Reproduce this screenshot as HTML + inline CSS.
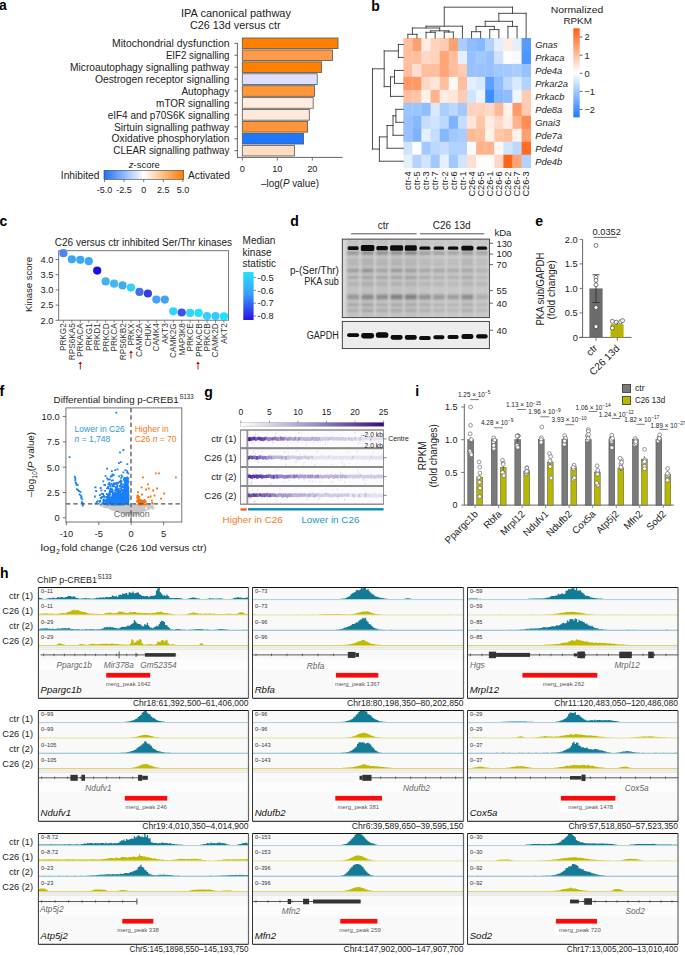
<!DOCTYPE html>
<html><head><meta charset="utf-8"><style>
html,body{margin:0;padding:0;background:#fff;}
svg{display:block;font-family:"Liberation Sans", sans-serif;}
</style></head><body>
<svg width="685" height="955" viewBox="0 0 685 955">
<rect width="685" height="955" fill="#fff"/>
<text x="-0.90" y="9.90" font-size="14" font-weight="bold" fill="#000">a</text>
<text x="236.00" y="16.80" font-size="10.5" text-anchor="middle" textLength="110" lengthAdjust="spacingAndGlyphs" fill="#222">IPA canonical pathway</text>
<text x="235.30" y="29.10" font-size="10.5" text-anchor="middle" textLength="90.6" lengthAdjust="spacingAndGlyphs" fill="#222">C26 13d versus ctr</text>
<rect x="242.30" y="38.00" width="95.70" height="10.60" fill="#ff7f00" stroke="#555" stroke-width="0.8"/>
<line x1="234.40" y1="43.30" x2="237.40" y2="43.30" stroke="#444" stroke-width="0.8"/>
<text x="229.50" y="47.01" font-size="10.3" text-anchor="end" textLength="117.5" lengthAdjust="spacingAndGlyphs" fill="#222">Mitochondrial dysfunction</text>
<rect x="242.30" y="49.93" width="90.10" height="10.60" fill="#ff9a4a" stroke="#555" stroke-width="0.8"/>
<line x1="234.40" y1="55.23" x2="237.40" y2="55.23" stroke="#444" stroke-width="0.8"/>
<text x="229.50" y="58.94" font-size="10.3" text-anchor="end" textLength="63.599999999999994" lengthAdjust="spacingAndGlyphs" fill="#222">EIF2 signalling</text>
<rect x="242.30" y="61.86" width="79.30" height="10.60" fill="#ff7f00" stroke="#555" stroke-width="0.8"/>
<line x1="234.40" y1="67.16" x2="237.40" y2="67.16" stroke="#444" stroke-width="0.8"/>
<text x="229.50" y="70.87" font-size="10.3" text-anchor="end" textLength="159.5" lengthAdjust="spacingAndGlyphs" fill="#222">Microautophagy signalling pathway</text>
<rect x="242.30" y="73.79" width="74.90" height="10.60" fill="#dfe0ff" stroke="#555" stroke-width="0.8"/>
<line x1="234.40" y1="79.09" x2="237.40" y2="79.09" stroke="#444" stroke-width="0.8"/>
<text x="229.50" y="82.80" font-size="10.3" text-anchor="end" textLength="134.6" lengthAdjust="spacingAndGlyphs" fill="#222">Oestrogen receptor signalling</text>
<rect x="242.30" y="85.72" width="72.30" height="10.60" fill="#ff9638" stroke="#555" stroke-width="0.8"/>
<line x1="234.40" y1="91.02" x2="237.40" y2="91.02" stroke="#444" stroke-width="0.8"/>
<text x="229.50" y="94.73" font-size="10.3" text-anchor="end" textLength="48.099999999999994" lengthAdjust="spacingAndGlyphs" fill="#222">Autophagy</text>
<rect x="242.30" y="97.65" width="70.90" height="10.60" fill="#ffede0" stroke="#555" stroke-width="0.8"/>
<line x1="234.40" y1="102.95" x2="237.40" y2="102.95" stroke="#444" stroke-width="0.8"/>
<text x="229.50" y="106.66" font-size="10.3" text-anchor="end" textLength="73.4" lengthAdjust="spacingAndGlyphs" fill="#222">mTOR signalling</text>
<rect x="242.30" y="109.58" width="67.00" height="10.60" fill="#ffe9da" stroke="#555" stroke-width="0.8"/>
<line x1="234.40" y1="114.88" x2="237.40" y2="114.88" stroke="#444" stroke-width="0.8"/>
<text x="229.50" y="118.59" font-size="10.3" text-anchor="end" textLength="121.8" lengthAdjust="spacingAndGlyphs" fill="#222">eIF4 and p70S6K signalling</text>
<rect x="242.30" y="121.51" width="65.30" height="10.60" fill="#ff9538" stroke="#555" stroke-width="0.8"/>
<line x1="234.40" y1="126.81" x2="237.40" y2="126.81" stroke="#444" stroke-width="0.8"/>
<text x="229.50" y="130.52" font-size="10.3" text-anchor="end" textLength="115.5" lengthAdjust="spacingAndGlyphs" fill="#222">Sirtuin signalling pathway</text>
<rect x="242.30" y="133.44" width="61.30" height="10.60" fill="#1e78ff" stroke="#555" stroke-width="0.8"/>
<line x1="234.40" y1="138.74" x2="237.40" y2="138.74" stroke="#444" stroke-width="0.8"/>
<text x="229.50" y="142.45" font-size="10.3" text-anchor="end" textLength="117.9" lengthAdjust="spacingAndGlyphs" fill="#222">Oxidative phosphorylation</text>
<rect x="242.30" y="145.37" width="52.10" height="10.60" fill="#ffdcc2" stroke="#555" stroke-width="0.8"/>
<line x1="234.40" y1="150.67" x2="237.40" y2="150.67" stroke="#444" stroke-width="0.8"/>
<text x="229.50" y="154.38" font-size="10.3" text-anchor="end" textLength="116.2" lengthAdjust="spacingAndGlyphs" fill="#222">CLEAR signalling pathway</text>
<line x1="237.40" y1="43.10" x2="237.40" y2="157.60" stroke="#555" stroke-width="0.9"/>
<line x1="237.00" y1="157.40" x2="342.60" y2="157.40" stroke="#555" stroke-width="0.9"/>
<line x1="242.30" y1="157.40" x2="242.30" y2="160.50" stroke="#555" stroke-width="0.8"/>
<text x="242.30" y="172.31" font-size="9.2" text-anchor="middle" fill="#222">0</text>
<line x1="277.30" y1="157.40" x2="277.30" y2="160.50" stroke="#555" stroke-width="0.8"/>
<text x="277.30" y="172.31" font-size="9.2" text-anchor="middle" fill="#222">10</text>
<line x1="312.30" y1="157.40" x2="312.30" y2="160.50" stroke="#555" stroke-width="0.8"/>
<text x="312.30" y="172.31" font-size="9.2" text-anchor="middle" fill="#222">20</text>
<text x="290" y="187.41" font-size="10.3" text-anchor="middle" textLength="58" lengthAdjust="spacingAndGlyphs" fill="#222">–log(<tspan font-style="italic">P</tspan> value)</text>
<defs><linearGradient id="ga" x1="0" x2="1" y1="0" y2="0"><stop offset="0" stop-color="#1e6fff"/><stop offset="0.5" stop-color="#ffffff"/><stop offset="1" stop-color="#ff7a00"/></linearGradient></defs>
<rect x="104.00" y="170.30" width="79.70" height="9.10" fill="url(#ga)" stroke="#444" stroke-width="0.6"/>
<text x="144.30" y="167.92" font-size="9.5" text-anchor="middle" fill="#222"><tspan font-style="italic">z</tspan>-score</text>
<text x="99.40" y="178.67" font-size="10.2" text-anchor="end" fill="#222">Inhibited</text>
<text x="188.00" y="178.67" font-size="10.2" fill="#222">Activated</text>
<line x1="104.50" y1="179.40" x2="104.50" y2="182.00" stroke="#444" stroke-width="0.7"/>
<text x="104.50" y="192.94" font-size="9" text-anchor="middle" fill="#222">-5.0</text>
<line x1="124.10" y1="179.40" x2="124.10" y2="182.00" stroke="#444" stroke-width="0.7"/>
<text x="124.10" y="192.94" font-size="9" text-anchor="middle" fill="#222">-2.5</text>
<line x1="143.70" y1="179.40" x2="143.70" y2="182.00" stroke="#444" stroke-width="0.7"/>
<text x="143.70" y="192.94" font-size="9" text-anchor="middle" fill="#222">0</text>
<line x1="163.30" y1="179.40" x2="163.30" y2="182.00" stroke="#444" stroke-width="0.7"/>
<text x="163.30" y="192.94" font-size="9" text-anchor="middle" fill="#222">2.5</text>
<line x1="182.90" y1="179.40" x2="182.90" y2="182.00" stroke="#444" stroke-width="0.7"/>
<text x="182.90" y="192.94" font-size="9" text-anchor="middle" fill="#222">5.0</text>
<text x="371.30" y="10.50" font-size="14" font-weight="bold" fill="#000">b</text>
<rect x="403.30" y="38.00" width="9.40" height="13.27" fill="#ffbf9f"/>
<rect x="412.40" y="38.00" width="9.40" height="13.27" fill="#ffa070"/>
<rect x="421.50" y="38.00" width="9.40" height="13.27" fill="#ffece2"/>
<rect x="430.60" y="38.00" width="9.40" height="13.27" fill="#ffd2bc"/>
<rect x="439.70" y="38.00" width="9.40" height="13.27" fill="#ffccb3"/>
<rect x="448.80" y="38.00" width="9.40" height="13.27" fill="#ffa070"/>
<rect x="457.90" y="38.00" width="9.40" height="13.27" fill="#aacdff"/>
<rect x="467.00" y="38.00" width="9.40" height="13.27" fill="#8fbdff"/>
<rect x="476.10" y="38.00" width="9.40" height="13.27" fill="#86b8ff"/>
<rect x="485.20" y="38.00" width="9.40" height="13.27" fill="#b3d2ff"/>
<rect x="494.30" y="38.00" width="9.40" height="13.27" fill="#e5f0ff"/>
<rect x="503.40" y="38.00" width="9.40" height="13.27" fill="#ffece2"/>
<rect x="512.50" y="38.00" width="9.40" height="13.27" fill="#e5f0ff"/>
<rect x="521.60" y="38.00" width="9.40" height="13.27" fill="#559bff"/>
<rect x="403.30" y="50.97" width="9.40" height="13.27" fill="#ffbf9f"/>
<rect x="412.40" y="50.97" width="9.40" height="13.27" fill="#ffbf9f"/>
<rect x="421.50" y="50.97" width="9.40" height="13.27" fill="#ffd9c6"/>
<rect x="430.60" y="50.97" width="9.40" height="13.27" fill="#ffd2bc"/>
<rect x="439.70" y="50.97" width="9.40" height="13.27" fill="#ffa679"/>
<rect x="448.80" y="50.97" width="9.40" height="13.27" fill="#ffbf9f"/>
<rect x="457.90" y="50.97" width="9.40" height="13.27" fill="#e5f0ff"/>
<rect x="467.00" y="50.97" width="9.40" height="13.27" fill="#98c2ff"/>
<rect x="476.10" y="50.97" width="9.40" height="13.27" fill="#a1c8ff"/>
<rect x="485.20" y="50.97" width="9.40" height="13.27" fill="#98c2ff"/>
<rect x="494.30" y="50.97" width="9.40" height="13.27" fill="#d0e3ff"/>
<rect x="503.40" y="50.97" width="9.40" height="13.27" fill="#ffffff"/>
<rect x="512.50" y="50.97" width="9.40" height="13.27" fill="#f7faff"/>
<rect x="521.60" y="50.97" width="9.40" height="13.27" fill="#4d96ff"/>
<rect x="403.30" y="63.94" width="9.40" height="13.27" fill="#ffbf9f"/>
<rect x="412.40" y="63.94" width="9.40" height="13.27" fill="#ffdfcf"/>
<rect x="421.50" y="63.94" width="9.40" height="13.27" fill="#ffbf9f"/>
<rect x="430.60" y="63.94" width="9.40" height="13.27" fill="#ffbf9f"/>
<rect x="439.70" y="63.94" width="9.40" height="13.27" fill="#ffa679"/>
<rect x="448.80" y="63.94" width="9.40" height="13.27" fill="#ffbf9f"/>
<rect x="457.90" y="63.94" width="9.40" height="13.27" fill="#ffccb3"/>
<rect x="467.00" y="63.94" width="9.40" height="13.27" fill="#98c2ff"/>
<rect x="476.10" y="63.94" width="9.40" height="13.27" fill="#98c2ff"/>
<rect x="485.20" y="63.94" width="9.40" height="13.27" fill="#98c2ff"/>
<rect x="494.30" y="63.94" width="9.40" height="13.27" fill="#a1c8ff"/>
<rect x="503.40" y="63.94" width="9.40" height="13.27" fill="#a1c8ff"/>
<rect x="512.50" y="63.94" width="9.40" height="13.27" fill="#aacdff"/>
<rect x="521.60" y="63.94" width="9.40" height="13.27" fill="#98c2ff"/>
<rect x="403.30" y="76.91" width="9.40" height="13.27" fill="#ff9966"/>
<rect x="412.40" y="76.91" width="9.40" height="13.27" fill="#ff9966"/>
<rect x="421.50" y="76.91" width="9.40" height="13.27" fill="#ffd9c6"/>
<rect x="430.60" y="76.91" width="9.40" height="13.27" fill="#ffe6d9"/>
<rect x="439.70" y="76.91" width="9.40" height="13.27" fill="#ffbf9f"/>
<rect x="448.80" y="76.91" width="9.40" height="13.27" fill="#fff9f5"/>
<rect x="457.90" y="76.91" width="9.40" height="13.27" fill="#ffbf9f"/>
<rect x="467.00" y="76.91" width="9.40" height="13.27" fill="#e5f0ff"/>
<rect x="476.10" y="76.91" width="9.40" height="13.27" fill="#dae9ff"/>
<rect x="485.20" y="76.91" width="9.40" height="13.27" fill="#5da0ff"/>
<rect x="494.30" y="76.91" width="9.40" height="13.27" fill="#8fbdff"/>
<rect x="503.40" y="76.91" width="9.40" height="13.27" fill="#bcd8ff"/>
<rect x="512.50" y="76.91" width="9.40" height="13.27" fill="#dae9ff"/>
<rect x="521.60" y="76.91" width="9.40" height="13.27" fill="#b3d2ff"/>
<rect x="403.30" y="89.88" width="9.40" height="13.27" fill="#ffbf9f"/>
<rect x="412.40" y="89.88" width="9.40" height="13.27" fill="#ffc6a9"/>
<rect x="421.50" y="89.88" width="9.40" height="13.27" fill="#fff2ec"/>
<rect x="430.60" y="89.88" width="9.40" height="13.27" fill="#ffb38c"/>
<rect x="439.70" y="89.88" width="9.40" height="13.27" fill="#ffece2"/>
<rect x="448.80" y="89.88" width="9.40" height="13.27" fill="#ffe6d9"/>
<rect x="457.90" y="89.88" width="9.40" height="13.27" fill="#ffccb3"/>
<rect x="467.00" y="89.88" width="9.40" height="13.27" fill="#d0e3ff"/>
<rect x="476.10" y="89.88" width="9.40" height="13.27" fill="#eaf3ff"/>
<rect x="485.20" y="89.88" width="9.40" height="13.27" fill="#3d8dff"/>
<rect x="494.30" y="89.88" width="9.40" height="13.27" fill="#86b8ff"/>
<rect x="503.40" y="89.88" width="9.40" height="13.27" fill="#8fbdff"/>
<rect x="512.50" y="89.88" width="9.40" height="13.27" fill="#f0f6ff"/>
<rect x="521.60" y="89.88" width="9.40" height="13.27" fill="#ffccb3"/>
<rect x="403.30" y="102.85" width="9.40" height="13.27" fill="#9cc5ff"/>
<rect x="412.40" y="102.85" width="9.40" height="13.27" fill="#9cc5ff"/>
<rect x="421.50" y="102.85" width="9.40" height="13.27" fill="#8fbdff"/>
<rect x="430.60" y="102.85" width="9.40" height="13.27" fill="#dae9ff"/>
<rect x="439.70" y="102.85" width="9.40" height="13.27" fill="#aacdff"/>
<rect x="448.80" y="102.85" width="9.40" height="13.27" fill="#bcd8ff"/>
<rect x="457.90" y="102.85" width="9.40" height="13.27" fill="#a1c8ff"/>
<rect x="467.00" y="102.85" width="9.40" height="13.27" fill="#ffd2bc"/>
<rect x="476.10" y="102.85" width="9.40" height="13.27" fill="#ffd2bc"/>
<rect x="485.20" y="102.85" width="9.40" height="13.27" fill="#ffd9c6"/>
<rect x="494.30" y="102.85" width="9.40" height="13.27" fill="#ffb996"/>
<rect x="503.40" y="102.85" width="9.40" height="13.27" fill="#fff2ec"/>
<rect x="512.50" y="102.85" width="9.40" height="13.27" fill="#ff9966"/>
<rect x="521.60" y="102.85" width="9.40" height="13.27" fill="#ffccb3"/>
<rect x="403.30" y="115.82" width="9.40" height="13.27" fill="#98c2ff"/>
<rect x="412.40" y="115.82" width="9.40" height="13.27" fill="#86b8ff"/>
<rect x="421.50" y="115.82" width="9.40" height="13.27" fill="#c6ddff"/>
<rect x="430.60" y="115.82" width="9.40" height="13.27" fill="#d0e3ff"/>
<rect x="439.70" y="115.82" width="9.40" height="13.27" fill="#bcd8ff"/>
<rect x="448.80" y="115.82" width="9.40" height="13.27" fill="#7eb3ff"/>
<rect x="457.90" y="115.82" width="9.40" height="13.27" fill="#c6ddff"/>
<rect x="467.00" y="115.82" width="9.40" height="13.27" fill="#ffe6d9"/>
<rect x="476.10" y="115.82" width="9.40" height="13.27" fill="#ffc6a9"/>
<rect x="485.20" y="115.82" width="9.40" height="13.27" fill="#ffece2"/>
<rect x="494.30" y="115.82" width="9.40" height="13.27" fill="#ffd9c6"/>
<rect x="503.40" y="115.82" width="9.40" height="13.27" fill="#ffece2"/>
<rect x="512.50" y="115.82" width="9.40" height="13.27" fill="#ffb38c"/>
<rect x="521.60" y="115.82" width="9.40" height="13.27" fill="#ff8d53"/>
<rect x="403.30" y="128.79" width="9.40" height="13.27" fill="#98c2ff"/>
<rect x="412.40" y="128.79" width="9.40" height="13.27" fill="#7eb3ff"/>
<rect x="421.50" y="128.79" width="9.40" height="13.27" fill="#e5f0ff"/>
<rect x="430.60" y="128.79" width="9.40" height="13.27" fill="#c6ddff"/>
<rect x="439.70" y="128.79" width="9.40" height="13.27" fill="#86b8ff"/>
<rect x="448.80" y="128.79" width="9.40" height="13.27" fill="#a1c8ff"/>
<rect x="457.90" y="128.79" width="9.40" height="13.27" fill="#aacdff"/>
<rect x="467.00" y="128.79" width="9.40" height="13.27" fill="#ffb996"/>
<rect x="476.10" y="128.79" width="9.40" height="13.27" fill="#ffbf9f"/>
<rect x="485.20" y="128.79" width="9.40" height="13.27" fill="#fff2ec"/>
<rect x="494.30" y="128.79" width="9.40" height="13.27" fill="#ffc6a9"/>
<rect x="503.40" y="128.79" width="9.40" height="13.27" fill="#ffbf9f"/>
<rect x="512.50" y="128.79" width="9.40" height="13.27" fill="#fff2ec"/>
<rect x="521.60" y="128.79" width="9.40" height="13.27" fill="#ffa070"/>
<rect x="403.30" y="141.76" width="9.40" height="13.27" fill="#d0e3ff"/>
<rect x="412.40" y="141.76" width="9.40" height="13.27" fill="#ffffff"/>
<rect x="421.50" y="141.76" width="9.40" height="13.27" fill="#a1c8ff"/>
<rect x="430.60" y="141.76" width="9.40" height="13.27" fill="#bcd8ff"/>
<rect x="439.70" y="141.76" width="9.40" height="13.27" fill="#c6ddff"/>
<rect x="448.80" y="141.76" width="9.40" height="13.27" fill="#b3d2ff"/>
<rect x="457.90" y="141.76" width="9.40" height="13.27" fill="#b3d2ff"/>
<rect x="467.00" y="141.76" width="9.40" height="13.27" fill="#f7faff"/>
<rect x="476.10" y="141.76" width="9.40" height="13.27" fill="#ffb38c"/>
<rect x="485.20" y="141.76" width="9.40" height="13.27" fill="#ffb38c"/>
<rect x="494.30" y="141.76" width="9.40" height="13.27" fill="#fff9f5"/>
<rect x="503.40" y="141.76" width="9.40" height="13.27" fill="#d0e3ff"/>
<rect x="512.50" y="141.76" width="9.40" height="13.27" fill="#bcd8ff"/>
<rect x="521.60" y="141.76" width="9.40" height="13.27" fill="#ff6d23"/>
<rect x="403.30" y="154.73" width="9.40" height="13.27" fill="#e5f0ff"/>
<rect x="412.40" y="154.73" width="9.40" height="13.27" fill="#b3d2ff"/>
<rect x="421.50" y="154.73" width="9.40" height="13.27" fill="#d0e3ff"/>
<rect x="430.60" y="154.73" width="9.40" height="13.27" fill="#a1c8ff"/>
<rect x="439.70" y="154.73" width="9.40" height="13.27" fill="#e5f0ff"/>
<rect x="448.80" y="154.73" width="9.40" height="13.27" fill="#a1c8ff"/>
<rect x="457.90" y="154.73" width="9.40" height="13.27" fill="#d0e3ff"/>
<rect x="467.00" y="154.73" width="9.40" height="13.27" fill="#ffdfcf"/>
<rect x="476.10" y="154.73" width="9.40" height="13.27" fill="#fffcfa"/>
<rect x="485.20" y="154.73" width="9.40" height="13.27" fill="#fffcfa"/>
<rect x="494.30" y="154.73" width="9.40" height="13.27" fill="#ffd9c6"/>
<rect x="503.40" y="154.73" width="9.40" height="13.27" fill="#ff661a"/>
<rect x="512.50" y="154.73" width="9.40" height="13.27" fill="#ffa679"/>
<rect x="521.60" y="154.73" width="9.40" height="13.27" fill="#b3d2ff"/>
<text x="535.20" y="47.87" font-size="9.4" font-style="italic" fill="#222">Gnas</text>
<text x="535.20" y="60.84" font-size="9.4" font-style="italic" fill="#222">Prkaca</text>
<text x="535.20" y="73.81" font-size="9.4" font-style="italic" fill="#222">Pde4a</text>
<text x="535.20" y="86.78" font-size="9.4" font-style="italic" fill="#222">Prkar2a</text>
<text x="535.20" y="99.75" font-size="9.4" font-style="italic" fill="#222">Prkacb</text>
<text x="535.20" y="112.72" font-size="9.4" font-style="italic" fill="#222">Pde8a</text>
<text x="535.20" y="125.69" font-size="9.4" font-style="italic" fill="#222">Gnai3</text>
<text x="535.20" y="138.66" font-size="9.4" font-style="italic" fill="#222">Pde7a</text>
<text x="535.20" y="151.63" font-size="9.4" font-style="italic" fill="#222">Pde4d</text>
<text x="535.20" y="164.60" font-size="9.4" font-style="italic" fill="#222">Pde4b</text>
<text transform="translate(407.85,171.50) rotate(-90)" x="0" y="3.31" font-size="9.2" text-anchor="end" fill="#222">ctr-4</text>
<text transform="translate(416.95,171.50) rotate(-90)" x="0" y="3.31" font-size="9.2" text-anchor="end" fill="#222">ctr-5</text>
<text transform="translate(426.05,171.50) rotate(-90)" x="0" y="3.31" font-size="9.2" text-anchor="end" fill="#222">ctr-3</text>
<text transform="translate(435.15,171.50) rotate(-90)" x="0" y="3.31" font-size="9.2" text-anchor="end" fill="#222">ctr-7</text>
<text transform="translate(444.25,171.50) rotate(-90)" x="0" y="3.31" font-size="9.2" text-anchor="end" fill="#222">ctr-2</text>
<text transform="translate(453.35,171.50) rotate(-90)" x="0" y="3.31" font-size="9.2" text-anchor="end" fill="#222">ctr-6</text>
<text transform="translate(462.45,171.50) rotate(-90)" x="0" y="3.31" font-size="9.2" text-anchor="end" fill="#222">ctr-1</text>
<text transform="translate(471.55,171.50) rotate(-90)" x="0" y="3.31" font-size="9.2" text-anchor="end" fill="#222">C26-4</text>
<text transform="translate(480.65,171.50) rotate(-90)" x="0" y="3.31" font-size="9.2" text-anchor="end" fill="#222">C26-5</text>
<text transform="translate(489.75,171.50) rotate(-90)" x="0" y="3.31" font-size="9.2" text-anchor="end" fill="#222">C26-1</text>
<text transform="translate(498.85,171.50) rotate(-90)" x="0" y="3.31" font-size="9.2" text-anchor="end" fill="#222">C26-6</text>
<text transform="translate(507.95,171.50) rotate(-90)" x="0" y="3.31" font-size="9.2" text-anchor="end" fill="#222">C26-2</text>
<text transform="translate(517.05,171.50) rotate(-90)" x="0" y="3.31" font-size="9.2" text-anchor="end" fill="#222">C26-7</text>
<text transform="translate(526.15,171.50) rotate(-90)" x="0" y="3.31" font-size="9.2" text-anchor="end" fill="#222">C26-3</text>
<path d="M407.85,38.00L407.85,34.30 M407.85,34.30L416.95,34.30 M416.95,34.30L416.95,38.00 M426.05,38.00L426.05,32.30 M426.05,32.30L435.15,32.30 M435.15,32.30L435.15,38.00 M444.25,38.00L444.25,32.00 M444.25,32.00L453.35,32.00 M453.35,32.00L453.35,38.00 M430.60,32.30L430.60,30.80 M430.60,30.80L448.80,30.80 M448.80,30.80L448.80,32.00 M412.40,34.30L412.40,28.00 M412.40,28.00L439.70,28.00 M439.70,28.00L439.70,30.80 M426.05,28.00L426.05,26.20 M426.05,26.20L462.45,26.20 M462.45,26.20L462.45,38.00 M471.55,38.00L471.55,31.70 M471.55,31.70L480.65,31.70 M480.65,31.70L480.65,38.00 M489.75,38.00L489.75,29.60 M489.75,29.60L498.85,29.60 M498.85,29.60L498.85,38.00 M476.10,31.70L476.10,26.40 M476.10,26.40L494.30,26.40 M494.30,26.40L494.30,29.60 M507.95,38.00L507.95,26.40 M507.95,26.40L517.05,26.40 M517.05,26.40L517.05,38.00 M485.20,26.40L485.20,21.30 M485.20,21.30L512.50,21.30 M512.50,21.30L512.50,26.40 M498.85,21.30L498.85,13.30 M498.85,13.30L526.15,13.30 M526.15,13.30L526.15,38.00 M444.25,26.20L444.25,7.20 M444.25,7.20L512.50,7.20 M512.50,7.20L512.50,13.30 M403.30,44.48L398.40,44.48 M398.40,44.48L398.40,57.45 M398.40,57.45L403.30,57.45 M403.30,70.43L394.50,70.43 M394.50,70.43L394.50,83.40 M394.50,83.40L403.30,83.40 M394.50,76.91L390.50,76.91 M390.50,76.91L390.50,96.37 M390.50,96.37L403.30,96.37 M398.40,50.97L384.20,50.97 M384.20,50.97L384.20,86.64 M384.20,86.64L390.50,86.64 M403.30,109.34L395.90,109.34 M395.90,109.34L395.90,122.31 M395.90,122.31L403.30,122.31 M395.90,115.82L393.00,115.82 M393.00,115.82L393.00,135.28 M393.00,135.28L403.30,135.28 M393.00,125.55L387.10,125.55 M387.10,125.55L387.10,148.25 M387.10,148.25L403.30,148.25 M387.10,136.90L379.40,136.90 M379.40,136.90L379.40,161.22 M379.40,161.22L403.30,161.22 M384.20,68.80L372.50,68.80 M372.50,68.80L372.50,149.06 M372.50,149.06L379.40,149.06" stroke="#3a3a3a" stroke-width="0.9" fill="none" stroke-linecap="square"/>
<defs><linearGradient id="gb" x1="0" x2="0" y1="0" y2="1"><stop offset="0" stop-color="#ff5e0e"/><stop offset="0.5" stop-color="#ffffff"/><stop offset="1" stop-color="#1e7bff"/></linearGradient></defs>
<rect x="573.30" y="28.30" width="6.40" height="89.10" fill="url(#gb)"/>
<line x1="579.70" y1="37.10" x2="582.50" y2="37.10" stroke="#444" stroke-width="0.8"/>
<text x="584.50" y="40.41" font-size="9.2" fill="#222">2</text>
<line x1="579.70" y1="55.20" x2="582.50" y2="55.20" stroke="#444" stroke-width="0.8"/>
<text x="584.50" y="58.51" font-size="9.2" fill="#222">1</text>
<line x1="579.70" y1="73.30" x2="582.50" y2="73.30" stroke="#444" stroke-width="0.8"/>
<text x="584.50" y="76.61" font-size="9.2" fill="#222">0</text>
<line x1="579.70" y1="91.40" x2="582.50" y2="91.40" stroke="#444" stroke-width="0.8"/>
<text x="584.50" y="94.71" font-size="9.2" fill="#222">−1</text>
<line x1="579.70" y1="109.50" x2="582.50" y2="109.50" stroke="#444" stroke-width="0.8"/>
<text x="584.50" y="112.81" font-size="9.2" fill="#222">−2</text>
<text x="550.70" y="13.16" font-size="9.9" textLength="52.5" lengthAdjust="spacingAndGlyphs" fill="#222">Normalized</text>
<text x="563.40" y="24.26" font-size="9.9" fill="#222">RPKM</text>
<text x="-0.60" y="225.60" font-size="14" font-weight="bold" fill="#000">c</text>
<text x="54.80" y="246.30" font-size="10.0" fill="#222">C26 versus ctr inhibited Ser/Thr kinases</text>
<rect x="58.70" y="250.70" width="169.90" height="69.50" fill="none" stroke="#666" stroke-width="0.9"/>
<line x1="55.50" y1="320.30" x2="58.70" y2="320.30" stroke="#555" stroke-width="0.8"/>
<text x="53.50" y="323.65" font-size="9.3" text-anchor="end" fill="#222">2.0</text>
<line x1="55.50" y1="305.10" x2="58.70" y2="305.10" stroke="#555" stroke-width="0.8"/>
<text x="53.50" y="308.45" font-size="9.3" text-anchor="end" fill="#222">2.5</text>
<line x1="55.50" y1="289.90" x2="58.70" y2="289.90" stroke="#555" stroke-width="0.8"/>
<text x="53.50" y="293.25" font-size="9.3" text-anchor="end" fill="#222">3.0</text>
<line x1="55.50" y1="274.70" x2="58.70" y2="274.70" stroke="#555" stroke-width="0.8"/>
<text x="53.50" y="278.05" font-size="9.3" text-anchor="end" fill="#222">3.5</text>
<line x1="55.50" y1="259.50" x2="58.70" y2="259.50" stroke="#555" stroke-width="0.8"/>
<text x="53.50" y="262.85" font-size="9.3" text-anchor="end" fill="#222">4.0</text>
<text transform="translate(28.60,284.50) rotate(-90)" x="0" y="3.53" font-size="9.8" text-anchor="middle" textLength="55.2" lengthAdjust="spacingAndGlyphs" fill="#222">Kinase score</text>
<circle cx="63.40" cy="253.20" r="4.10" fill="#4a86f5"/>
<line x1="63.40" y1="320.20" x2="63.40" y2="322.80" stroke="#555" stroke-width="0.7"/>
<text transform="translate(63.40,323.30) rotate(-90)" x="0" y="2.95" font-size="8.2" text-anchor="end" fill="#333">PRKG2</text>
<circle cx="71.85" cy="259.30" r="4.10" fill="#3aa6f6"/>
<line x1="71.85" y1="320.20" x2="71.85" y2="322.80" stroke="#555" stroke-width="0.7"/>
<text transform="translate(71.85,323.30) rotate(-90)" x="0" y="2.95" font-size="8.2" text-anchor="end" fill="#333">RPS6KA5</text>
<circle cx="80.30" cy="259.80" r="4.10" fill="#3aa6f6"/>
<line x1="80.30" y1="320.20" x2="80.30" y2="322.80" stroke="#555" stroke-width="0.7"/>
<text transform="translate(80.30,323.30) rotate(-90)" x="0" y="2.95" font-size="8.2" text-anchor="end" fill="#333">PRKACA</text>
<circle cx="88.75" cy="261.20" r="4.10" fill="#3aa8f6"/>
<line x1="88.75" y1="320.20" x2="88.75" y2="322.80" stroke="#555" stroke-width="0.7"/>
<text transform="translate(88.75,323.30) rotate(-90)" x="0" y="2.95" font-size="8.2" text-anchor="end" fill="#333">PRKG1</text>
<circle cx="97.20" cy="270.60" r="4.10" fill="#1a10e0"/>
<line x1="97.20" y1="320.20" x2="97.20" y2="322.80" stroke="#555" stroke-width="0.7"/>
<text transform="translate(97.20,323.30) rotate(-90)" x="0" y="2.95" font-size="8.2" text-anchor="end" fill="#333">PRKD1</text>
<circle cx="105.65" cy="281.40" r="4.10" fill="#40b2f6"/>
<line x1="105.65" y1="320.20" x2="105.65" y2="322.80" stroke="#555" stroke-width="0.7"/>
<text transform="translate(105.65,323.30) rotate(-90)" x="0" y="2.95" font-size="8.2" text-anchor="end" fill="#333">PRKCD</text>
<circle cx="114.10" cy="283.70" r="4.10" fill="#40b6f6"/>
<line x1="114.10" y1="320.20" x2="114.10" y2="322.80" stroke="#555" stroke-width="0.7"/>
<text transform="translate(114.10,323.30) rotate(-90)" x="0" y="2.95" font-size="8.2" text-anchor="end" fill="#333">PRKCA</text>
<circle cx="122.55" cy="285.40" r="4.10" fill="#40acf6"/>
<line x1="122.55" y1="320.20" x2="122.55" y2="322.80" stroke="#555" stroke-width="0.7"/>
<text transform="translate(122.55,323.30) rotate(-90)" x="0" y="2.95" font-size="8.2" text-anchor="end" fill="#333">RPS6KB2</text>
<circle cx="131.00" cy="287.60" r="4.10" fill="#30d0ff"/>
<line x1="131.00" y1="320.20" x2="131.00" y2="322.80" stroke="#555" stroke-width="0.7"/>
<text transform="translate(131.00,323.30) rotate(-90)" x="0" y="2.95" font-size="8.2" text-anchor="end" fill="#333">PRKX</text>
<circle cx="139.45" cy="291.90" r="4.10" fill="#4070f0"/>
<line x1="139.45" y1="320.20" x2="139.45" y2="322.80" stroke="#555" stroke-width="0.7"/>
<text transform="translate(139.45,323.30) rotate(-90)" x="0" y="2.95" font-size="8.2" text-anchor="end" fill="#333">CAMK2A</text>
<circle cx="147.90" cy="293.50" r="4.10" fill="#3040e0"/>
<line x1="147.90" y1="320.20" x2="147.90" y2="322.80" stroke="#555" stroke-width="0.7"/>
<text transform="translate(147.90,323.30) rotate(-90)" x="0" y="2.95" font-size="8.2" text-anchor="end" fill="#333">CHUK</text>
<circle cx="156.35" cy="299.60" r="4.10" fill="#45a2f6"/>
<line x1="156.35" y1="320.20" x2="156.35" y2="322.80" stroke="#555" stroke-width="0.7"/>
<text transform="translate(156.35,323.30) rotate(-90)" x="0" y="2.95" font-size="8.2" text-anchor="end" fill="#333">CAMK4</text>
<circle cx="164.80" cy="299.60" r="4.10" fill="#45a2f6"/>
<line x1="164.80" y1="320.20" x2="164.80" y2="322.80" stroke="#555" stroke-width="0.7"/>
<text transform="translate(164.80,323.30) rotate(-90)" x="0" y="2.95" font-size="8.2" text-anchor="end" fill="#333">AKT3</text>
<circle cx="173.25" cy="311.30" r="4.10" fill="#30d2ff"/>
<line x1="173.25" y1="320.20" x2="173.25" y2="322.80" stroke="#555" stroke-width="0.7"/>
<text transform="translate(173.25,323.30) rotate(-90)" x="0" y="2.95" font-size="8.2" text-anchor="end" fill="#333">CAMK2G</text>
<circle cx="181.70" cy="312.50" r="4.10" fill="#3a52e8"/>
<line x1="181.70" y1="320.20" x2="181.70" y2="322.80" stroke="#555" stroke-width="0.7"/>
<text transform="translate(181.70,323.30) rotate(-90)" x="0" y="2.95" font-size="8.2" text-anchor="end" fill="#333">MAP3K8</text>
<circle cx="190.15" cy="312.90" r="4.10" fill="#30d6ff"/>
<line x1="190.15" y1="320.20" x2="190.15" y2="322.80" stroke="#555" stroke-width="0.7"/>
<text transform="translate(190.15,323.30) rotate(-90)" x="0" y="2.95" font-size="8.2" text-anchor="end" fill="#333">PRKCE</text>
<circle cx="198.60" cy="312.90" r="4.10" fill="#20e0ff"/>
<line x1="198.60" y1="320.20" x2="198.60" y2="322.80" stroke="#555" stroke-width="0.7"/>
<text transform="translate(198.60,323.30) rotate(-90)" x="0" y="2.95" font-size="8.2" text-anchor="end" fill="#333">PRKACB</text>
<circle cx="207.05" cy="316.00" r="4.10" fill="#35ccff"/>
<line x1="207.05" y1="320.20" x2="207.05" y2="322.80" stroke="#555" stroke-width="0.7"/>
<text transform="translate(207.05,323.30) rotate(-90)" x="0" y="2.95" font-size="8.2" text-anchor="end" fill="#333">PRKCB</text>
<circle cx="215.50" cy="316.00" r="4.10" fill="#35c8ff"/>
<line x1="215.50" y1="320.20" x2="215.50" y2="322.80" stroke="#555" stroke-width="0.7"/>
<text transform="translate(215.50,323.30) rotate(-90)" x="0" y="2.95" font-size="8.2" text-anchor="end" fill="#333">CAMK2D</text>
<circle cx="223.95" cy="316.40" r="4.10" fill="#20e0ff"/>
<line x1="223.95" y1="320.20" x2="223.95" y2="322.80" stroke="#555" stroke-width="0.7"/>
<text transform="translate(223.95,323.30) rotate(-90)" x="0" y="2.95" font-size="8.2" text-anchor="end" fill="#333">AKT2</text>
<line x1="80.30" y1="369.50" x2="80.30" y2="363.50" stroke="#c00000" stroke-width="0.9"/>
<path d="M78.50,364.10L80.30,361.50L82.10,364.10Z" fill="#c00000"/>
<line x1="131.00" y1="358.50" x2="131.00" y2="352.50" stroke="#c00000" stroke-width="0.9"/>
<path d="M129.20,353.10L131.00,350.50L132.80,353.10Z" fill="#c00000"/>
<line x1="198.00" y1="369.50" x2="198.00" y2="363.50" stroke="#c00000" stroke-width="0.9"/>
<path d="M196.20,364.10L198.00,361.50L199.80,364.10Z" fill="#c00000"/>
<defs><linearGradient id="gc" x1="0" x2="0" y1="0" y2="1"><stop offset="0" stop-color="#22e4ff"/><stop offset="0.45" stop-color="#3aa0f8"/><stop offset="1" stop-color="#2a10e8"/></linearGradient></defs>
<rect x="243.30" y="272.00" width="10.30" height="48.00" fill="url(#gc)"/>
<text x="242.60" y="244.10" font-size="10.0" fill="#222">Median</text>
<text x="242.60" y="255.80" font-size="10.0" fill="#222">kinase</text>
<text x="242.60" y="267.00" font-size="10.0" fill="#222">statistic</text>
<line x1="253.60" y1="277.40" x2="255.80" y2="277.40" stroke="#444" stroke-width="0.7"/>
<text x="257.60" y="280.75" font-size="9.3" fill="#222">-0.5</text>
<line x1="253.60" y1="290.27" x2="255.80" y2="290.27" stroke="#444" stroke-width="0.7"/>
<text x="257.60" y="293.62" font-size="9.3" fill="#222">-0.6</text>
<line x1="253.60" y1="303.14" x2="255.80" y2="303.14" stroke="#444" stroke-width="0.7"/>
<text x="257.60" y="306.49" font-size="9.3" fill="#222">-0.7</text>
<line x1="253.60" y1="316.01" x2="255.80" y2="316.01" stroke="#444" stroke-width="0.7"/>
<text x="257.60" y="319.36" font-size="9.3" fill="#222">-0.8</text>
<text x="290.30" y="225.60" font-size="14" font-weight="bold" fill="#000">d</text>
<text x="383.40" y="228.60" font-size="10" text-anchor="middle" fill="#222">ctr</text>
<text x="451.70" y="228.60" font-size="10" text-anchor="middle" fill="#222">C26 13d</text>
<line x1="351.00" y1="233.80" x2="416.60" y2="233.80" stroke="#444" stroke-width="0.9"/>
<line x1="420.00" y1="233.80" x2="484.30" y2="233.80" stroke="#444" stroke-width="0.9"/>
<text x="494.40" y="235.72" font-size="9.5" fill="#222">kDa</text>
<line x1="489.50" y1="243.30" x2="493.00" y2="243.30" stroke="#444" stroke-width="0.8"/>
<text x="496.50" y="246.65" font-size="9.3" fill="#222">130</text>
<line x1="489.50" y1="254.10" x2="493.00" y2="254.10" stroke="#444" stroke-width="0.8"/>
<text x="496.50" y="257.45" font-size="9.3" fill="#222">100</text>
<line x1="489.50" y1="264.60" x2="493.00" y2="264.60" stroke="#444" stroke-width="0.8"/>
<text x="496.50" y="267.95" font-size="9.3" fill="#222">70</text>
<line x1="489.50" y1="290.60" x2="493.00" y2="290.60" stroke="#444" stroke-width="0.8"/>
<text x="496.50" y="293.95" font-size="9.3" fill="#222">55</text>
<line x1="489.50" y1="303.20" x2="493.00" y2="303.20" stroke="#444" stroke-width="0.8"/>
<text x="496.50" y="306.55" font-size="9.3" fill="#222">40</text>
<line x1="489.50" y1="330.20" x2="493.00" y2="330.20" stroke="#444" stroke-width="0.8"/>
<text x="496.50" y="333.55" font-size="9.3" fill="#222">40</text>
<text x="338.90" y="274.20" font-size="10" text-anchor="end" fill="#222">p-(Ser/Thr)</text>
<text x="338.90" y="285.40" font-size="10" text-anchor="end" textLength="34.7" lengthAdjust="spacingAndGlyphs" fill="#222">PKA sub</text>
<text x="338.90" y="339.00" font-size="10" text-anchor="end" textLength="32.2" lengthAdjust="spacingAndGlyphs" fill="#222">GAPDH</text>
<defs><filter id="bl1" x="-20%" y="-20%" width="140%" height="140%"><feGaussianBlur stdDeviation="1.3"/></filter><filter id="bl2" x="-20%" y="-50%" width="140%" height="200%"><feGaussianBlur stdDeviation="0.7"/></filter><clipPath id="cpd1"><rect x="342.3" y="239.1" width="147.1" height="78.5"/></clipPath><clipPath id="cpd2"><rect x="342.3" y="321.4" width="147.1" height="27.2"/></clipPath></defs>
<rect x="342.30" y="239.10" width="147.10" height="78.50" fill="#d7d7d7"/>
<g clip-path="url(#cpd1)">
<g filter="url(#bl1)"><rect x="346.60" y="239" width="13" height="79" fill="rgb(195,195,195)"/><rect x="347.10" y="251.25" width="12" height="3.50" fill="rgb(145,145,145)" opacity="0.9"/><rect x="347.10" y="259.50" width="12" height="2.00" fill="rgb(171,171,171)" opacity="0.9"/><rect x="347.10" y="263.00" width="12" height="2.00" fill="rgb(172,172,172)" opacity="0.9"/><rect x="347.10" y="268.75" width="12" height="3.50" fill="rgb(152,152,152)" opacity="0.9"/><rect x="347.10" y="276.00" width="12" height="3.00" fill="rgb(163,163,163)" opacity="0.9"/><rect x="347.10" y="282.00" width="12" height="4.00" fill="rgb(178,178,178)" opacity="0.9"/><rect x="347.10" y="294.50" width="12" height="5.00" fill="rgb(146,146,146)" opacity="0.9"/><rect x="347.10" y="303.55" width="12" height="2.50" fill="rgb(159,159,159)" opacity="0.9"/><rect x="347.10" y="309.25" width="12" height="2.50" fill="rgb(169,169,169)" opacity="0.9"/><rect x="361.10" y="239" width="13" height="79" fill="rgb(192,192,192)"/><rect x="361.60" y="251.25" width="12" height="3.50" fill="rgb(133,133,133)" opacity="0.9"/><rect x="361.60" y="259.50" width="12" height="2.00" fill="rgb(162,162,162)" opacity="0.9"/><rect x="361.60" y="263.00" width="12" height="2.00" fill="rgb(167,167,167)" opacity="0.9"/><rect x="361.60" y="268.75" width="12" height="3.50" fill="rgb(138,138,138)" opacity="0.9"/><rect x="361.60" y="276.00" width="12" height="3.00" fill="rgb(158,158,158)" opacity="0.9"/><rect x="361.60" y="282.00" width="12" height="4.00" fill="rgb(171,171,171)" opacity="0.9"/><rect x="361.60" y="294.50" width="12" height="5.00" fill="rgb(131,131,131)" opacity="0.9"/><rect x="361.60" y="303.55" width="12" height="2.50" fill="rgb(153,153,153)" opacity="0.9"/><rect x="361.60" y="309.25" width="12" height="2.50" fill="rgb(157,157,157)" opacity="0.9"/><rect x="375.60" y="239" width="13" height="79" fill="rgb(194,194,194)"/><rect x="376.10" y="251.25" width="12" height="3.50" fill="rgb(136,136,136)" opacity="0.9"/><rect x="376.10" y="259.50" width="12" height="2.00" fill="rgb(168,168,168)" opacity="0.9"/><rect x="376.10" y="263.00" width="12" height="2.00" fill="rgb(169,169,169)" opacity="0.9"/><rect x="376.10" y="268.75" width="12" height="3.50" fill="rgb(158,158,158)" opacity="0.9"/><rect x="376.10" y="276.00" width="12" height="3.00" fill="rgb(160,160,160)" opacity="0.9"/><rect x="376.10" y="282.00" width="12" height="4.00" fill="rgb(175,175,175)" opacity="0.9"/><rect x="376.10" y="294.50" width="12" height="5.00" fill="rgb(136,136,136)" opacity="0.9"/><rect x="376.10" y="303.55" width="12" height="2.50" fill="rgb(166,166,166)" opacity="0.9"/><rect x="376.10" y="309.25" width="12" height="2.50" fill="rgb(162,162,162)" opacity="0.9"/><rect x="390.10" y="239" width="13" height="79" fill="rgb(194,194,194)"/><rect x="390.60" y="251.25" width="12" height="3.50" fill="rgb(134,134,134)" opacity="0.9"/><rect x="390.60" y="259.50" width="12" height="2.00" fill="rgb(167,167,167)" opacity="0.9"/><rect x="390.60" y="263.00" width="12" height="2.00" fill="rgb(166,166,166)" opacity="0.9"/><rect x="390.60" y="268.75" width="12" height="3.50" fill="rgb(145,145,145)" opacity="0.9"/><rect x="390.60" y="276.00" width="12" height="3.00" fill="rgb(156,156,156)" opacity="0.9"/><rect x="390.60" y="282.00" width="12" height="4.00" fill="rgb(175,175,175)" opacity="0.9"/><rect x="390.60" y="294.50" width="12" height="5.00" fill="rgb(121,121,121)" opacity="0.9"/><rect x="390.60" y="303.55" width="12" height="2.50" fill="rgb(160,160,160)" opacity="0.9"/><rect x="390.60" y="309.25" width="12" height="2.50" fill="rgb(160,160,160)" opacity="0.9"/><rect x="404.30" y="239" width="13" height="79" fill="rgb(193,193,193)"/><rect x="404.80" y="251.25" width="12" height="3.50" fill="rgb(121,121,121)" opacity="0.9"/><rect x="404.80" y="259.50" width="12" height="2.00" fill="rgb(171,171,171)" opacity="0.9"/><rect x="404.80" y="263.00" width="12" height="2.00" fill="rgb(171,171,171)" opacity="0.9"/><rect x="404.80" y="268.75" width="12" height="3.50" fill="rgb(151,151,151)" opacity="0.9"/><rect x="404.80" y="276.00" width="12" height="3.00" fill="rgb(154,154,154)" opacity="0.9"/><rect x="404.80" y="282.00" width="12" height="4.00" fill="rgb(174,174,174)" opacity="0.9"/><rect x="404.80" y="294.50" width="12" height="5.00" fill="rgb(121,121,121)" opacity="0.9"/><rect x="404.80" y="303.55" width="12" height="2.50" fill="rgb(160,160,160)" opacity="0.9"/><rect x="404.80" y="309.25" width="12" height="2.50" fill="rgb(162,162,162)" opacity="0.9"/><rect x="418.40" y="239" width="13" height="79" fill="rgb(197,197,197)"/><rect x="418.90" y="251.25" width="12" height="3.50" fill="rgb(152,152,152)" opacity="0.9"/><rect x="418.90" y="259.50" width="12" height="2.00" fill="rgb(176,176,176)" opacity="0.9"/><rect x="418.90" y="263.00" width="12" height="2.00" fill="rgb(175,175,175)" opacity="0.9"/><rect x="418.90" y="268.75" width="12" height="3.50" fill="rgb(160,160,160)" opacity="0.9"/><rect x="418.90" y="276.00" width="12" height="3.00" fill="rgb(166,166,166)" opacity="0.9"/><rect x="418.90" y="282.00" width="12" height="4.00" fill="rgb(178,178,178)" opacity="0.9"/><rect x="418.90" y="294.50" width="12" height="5.00" fill="rgb(139,139,139)" opacity="0.9"/><rect x="418.90" y="303.55" width="12" height="2.50" fill="rgb(165,165,165)" opacity="0.9"/><rect x="418.90" y="309.25" width="12" height="2.50" fill="rgb(168,168,168)" opacity="0.9"/><rect x="432.40" y="239" width="13" height="79" fill="rgb(199,199,199)"/><rect x="432.90" y="251.25" width="12" height="3.50" fill="rgb(154,154,154)" opacity="0.9"/><rect x="432.90" y="259.50" width="12" height="2.00" fill="rgb(179,179,179)" opacity="0.9"/><rect x="432.90" y="263.00" width="12" height="2.00" fill="rgb(176,176,176)" opacity="0.9"/><rect x="432.90" y="268.75" width="12" height="3.50" fill="rgb(161,161,161)" opacity="0.9"/><rect x="432.90" y="276.00" width="12" height="3.00" fill="rgb(170,170,170)" opacity="0.9"/><rect x="432.90" y="282.00" width="12" height="4.00" fill="rgb(180,180,180)" opacity="0.9"/><rect x="432.90" y="294.50" width="12" height="5.00" fill="rgb(150,150,150)" opacity="0.9"/><rect x="432.90" y="303.55" width="12" height="2.50" fill="rgb(174,174,174)" opacity="0.9"/><rect x="432.90" y="309.25" width="12" height="2.50" fill="rgb(173,173,173)" opacity="0.9"/><rect x="446.60" y="239" width="13" height="79" fill="rgb(199,199,199)"/><rect x="447.10" y="251.25" width="12" height="3.50" fill="rgb(159,159,159)" opacity="0.9"/><rect x="447.10" y="259.50" width="12" height="2.00" fill="rgb(180,180,180)" opacity="0.9"/><rect x="447.10" y="263.00" width="12" height="2.00" fill="rgb(181,181,181)" opacity="0.9"/><rect x="447.10" y="268.75" width="12" height="3.50" fill="rgb(165,165,165)" opacity="0.9"/><rect x="447.10" y="276.00" width="12" height="3.00" fill="rgb(171,171,171)" opacity="0.9"/><rect x="447.10" y="282.00" width="12" height="4.00" fill="rgb(183,183,183)" opacity="0.9"/><rect x="447.10" y="294.50" width="12" height="5.00" fill="rgb(153,153,153)" opacity="0.9"/><rect x="447.10" y="303.55" width="12" height="2.50" fill="rgb(174,174,174)" opacity="0.9"/><rect x="447.10" y="309.25" width="12" height="2.50" fill="rgb(178,178,178)" opacity="0.9"/><rect x="460.90" y="239" width="13" height="79" fill="rgb(196,196,196)"/><rect x="461.40" y="251.25" width="12" height="3.50" fill="rgb(147,147,147)" opacity="0.9"/><rect x="461.40" y="259.50" width="12" height="2.00" fill="rgb(171,171,171)" opacity="0.9"/><rect x="461.40" y="263.00" width="12" height="2.00" fill="rgb(170,170,170)" opacity="0.9"/><rect x="461.40" y="268.75" width="12" height="3.50" fill="rgb(162,162,162)" opacity="0.9"/><rect x="461.40" y="276.00" width="12" height="3.00" fill="rgb(165,165,165)" opacity="0.9"/><rect x="461.40" y="282.00" width="12" height="4.00" fill="rgb(179,179,179)" opacity="0.9"/><rect x="461.40" y="294.50" width="12" height="5.00" fill="rgb(135,135,135)" opacity="0.9"/><rect x="461.40" y="303.55" width="12" height="2.50" fill="rgb(166,166,166)" opacity="0.9"/><rect x="461.40" y="309.25" width="12" height="2.50" fill="rgb(165,165,165)" opacity="0.9"/><rect x="475.40" y="239" width="13" height="79" fill="rgb(200,200,200)"/><rect x="475.90" y="251.25" width="12" height="3.50" fill="rgb(160,160,160)" opacity="0.9"/><rect x="475.90" y="259.50" width="12" height="2.00" fill="rgb(180,180,180)" opacity="0.9"/><rect x="475.90" y="263.00" width="12" height="2.00" fill="rgb(179,179,179)" opacity="0.9"/><rect x="475.90" y="268.75" width="12" height="3.50" fill="rgb(173,173,173)" opacity="0.9"/><rect x="475.90" y="276.00" width="12" height="3.00" fill="rgb(179,179,179)" opacity="0.9"/><rect x="475.90" y="282.00" width="12" height="4.00" fill="rgb(182,182,182)" opacity="0.9"/><rect x="475.90" y="294.50" width="12" height="5.00" fill="rgb(167,167,167)" opacity="0.9"/><rect x="475.90" y="303.55" width="12" height="2.50" fill="rgb(177,177,177)" opacity="0.9"/><rect x="475.90" y="309.25" width="12" height="2.50" fill="rgb(179,179,179)" opacity="0.9"/></g>
<g filter="url(#bl2)"><rect x="347.60" y="246.30" width="11.00" height="3.60" rx="1.5" fill="#0a0a0a"/><rect x="360.85" y="245.10" width="13.50" height="6.00" rx="1.5" fill="#0a0a0a"/><rect x="376.35" y="245.95" width="11.50" height="4.30" rx="1.5" fill="#0a0a0a"/><rect x="390.10" y="245.35" width="13.00" height="5.50" rx="1.5" fill="#0a0a0a"/><rect x="404.80" y="245.35" width="12.00" height="5.50" rx="1.5" fill="#0a0a0a"/><rect x="419.40" y="246.40" width="11.00" height="3.40" rx="1.5" fill="#0a0a0a"/><rect x="433.65" y="246.40" width="10.50" height="3.40" rx="1.5" fill="#0a0a0a"/><rect x="447.85" y="246.40" width="10.50" height="3.40" rx="1.5" fill="#0a0a0a"/><rect x="461.40" y="245.70" width="12.00" height="4.80" rx="1.5" fill="#0a0a0a"/><rect x="476.65" y="246.40" width="10.50" height="3.40" rx="1.5" fill="#0a0a0a"/></g>
</g>
<rect x="342.30" y="239.10" width="147.10" height="78.50" fill="none" stroke="#333" stroke-width="0.9"/>
<rect x="342.30" y="321.40" width="147.10" height="27.20" fill="#ececec"/>
<g clip-path="url(#cpd2)"><g filter="url(#bl2)"><rect x="347.10" y="333.30" width="12.00" height="3.80" rx="1.73" fill="#080808"/><rect x="361.10" y="333.10" width="13.00" height="5.40" rx="2.45" fill="#080808"/><rect x="375.85" y="332.20" width="12.50" height="5.60" rx="2.55" fill="#080808"/><rect x="390.60" y="335.10" width="12.00" height="4.60" rx="2.09" fill="#080808"/><rect x="404.80" y="335.00" width="12.00" height="4.80" rx="2.18" fill="#080808"/><rect x="419.15" y="335.90" width="11.50" height="4.20" rx="1.91" fill="#080808"/><rect x="433.40" y="335.20" width="11.00" height="4.00" rx="1.82" fill="#080808"/><rect x="447.60" y="335.10" width="11.00" height="3.80" rx="1.73" fill="#080808"/><rect x="461.40" y="333.90" width="12.00" height="5.00" rx="2.27" fill="#080808"/><rect x="476.15" y="334.20" width="11.50" height="4.40" rx="2.00" fill="#080808"/></g></g>
<rect x="342.30" y="321.40" width="147.10" height="27.20" fill="none" stroke="#333" stroke-width="0.9"/>
<text x="535.30" y="225.60" font-size="14" font-weight="bold" fill="#000">e</text>
<line x1="582.60" y1="239.40" x2="582.60" y2="337.40" stroke="#555" stroke-width="0.9"/>
<line x1="579.20" y1="337.40" x2="631.50" y2="337.40" stroke="#555" stroke-width="0.9"/>
<line x1="579.60" y1="337.40" x2="582.60" y2="337.40" stroke="#555" stroke-width="0.8"/>
<text x="577.80" y="340.75" font-size="9.3" text-anchor="end" fill="#222">0</text>
<line x1="579.60" y1="312.90" x2="582.60" y2="312.90" stroke="#555" stroke-width="0.8"/>
<text x="577.80" y="316.25" font-size="9.3" text-anchor="end" fill="#222">0.5</text>
<line x1="579.60" y1="288.40" x2="582.60" y2="288.40" stroke="#555" stroke-width="0.8"/>
<text x="577.80" y="291.75" font-size="9.3" text-anchor="end" fill="#222">1.0</text>
<line x1="579.60" y1="263.90" x2="582.60" y2="263.90" stroke="#555" stroke-width="0.8"/>
<text x="577.80" y="267.25" font-size="9.3" text-anchor="end" fill="#222">1.5</text>
<line x1="579.60" y1="239.40" x2="582.60" y2="239.40" stroke="#555" stroke-width="0.8"/>
<text x="577.80" y="242.75" font-size="9.3" text-anchor="end" fill="#222">2.0</text>
<rect x="589.40" y="288.40" width="13.20" height="49.00" fill="#6b6b6b"/>
<rect x="610.50" y="324.17" width="13.10" height="13.23" fill="#b3b300"/>
<line x1="596.00" y1="274.80" x2="596.00" y2="302.50" stroke="#333" stroke-width="0.9"/>
<line x1="592.50" y1="274.80" x2="599.50" y2="274.80" stroke="#333" stroke-width="0.9"/>
<line x1="592.50" y1="302.50" x2="599.50" y2="302.50" stroke="#333" stroke-width="0.9"/>
<circle cx="596.00" cy="245.40" r="2.00" fill="#fff" stroke="#444" stroke-width="0.7"/>
<circle cx="596.00" cy="277.40" r="2.00" fill="#fff" stroke="#444" stroke-width="0.7"/>
<circle cx="596.00" cy="280.30" r="2.00" fill="#fff" stroke="#444" stroke-width="0.7"/>
<circle cx="596.00" cy="284.80" r="2.00" fill="#fff" stroke="#444" stroke-width="0.7"/>
<circle cx="596.00" cy="307.50" r="2.00" fill="#fff" stroke="#444" stroke-width="0.7"/>
<circle cx="596.00" cy="326.60" r="2.00" fill="#fff" stroke="#444" stroke-width="0.7"/>
<circle cx="612.30" cy="321.30" r="2.00" fill="#fff" stroke="#444" stroke-width="0.7"/>
<circle cx="616.30" cy="322.20" r="2.00" fill="#fff" stroke="#444" stroke-width="0.7"/>
<circle cx="620.60" cy="321.80" r="2.00" fill="#fff" stroke="#444" stroke-width="0.7"/>
<circle cx="622.60" cy="320.60" r="2.00" fill="#fff" stroke="#444" stroke-width="0.7"/>
<circle cx="612.30" cy="328.00" r="2.00" fill="#fff" stroke="#444" stroke-width="0.7"/>
<line x1="617.30" y1="322.50" x2="617.30" y2="324.40" stroke="#333" stroke-width="0.8"/>
<line x1="596.00" y1="337.40" x2="596.00" y2="340.80" stroke="#555" stroke-width="0.8"/>
<line x1="617.30" y1="337.40" x2="617.30" y2="340.80" stroke="#555" stroke-width="0.8"/>
<text x="606.70" y="235.45" font-size="9.3" text-anchor="middle" fill="#222">0.0352</text>
<line x1="593.50" y1="237.40" x2="616.80" y2="237.40" stroke="#444" stroke-width="0.8"/>
<text transform="translate(540.60,289.10) rotate(-90)" x="0" y="3.60" font-size="10" text-anchor="middle" textLength="72.8" lengthAdjust="spacingAndGlyphs" fill="#222">PKA sub/GAPDH</text>
<text transform="translate(551.40,289.90) rotate(-90)" x="0" y="3.60" font-size="10" text-anchor="middle" textLength="59.4" lengthAdjust="spacingAndGlyphs" fill="#222">(fold change)</text>
<text transform="translate(595.60,346.00) rotate(-45)" x="0" y="3.60" font-size="10" text-anchor="end" fill="#222">ctr</text>
<text transform="translate(617.60,346.60) rotate(-45)" x="0" y="3.60" font-size="10" text-anchor="end" fill="#222">C26 13d</text>
<text x="-0.50" y="395.70" font-size="14" font-weight="bold" fill="#000">f</text>
<text x="53.60" y="402.80" font-size="9.6" textLength="125.1" lengthAdjust="spacingAndGlyphs" fill="#222">Differential binding p-CREB1</text>
<text x="179.40" y="398.90" font-size="6.3" textLength="14.2" lengthAdjust="spacingAndGlyphs" fill="#222">S133</text>
<rect x="65.90" y="407.90" width="115.90" height="114.10" fill="none" stroke="#666" stroke-width="0.9"/>
<line x1="62.70" y1="517.80" x2="65.90" y2="517.80" stroke="#555" stroke-width="0.8"/>
<text x="59.70" y="521.15" font-size="9.3" text-anchor="end" fill="#222">0</text>
<line x1="62.70" y1="492.50" x2="65.90" y2="492.50" stroke="#555" stroke-width="0.8"/>
<text x="59.70" y="495.85" font-size="9.3" text-anchor="end" fill="#222">2.5</text>
<line x1="62.70" y1="467.20" x2="65.90" y2="467.20" stroke="#555" stroke-width="0.8"/>
<text x="59.70" y="470.55" font-size="9.3" text-anchor="end" fill="#222">5.0</text>
<line x1="62.70" y1="441.90" x2="65.90" y2="441.90" stroke="#555" stroke-width="0.8"/>
<text x="59.70" y="445.25" font-size="9.3" text-anchor="end" fill="#222">7.5</text>
<line x1="62.70" y1="416.60" x2="65.90" y2="416.60" stroke="#555" stroke-width="0.8"/>
<text x="59.70" y="419.95" font-size="9.3" text-anchor="end" fill="#222">10.0</text>
<line x1="66.40" y1="522.00" x2="66.40" y2="525.20" stroke="#555" stroke-width="0.8"/>
<text x="66.40" y="537.25" font-size="9.3" text-anchor="middle" fill="#222">-10</text>
<line x1="98.80" y1="522.00" x2="98.80" y2="525.20" stroke="#555" stroke-width="0.8"/>
<text x="98.80" y="537.25" font-size="9.3" text-anchor="middle" fill="#222">-5</text>
<line x1="131.20" y1="522.00" x2="131.20" y2="525.20" stroke="#555" stroke-width="0.8"/>
<text x="131.20" y="537.25" font-size="9.3" text-anchor="middle" fill="#222">0</text>
<line x1="163.60" y1="522.00" x2="163.60" y2="525.20" stroke="#555" stroke-width="0.8"/>
<text x="163.60" y="537.25" font-size="9.3" text-anchor="middle" fill="#222">5</text>
<text x="40.50" y="551.40" font-size="9.8" textLength="15.0" lengthAdjust="spacingAndGlyphs" fill="#222">log</text>
<text x="56.20" y="553.60" font-size="6.6" fill="#222">2</text>
<text x="61.20" y="551.40" font-size="9.8" textLength="145.4" lengthAdjust="spacingAndGlyphs" fill="#222">fold change (C26 10d versus ctr)</text>
<text transform="translate(30.9,464.6) rotate(-90)" x="0" y="3.5" font-size="9.8" text-anchor="middle" fill="#222">–log<tspan font-size="6.8" dy="2.5">10</tspan><tspan dy="-2.5">(</tspan><tspan font-style="italic">P</tspan> value)</text>
<path d="M113.8,505.1h0M131.5,510.8h0M112.7,508.9h0M126.6,509.6h0M113.9,509.8h0M113.1,508.4h0M144.2,506.8h0M138.1,513.5h0M124.1,507.8h0M122.5,513.2h0M123.0,508.8h0M134.0,512.7h0M129.9,515.5h0M115.7,505.6h0M130.0,510.0h0M119.1,507.2h0M117.3,508.4h0M120.6,504.7h0M136.6,511.3h0M112.7,508.7h0M126.3,507.0h0M131.4,511.6h0M133.5,505.1h0M118.4,505.7h0M134.9,505.6h0M127.3,510.1h0M138.3,513.2h0M125.9,508.3h0M128.9,514.5h0M118.7,509.5h0M145.4,510.6h0M123.2,511.3h0M130.4,507.0h0M129.6,513.8h0M116.1,509.9h0M122.9,507.0h0M138.1,512.8h0M138.9,509.8h0M129.3,505.0h0M135.8,506.6h0M119.7,510.7h0M148.9,508.0h0M136.9,513.3h0M114.8,504.7h0M129.3,507.1h0M135.6,511.4h0M126.1,513.6h0M131.4,509.5h0M128.0,511.3h0M142.2,508.9h0M139.6,508.4h0M124.1,505.9h0M129.9,505.7h0M133.1,506.6h0M127.3,507.3h0M134.5,505.3h0M136.2,505.8h0M152.8,506.3h0M122.8,513.0h0M129.8,505.1h0M128.6,512.6h0M144.5,505.9h0M119.8,511.0h0M122.1,507.0h0M134.5,509.3h0M130.6,506.3h0M120.6,505.3h0M121.4,511.2h0M136.0,510.2h0M128.2,514.6h0M132.0,509.5h0M136.8,513.1h0M112.3,504.7h0M145.0,507.0h0M122.0,511.9h0M113.7,510.1h0M151.3,506.1h0M130.0,505.1h0M142.8,508.6h0M129.4,507.6h0M109.6,508.5h0M110.1,505.1h0M122.2,506.9h0M121.7,505.4h0M108.6,507.1h0M117.9,505.6h0M105.6,506.3h0M132.9,509.4h0M106.0,505.8h0M116.6,507.2h0M137.1,513.5h0M105.0,505.0h0M100.5,504.9h0M113.6,507.0h0M138.9,509.7h0M129.7,507.4h0M123.4,513.3h0M117.2,509.9h0M119.8,507.0h0M112.1,505.0h0M127.6,512.4h0M136.6,507.8h0M128.0,513.0h0M138.9,507.7h0M148.3,507.9h0M134.9,508.1h0M121.1,511.2h0M109.2,505.0h0M135.7,505.9h0M116.4,509.1h0M137.0,513.0h0M106.3,505.1h0M127.8,507.7h0M135.7,513.0h0M124.6,509.8h0M126.1,510.4h0M134.9,508.5h0M117.7,505.8h0M127.7,504.8h0M123.2,513.2h0M128.6,506.0h0M144.0,507.7h0M131.8,512.5h0M127.9,513.7h0M125.2,509.9h0M147.8,509.2h0M130.5,514.4h0M142.2,509.0h0M131.8,508.9h0M116.1,504.9h0M110.8,506.1h0M131.2,514.2h0M139.2,513.4h0M110.1,508.3h0M130.3,512.9h0M117.7,508.0h0M141.4,507.8h0M127.7,506.8h0M116.3,505.3h0M149.2,506.2h0M140.6,511.9h0M112.5,505.1h0M131.8,511.8h0M106.7,505.3h0M117.8,505.0h0M111.7,508.6h0M130.9,507.9h0M133.9,507.7h0M113.0,508.9h0M152.3,504.7h0M109.1,506.5h0M129.8,505.6h0M117.9,505.7h0M124.7,509.9h0M131.0,509.9h0M128.8,515.1h0M114.7,505.8h0M145.5,510.2h0M135.1,511.5h0M128.7,513.8h0M121.4,508.6h0M123.8,507.5h0M106.5,504.8h0M100.5,505.6h0M128.6,513.0h0M118.3,506.6h0M125.8,508.2h0M106.3,506.0h0M124.3,511.0h0M111.7,505.1h0M141.8,511.0h0M144.4,508.0h0M104.0,505.6h0M131.5,510.4h0M140.3,508.0h0M132.4,510.1h0M111.3,506.7h0M138.9,509.2h0M125.8,509.2h0M123.5,509.9h0M151.4,508.1h0M120.6,508.9h0M135.5,506.5h0M135.7,505.6h0M117.8,510.3h0M128.7,508.8h0M132.5,507.1h0M124.7,513.8h0M130.0,508.2h0M134.7,511.7h0M117.9,511.0h0M139.4,507.0h0M136.8,511.9h0M136.5,512.5h0M115.7,508.6h0M125.1,510.2h0M120.9,511.1h0M126.1,508.3h0M118.6,505.7h0M117.0,507.3h0M132.3,507.6h0M121.0,506.2h0M135.2,511.7h0M121.8,505.3h0M135.2,505.8h0M132.7,507.7h0M133.4,512.7h0M144.4,508.8h0M139.2,506.5h0M135.2,507.9h0M135.3,514.7h0M132.4,505.6h0M143.2,504.9h0M137.1,507.0h0M136.0,509.6h0M124.5,513.3h0M120.8,511.8h0M140.9,508.7h0M130.6,509.6h0M131.6,513.8h0M132.9,506.4h0M152.5,508.6h0M125.8,513.8h0M139.0,506.8h0M123.6,510.7h0M114.3,508.0h0M130.0,509.1h0M144.4,505.8h0M128.7,513.5h0M110.0,507.2h0M132.5,513.7h0M134.0,515.1h0M138.7,505.6h0M132.8,506.2h0M111.0,506.4h0M115.0,507.7h0M135.7,504.8h0M130.2,505.6h0M119.3,506.6h0M130.9,511.5h0M107.4,505.0h0M139.7,506.7h0M115.7,506.1h0M112.7,509.5h0M137.2,511.0h0M125.7,510.9h0M127.6,508.4h0M121.6,505.1h0M121.7,507.4h0M118.8,507.8h0M141.1,508.5h0M116.6,506.2h0M114.0,504.8h0M142.4,506.7h0M129.5,512.9h0M124.4,512.1h0M129.4,511.5h0M134.1,505.6h0M132.2,509.7h0M125.9,508.9h0M143.0,506.1h0M126.8,514.0h0M112.1,509.5h0M116.6,505.1h0M134.0,513.5h0M137.8,509.4h0M124.4,505.2h0M124.9,510.1h0M112.7,508.0h0M124.8,511.4h0M119.4,510.1h0M115.6,506.4h0M126.8,512.3h0M129.1,515.1h0M137.5,510.4h0M142.7,505.4h0M127.3,504.8h0M123.8,505.1h0M148.7,507.8h0M138.0,509.5h0M135.4,509.5h0M125.9,505.3h0M125.2,504.8h0M115.1,505.8h0M123.0,508.0h0M124.0,509.6h0M128.3,509.7h0M130.8,514.7h0M112.0,507.4h0M133.1,512.8h0M117.3,506.2h0M121.6,508.6h0M126.9,507.3h0M127.7,505.8h0M132.7,507.0h0M120.0,510.3h0M120.0,507.1h0M113.8,506.7h0M121.5,506.7h0M130.4,504.9h0M135.1,505.5h0M129.6,515.1h0M125.2,511.6h0M113.6,509.7h0M134.3,509.5h0M131.5,508.4h0M129.4,509.6h0M120.1,508.7h0M119.5,510.7h0M117.2,505.7h0M142.5,511.8h0M141.9,507.6h0M141.0,506.6h0M130.0,513.0h0M138.6,506.4h0M116.4,504.7h0M139.1,510.7h0M109.9,505.0h0M121.8,509.5h0M123.9,505.8h0M131.0,515.3h0M139.6,509.1h0M134.4,508.0h0M121.6,512.3h0M145.5,509.9h0M124.9,511.2h0M123.4,507.1h0M124.2,512.6h0M118.9,509.4h0M125.7,513.3h0M116.9,506.6h0M104.9,504.8h0M116.9,505.2h0M108.9,507.4h0M134.9,511.7h0M106.5,505.0h0M142.5,510.5h0M120.5,509.7h0M135.3,510.8h0M121.8,508.3h0M132.0,506.9h0M107.0,506.1h0M122.0,511.6h0M128.6,512.4h0M104.6,507.1h0M113.6,507.1h0M126.0,505.0h0M115.7,510.6h0M111.1,506.8h0M128.4,514.4h0M122.8,506.9h0M131.0,508.9h0M124.6,512.7h0M126.9,512.3h0M111.4,508.4h0M128.6,507.2h0M114.0,508.1h0M112.1,506.3h0M152.0,506.9h0M110.2,505.9h0M123.2,505.4h0M109.9,506.1h0M138.3,506.0h0M134.5,505.8h0M107.7,504.8h0M118.8,506.8h0M117.0,506.0h0M117.2,510.5h0M132.8,507.5h0M138.0,512.4h0M126.7,512.7h0M119.2,504.9h0M131.5,515.5h0M125.4,508.0h0M132.4,507.2h0M129.0,510.5h0M130.9,509.4h0M129.8,514.6h0M125.7,512.6h0M129.0,507.7h0M135.2,508.8h0M128.5,512.3h0M134.3,513.4h0M127.8,509.4h0M117.8,505.9h0M118.8,505.5h0M128.4,505.6h0M119.7,505.0h0M138.9,509.3h0M127.9,505.2h0M130.8,506.9h0M117.2,507.9h0M136.2,511.8h0M143.4,510.3h0M126.3,514.5h0M116.9,506.0h0M129.1,507.8h0M122.2,511.9h0M123.3,510.7h0M126.0,509.4h0M149.5,506.6h0M136.0,509.3h0M126.9,513.3h0M127.4,506.5h0M126.7,506.2h0M129.3,512.7h0M123.2,507.2h0M137.6,509.7h0M134.5,505.1h0M108.7,507.4h0M116.1,506.0h0M106.0,507.4h0M139.6,506.2h0M130.9,510.1h0M140.6,511.7h0M132.0,512.5h0M119.0,511.5h0M123.1,507.2h0M138.9,510.4h0M125.3,510.5h0M122.5,509.3h0M147.6,506.7h0M123.0,513.4h0M114.9,509.2h0M139.4,508.5h0M125.8,504.7h0M127.7,506.7h0M131.4,512.9h0M142.0,509.6h0M118.3,509.4h0M125.0,510.4h0M123.1,511.7h0M120.0,506.7h0M114.6,507.2h0M150.6,506.0h0M117.2,510.8h0M145.3,510.5h0M141.1,507.1h0M136.6,512.7h0M110.2,506.4h0M139.4,512.7h0M128.3,514.0h0M133.7,511.0h0M149.6,507.7h0M138.2,509.1h0M116.0,505.8h0M112.3,507.8h0M121.8,512.9h0M137.2,510.4h0M117.6,506.1h0M119.2,512.0h0M114.6,508.6h0M118.6,511.2h0M140.7,509.9h0M107.9,505.3h0M126.2,508.5h0M137.5,505.6h0M143.1,508.1h0M119.5,511.2h0M137.7,507.3h0M140.5,507.0h0M126.2,506.3h0M136.0,508.4h0M152.4,508.1h0M134.5,509.1h0M131.4,508.1h0M115.2,508.6h0M149.6,507.5h0M148.4,509.6h0M148.2,505.2h0M113.7,507.1h0M123.5,511.3h0M108.8,505.4h0M122.8,506.2h0M124.0,511.2h0M133.8,509.2h0M122.4,506.1h0M132.8,514.9h0M140.1,513.0h0M141.1,505.1h0M122.2,507.5h0M119.4,506.6h0M116.5,505.9h0M137.3,514.0h0M131.2,514.6h0M139.1,510.1h0M121.1,508.6h0M124.4,511.5h0M118.3,507.2h0M123.2,513.2h0M124.4,505.0h0M121.9,508.0h0M116.2,507.1h0M129.4,508.1h0M128.2,510.1h0M108.9,504.7h0M138.7,510.0h0M108.9,506.9h0M105.4,506.0h0M117.7,508.0h0M105.6,506.6h0M137.2,513.7h0M123.7,507.1h0M103.9,505.6h0M127.4,508.8h0M117.9,511.2h0M135.8,509.6h0M135.8,510.7h0M143.4,508.2h0M132.8,513.1h0M123.5,511.5h0M137.7,513.4h0M151.7,506.2h0M112.1,505.3h0M109.8,508.0h0M136.8,507.1h0M105.6,507.2h0M117.6,506.1h0M137.1,505.1h0M136.9,514.3h0M127.7,511.7h0M136.6,513.8h0M143.3,509.1h0M114.9,508.5h0M124.4,513.7h0M125.6,505.6h0M122.7,505.2h0M139.4,504.8h0M119.9,510.1h0M128.6,505.5h0M133.1,506.4h0M122.9,510.3h0M120.6,505.6h0M128.5,504.7h0M131.9,513.8h0M142.2,505.6h0M132.3,507.7h0M128.9,512.1h0M145.3,506.6h0M114.3,509.7h0M118.7,508.7h0M102.8,506.4h0M128.9,507.8h0M136.6,512.5h0M130.7,508.5h0M134.6,506.8h0M116.0,505.4h0M139.0,508.3h0M128.5,505.4h0M136.6,507.9h0M124.7,513.2h0M142.8,504.8h0M114.7,507.5h0M132.3,515.4h0M120.0,510.5h0M122.0,506.3h0M135.0,507.2h0M132.0,513.2h0M124.8,512.3h0M141.0,505.5h0M130.2,510.7h0M127.1,507.2h0M108.3,506.5h0M144.1,510.5h0M112.4,508.0h0M121.8,507.5h0M130.0,510.2h0M114.3,505.5h0M122.0,505.1h0M115.1,509.7h0M128.5,508.8h0M120.8,510.8h0M109.7,505.5h0M134.2,506.9h0M128.4,513.0h0M140.0,508.3h0M124.4,508.4h0M127.3,507.6h0M107.2,507.4h0M117.5,510.5h0M140.1,509.5h0M128.8,510.7h0M125.7,513.7h0M147.0,505.2h0M114.8,505.9h0M121.5,511.0h0M133.1,515.2h0M134.9,511.8h0M117.6,509.8h0M118.0,507.6h0M144.7,510.5h0M138.1,511.6h0M136.4,506.3h0M141.5,506.4h0M137.8,510.6h0M131.6,513.7h0M130.5,510.5h0M126.7,507.1h0M133.4,510.6h0M126.8,507.2h0M135.2,505.8h0M129.3,514.1h0M120.1,509.1h0M133.1,514.8h0M135.2,507.1h0M126.5,512.1h0M119.4,508.0h0M128.0,505.4h0M139.6,510.2h0M111.2,506.5h0M153.8,508.3h0M114.2,510.1h0M136.4,511.1h0M119.8,507.8h0M106.6,505.0h0M116.6,505.7h0M129.9,511.6h0M128.8,511.7h0M119.8,510.9h0M121.0,511.1h0M125.3,512.2h0M118.0,508.6h0M129.2,504.7h0M117.9,510.3h0M107.5,506.8h0M142.5,509.6h0M134.8,512.2h0M134.2,512.5h0M128.1,511.1h0M142.8,510.2h0M119.2,509.5h0M142.1,509.7h0M148.6,506.0h0M123.3,513.4h0M103.6,506.1h0M123.9,505.7h0M130.4,512.3h0M129.0,514.9h0M114.1,508.1h0M127.5,513.5h0M130.5,509.3h0M136.7,510.3h0M129.2,509.6h0M138.6,511.4h0M140.3,507.0h0M124.2,512.0h0M121.9,510.7h0M124.7,510.4h0M116.4,505.5h0M128.7,511.7h0M136.4,512.4h0M129.7,508.8h0M127.9,509.2h0M138.1,511.1h0M115.5,509.5h0M105.6,505.5h0M113.6,505.4h0M103.5,506.3h0M124.1,509.9h0M123.8,510.2h0M137.4,511.0h0M131.3,510.5h0M126.1,510.6h0M133.7,510.3h0M135.5,512.4h0M141.4,512.0h0M121.0,511.6h0M137.0,508.7h0M123.1,507.3h0M114.0,510.2h0M119.2,511.7h0M133.9,511.0h0M139.4,508.3h0M131.6,510.7h0M123.5,513.4h0M134.8,511.4h0M138.4,511.4h0M118.4,507.0h0M132.2,509.0h0M138.7,505.1h0M117.9,505.1h0M138.3,506.7h0M116.6,508.5h0M116.3,508.5h0M123.9,505.7h0M147.8,508.3h0" stroke="#c8c8c8" stroke-width="1.8" stroke-linecap="square" fill="none"/>
<path d="M126.0,499.4h0M127.0,498.9h0M122.4,503.0h0M127.7,497.2h0M128.6,495.5h0M128.1,498.6h0M120.5,497.2h0M117.4,498.4h0M114.5,501.6h0M103.3,501.4h0M121.4,495.1h0M122.4,495.6h0M117.6,491.4h0M102.4,503.3h0M119.4,498.3h0M119.8,501.1h0M124.5,498.8h0M110.8,502.6h0M128.6,499.0h0M118.8,503.6h0M124.8,498.1h0M127.0,500.1h0M126.9,496.3h0M116.1,489.2h0M120.6,499.3h0M125.8,489.4h0M126.8,492.5h0M120.4,501.6h0M127.4,486.7h0M107.5,500.5h0M124.5,491.1h0M113.8,492.4h0M121.0,496.2h0M121.0,502.6h0M127.9,490.3h0M115.0,500.8h0M121.0,484.1h0M125.1,494.2h0M128.4,502.0h0M124.5,503.7h0M127.4,494.8h0M126.4,498.6h0M122.0,502.1h0M108.6,500.9h0M116.0,495.7h0M109.7,503.4h0M123.0,503.2h0M108.5,502.4h0M112.6,499.6h0M121.5,504.5h0M121.9,498.3h0M119.0,502.2h0M116.5,502.7h0M118.2,502.4h0M127.4,503.7h0M121.2,504.0h0M122.7,503.1h0M124.7,502.9h0M120.1,500.6h0M119.2,492.2h0M125.6,493.3h0M126.3,495.0h0M120.4,491.0h0M127.5,503.1h0M121.8,503.7h0M119.3,494.0h0M123.9,501.8h0M127.0,495.1h0M128.5,500.3h0M121.4,494.6h0M110.5,500.8h0M121.8,493.6h0M118.0,495.4h0M125.2,495.1h0M114.3,502.7h0M126.5,497.9h0M117.5,501.2h0M111.8,496.9h0M123.2,486.8h0M121.5,501.7h0M120.4,494.4h0M123.1,502.8h0M128.0,494.6h0M114.8,503.8h0M122.2,500.4h0M120.6,504.6h0M117.4,501.7h0M128.4,491.1h0M122.2,501.7h0M106.8,494.0h0M103.3,500.4h0M108.1,479.7h0M126.5,493.9h0M117.5,502.2h0M116.8,501.7h0M104.6,503.1h0M107.9,503.4h0M102.6,497.0h0M117.2,502.8h0M117.6,497.4h0M112.1,497.1h0M114.5,499.3h0M123.7,490.9h0M126.4,492.1h0M122.8,501.0h0M118.7,502.7h0M117.0,499.1h0M120.1,504.4h0M120.3,497.8h0M120.0,497.8h0M122.9,499.8h0M125.8,493.7h0M95.5,503.6h0M115.8,502.6h0M127.8,485.5h0M109.5,492.5h0M120.7,499.2h0M124.6,489.2h0M128.4,493.2h0M124.3,498.8h0M117.3,489.4h0M125.6,496.2h0M120.2,498.5h0M125.6,496.1h0M116.2,490.0h0M126.8,480.3h0M114.8,503.4h0M125.2,501.6h0M124.8,482.7h0M123.4,500.9h0M123.9,490.3h0M111.0,504.1h0M113.1,494.8h0M112.3,503.0h0M122.9,504.5h0M118.4,501.5h0M122.4,502.2h0M114.4,497.6h0M126.2,498.0h0M122.1,499.9h0M124.8,478.2h0M124.6,501.3h0M116.7,495.7h0M127.7,498.5h0M118.2,503.4h0M120.7,491.6h0M120.1,500.7h0M116.0,483.1h0M125.1,495.7h0M127.2,495.0h0M114.2,502.1h0M118.5,500.0h0M115.5,484.0h0M114.8,497.7h0M116.8,500.1h0M118.0,502.1h0M124.1,500.2h0M119.8,495.6h0M126.0,494.2h0M123.6,487.5h0M125.5,499.0h0M117.5,490.2h0M111.5,497.9h0M123.8,487.4h0M127.2,501.0h0M116.2,496.2h0M116.1,501.4h0M107.0,504.5h0M112.5,497.0h0M118.4,499.9h0M126.6,496.3h0M105.6,476.2h0M110.6,500.8h0M121.0,495.5h0M117.8,496.5h0M126.0,494.8h0M125.9,500.3h0M118.4,494.4h0M122.8,496.7h0M125.3,491.2h0M128.2,488.4h0M108.5,503.7h0M126.7,482.1h0M128.2,487.3h0M120.5,498.9h0M117.6,503.7h0M126.3,498.3h0M119.6,498.3h0M125.4,496.8h0M125.2,491.2h0M125.5,499.1h0M126.7,494.7h0M125.5,489.0h0M124.4,477.9h0M117.5,497.5h0M126.9,481.7h0M127.2,496.8h0M127.8,488.8h0M121.1,504.4h0M117.3,503.8h0M119.6,496.8h0M101.4,490.4h0M117.7,504.0h0M125.3,501.4h0M120.0,499.5h0M123.8,496.6h0M108.4,498.3h0M111.2,499.4h0M119.5,501.9h0M122.3,494.4h0M128.1,496.5h0M118.1,501.3h0M117.7,504.3h0M123.5,490.9h0M116.1,498.6h0M123.5,500.8h0M127.7,498.6h0M123.6,499.6h0M126.3,499.5h0M110.4,500.7h0M127.3,490.0h0M128.3,496.3h0M122.3,497.5h0M121.8,497.9h0M123.5,499.1h0M116.7,494.0h0M124.0,502.4h0M127.0,495.8h0M109.1,500.7h0M118.8,502.1h0M124.4,501.7h0M120.4,496.8h0M111.0,504.2h0M128.3,492.7h0M125.2,479.6h0M103.2,494.0h0M125.0,498.0h0M127.7,488.0h0M117.2,485.8h0M111.5,500.2h0M119.9,494.1h0M120.0,500.3h0M120.3,503.7h0M121.0,504.1h0M112.4,503.7h0M120.4,498.6h0M114.5,503.7h0M121.6,481.3h0M122.2,498.4h0M121.9,500.6h0M125.0,492.0h0M112.6,499.8h0M112.9,504.4h0M118.8,496.1h0M124.2,484.7h0M111.8,500.9h0M127.9,492.3h0M128.3,496.3h0M122.0,501.4h0M123.3,497.9h0M119.8,499.1h0M117.6,490.6h0M119.3,501.3h0M122.3,495.6h0M127.7,490.0h0M120.1,502.4h0M109.7,501.0h0M120.5,495.1h0M114.7,498.4h0M122.3,476.4h0M116.4,502.6h0M125.1,493.2h0M121.2,504.4h0M108.6,495.5h0M115.9,501.6h0M122.8,503.4h0M110.8,492.2h0M122.9,503.9h0M127.0,498.6h0M121.0,497.5h0M115.0,498.0h0M115.7,487.2h0M113.7,501.2h0M120.9,481.7h0M126.8,484.0h0M119.7,502.3h0M128.6,496.7h0M126.4,500.0h0M120.0,502.2h0M119.3,502.1h0M126.3,487.6h0M115.7,489.7h0M119.4,498.7h0M116.7,494.6h0M112.8,485.5h0M125.1,491.2h0M104.2,501.2h0M119.9,492.9h0M127.4,495.2h0M116.6,482.8h0M114.4,501.4h0M128.1,494.9h0M108.5,496.5h0M111.9,504.1h0M124.4,498.3h0M125.6,495.7h0M120.5,504.2h0M107.8,496.3h0M126.1,490.3h0M127.5,488.9h0M125.7,499.8h0M115.6,503.1h0M118.5,499.4h0M126.9,497.3h0M117.6,504.0h0M122.3,499.6h0M101.0,498.4h0M118.2,503.5h0M125.5,487.9h0M119.1,476.3h0M109.2,483.9h0M118.8,504.5h0M113.9,495.9h0M127.7,492.5h0M124.3,499.1h0M126.7,480.1h0M111.6,480.7h0M114.3,504.5h0M108.3,495.8h0M124.5,499.1h0M112.4,492.1h0M119.7,504.6h0M110.8,476.5h0M120.5,500.7h0M123.4,504.5h0M119.9,493.5h0M127.5,496.3h0M114.0,496.1h0M120.9,488.4h0M126.4,502.0h0M128.3,490.3h0M116.0,502.6h0M123.8,499.0h0M121.6,502.4h0M123.6,502.6h0M123.7,501.9h0M120.1,496.1h0M113.0,492.8h0M124.3,493.7h0M127.5,500.8h0M100.0,501.1h0M111.5,501.3h0M100.1,500.9h0M110.8,503.5h0M123.9,501.5h0M110.0,492.8h0M122.0,497.8h0M122.4,494.4h0M108.5,504.5h0M125.5,496.3h0M106.2,503.5h0M118.9,502.9h0M108.4,484.3h0M109.2,501.5h0M123.1,495.1h0M126.0,481.0h0M117.7,488.4h0M116.1,494.8h0M117.1,501.1h0M124.8,501.5h0M124.7,503.1h0M127.0,501.0h0M126.2,499.4h0M122.1,498.7h0M111.6,499.0h0M120.9,482.3h0M121.8,504.0h0M124.8,495.7h0M117.0,503.3h0M122.6,501.6h0M120.2,492.7h0M121.6,503.0h0M118.5,482.8h0M126.2,490.5h0M128.3,502.9h0M120.2,502.8h0M112.7,504.5h0M124.9,494.1h0M109.2,499.9h0M127.8,501.6h0M126.9,497.3h0M120.1,497.2h0M119.5,501.7h0M114.4,498.0h0M110.7,500.5h0M116.8,501.6h0M125.6,484.2h0M108.8,488.4h0M120.1,503.3h0M96.8,502.1h0M126.8,497.4h0M127.2,495.7h0M114.1,502.1h0M114.8,501.4h0M119.0,498.4h0M103.7,499.2h0M128.2,501.0h0M119.9,498.2h0M128.4,493.3h0M117.7,499.7h0M121.7,496.9h0M119.8,500.2h0M126.9,497.5h0M126.6,490.4h0M108.0,486.9h0M117.0,498.5h0M128.3,478.5h0M119.5,490.7h0M127.6,496.6h0M126.1,484.5h0M121.4,475.4h0M120.8,495.2h0M110.5,492.1h0M126.4,489.4h0M122.1,502.5h0M126.5,496.4h0M127.5,487.8h0M106.9,496.8h0M115.0,504.1h0M124.0,503.1h0M111.2,503.6h0M128.0,483.1h0M124.8,485.9h0M104.7,496.9h0M117.5,499.5h0M120.9,504.5h0M121.8,503.3h0M126.4,490.3h0M121.0,495.6h0M119.1,502.2h0M127.7,497.8h0M118.4,501.6h0M104.4,484.8h0M120.9,481.6h0M123.8,497.3h0M110.1,501.6h0M124.2,502.2h0M116.0,504.4h0M126.8,485.2h0M110.7,502.5h0M125.5,498.3h0M128.1,503.7h0M118.8,501.3h0M102.1,496.9h0M124.1,500.6h0M121.9,499.8h0M124.1,480.4h0M120.2,495.9h0M120.5,493.7h0M113.8,483.5h0M123.3,487.0h0M114.9,493.6h0M122.7,498.6h0M126.4,496.4h0M127.2,488.3h0M119.0,495.4h0M117.3,503.8h0M125.5,492.0h0M125.7,501.9h0M126.2,492.1h0M120.6,498.2h0M120.3,494.3h0M115.5,496.0h0M119.5,497.4h0M112.0,503.6h0M123.6,504.2h0M126.6,500.9h0M128.3,499.0h0M108.0,499.6h0M122.4,497.9h0M115.9,503.7h0M99.7,501.9h0M124.6,499.2h0M106.9,500.6h0M110.1,502.4h0M114.9,492.8h0M125.5,497.7h0M117.0,500.1h0M122.4,500.6h0M114.5,501.9h0M126.9,492.7h0M116.6,500.0h0M111.9,476.2h0M112.1,500.7h0M120.0,502.0h0M112.7,494.9h0M113.3,496.3h0M123.6,500.3h0M124.1,493.5h0M122.1,498.8h0M118.6,495.2h0M127.3,501.1h0M127.7,495.6h0M120.1,500.8h0M121.3,486.1h0M128.3,499.5h0M119.5,500.9h0M109.7,497.9h0M124.2,494.2h0M110.5,498.1h0M128.4,494.0h0M126.7,487.1h0M119.0,502.2h0M116.3,499.5h0M123.1,503.3h0M112.2,496.4h0M112.1,502.1h0M124.6,503.5h0M117.8,497.6h0M125.3,478.5h0M128.4,496.3h0M124.3,495.7h0M123.5,502.2h0M119.1,501.3h0M126.2,495.8h0M128.0,500.9h0M110.7,502.5h0M110.2,503.2h0M125.2,486.7h0M125.5,498.4h0M127.7,484.7h0M126.1,497.1h0M125.5,486.9h0M119.1,499.8h0M124.0,491.9h0M117.7,498.2h0M103.5,502.7h0M108.0,502.7h0M124.0,479.4h0M124.3,501.5h0M117.7,491.3h0M124.3,485.9h0M125.6,495.6h0M122.6,502.8h0M112.1,502.7h0M113.6,501.2h0M126.3,498.6h0M111.2,504.2h0M121.1,498.0h0M117.0,503.9h0M125.8,489.1h0M126.8,494.2h0M127.3,496.8h0M125.3,497.5h0M119.5,498.4h0M122.2,502.5h0M120.4,502.0h0M128.5,497.0h0M126.6,501.4h0M121.6,499.2h0M118.4,501.8h0M114.6,497.2h0M116.6,496.5h0M124.0,500.6h0M116.5,500.9h0M116.2,498.9h0M128.3,492.5h0M122.5,504.5h0M123.7,501.9h0M109.3,497.3h0M124.7,502.1h0M120.6,490.9h0M107.9,495.9h0M122.1,500.0h0M111.6,500.8h0M107.1,468.6h0M121.2,490.9h0M121.2,477.8h0M124.9,494.5h0M120.6,499.1h0M126.8,500.3h0M128.5,496.0h0M104.5,500.3h0M118.6,493.7h0M116.4,503.2h0M120.7,499.9h0M115.2,502.8h0M118.9,500.1h0M119.0,498.1h0M125.9,496.9h0M125.6,502.2h0M112.8,493.8h0M114.7,498.4h0M104.7,503.8h0M123.0,491.9h0M122.1,494.9h0M128.4,497.9h0M124.8,501.9h0M122.1,499.8h0M127.4,478.0h0M127.4,498.0h0M108.0,497.4h0M125.6,495.3h0M127.3,489.4h0M127.1,491.6h0M121.7,502.6h0M124.2,496.1h0M104.4,504.1h0M125.5,495.2h0M121.1,495.5h0M112.3,497.1h0M126.5,495.2h0M124.8,496.4h0M128.5,498.5h0M97.7,501.1h0M123.1,501.6h0M119.8,486.0h0M116.8,503.1h0M115.6,493.6h0M128.6,496.4h0M122.1,504.0h0M112.2,489.5h0M121.6,499.9h0M127.1,485.5h0M128.1,494.5h0M110.0,491.4h0M124.7,504.4h0M123.4,504.4h0M120.9,504.0h0M121.1,504.3h0M120.1,485.8h0M116.3,504.4h0M121.7,503.0h0M122.7,503.7h0M123.8,503.2h0M113.6,503.2h0M118.2,503.4h0M126.2,494.2h0M119.1,504.3h0M120.5,497.4h0M125.1,497.4h0M119.3,497.9h0M117.9,483.3h0M120.0,503.6h0M115.8,501.1h0M117.0,495.3h0M125.9,499.7h0M126.9,487.8h0M120.8,503.1h0M104.8,500.9h0M117.3,503.7h0M113.6,475.0h0M121.7,497.6h0M120.8,480.4h0M117.0,487.9h0M120.0,452.3h0M113.0,503.5h0M105.4,500.7h0M123.2,493.1h0M126.3,499.1h0M126.8,496.0h0M119.0,500.1h0M108.4,502.3h0M103.3,501.2h0M126.1,488.7h0M121.9,498.5h0M128.3,504.6h0M128.2,499.4h0M112.9,504.1h0M127.8,493.2h0M111.1,489.9h0M126.6,480.5h0M124.0,501.8h0M118.5,494.4h0M112.3,503.4h0M124.7,485.2h0M124.2,503.3h0M114.0,504.4h0M122.6,494.7h0M125.0,492.7h0M124.9,503.6h0M127.8,493.3h0M123.0,489.9h0M115.9,501.1h0M116.6,504.4h0M118.3,502.7h0M122.2,504.1h0M127.4,497.9h0M112.3,501.4h0M116.2,503.7h0M120.2,488.3h0M113.0,498.5h0M109.5,496.1h0M126.2,499.8h0M113.2,499.7h0M127.4,495.1h0M113.7,504.2h0M118.4,495.9h0M117.5,469.3h0M125.6,492.8h0M116.8,500.8h0M117.5,500.8h0M122.5,499.7h0M101.3,504.3h0M125.0,494.8h0M126.0,500.0h0M113.6,500.2h0M117.4,502.0h0M113.0,502.8h0M111.6,504.6h0M119.1,503.6h0M120.3,503.5h0M114.5,504.1h0M117.0,496.1h0M125.9,497.2h0M116.9,483.8h0M125.5,492.3h0M123.3,504.4h0M121.4,487.1h0M118.5,492.8h0M127.7,493.8h0M125.4,494.5h0M124.5,504.1h0M113.3,485.1h0M114.1,501.7h0M123.8,494.9h0M112.5,504.3h0M117.4,499.3h0M119.8,481.9h0M117.9,489.4h0M128.5,500.4h0M114.6,494.3h0M128.0,494.9h0M118.6,494.8h0M123.2,503.9h0M127.4,496.5h0M112.8,501.2h0M128.2,499.7h0M113.8,503.6h0M126.2,490.6h0M114.3,497.5h0M116.3,488.8h0M117.6,496.7h0M126.5,497.8h0M118.0,501.3h0M116.8,501.4h0M117.3,496.1h0M112.4,490.6h0M116.7,502.4h0M118.2,501.8h0M112.7,485.4h0M117.0,501.9h0M124.6,503.5h0M124.8,489.7h0M121.3,493.8h0M124.4,502.7h0M121.2,499.8h0M121.5,502.9h0M125.7,496.3h0M117.4,504.4h0M115.8,501.6h0M113.4,503.0h0M125.4,487.8h0M125.6,500.9h0M120.7,504.4h0M123.0,500.5h0M110.7,501.3h0M105.1,485.2h0M118.9,503.6h0M118.0,492.1h0M116.7,503.9h0M121.1,503.9h0M125.2,479.6h0M127.8,493.5h0M112.8,496.2h0M121.2,500.6h0M117.3,499.1h0M124.7,491.9h0M112.2,491.4h0M123.5,504.3h0M125.2,495.6h0M124.3,499.9h0M117.6,498.3h0M125.1,494.7h0M109.8,492.3h0M114.7,503.9h0M128.5,487.7h0M126.6,492.5h0M109.9,500.6h0M121.2,499.9h0M127.7,496.9h0M123.9,503.0h0M124.9,494.2h0M96.1,491.0h0M128.0,499.7h0M114.7,503.2h0M101.7,493.9h0M117.9,502.9h0M105.0,503.7h0M124.5,487.2h0M121.7,486.4h0M122.9,501.3h0M127.7,497.3h0M125.0,496.6h0M109.9,499.9h0M120.3,495.9h0M119.8,495.2h0M122.0,503.5h0M116.0,504.3h0M120.7,504.4h0M121.8,504.0h0M105.1,490.9h0M116.8,504.4h0M124.3,501.8h0M119.0,503.5h0M110.9,501.0h0M117.3,503.2h0M127.1,491.8h0M127.4,488.5h0M122.4,501.8h0M125.0,487.6h0M124.7,501.3h0M117.2,499.8h0M126.3,484.6h0M120.3,497.7h0M103.5,503.2h0M126.7,498.3h0M123.3,490.8h0M125.5,480.3h0M121.9,499.2h0M120.0,502.0h0M125.8,492.9h0M111.8,504.1h0M117.1,502.5h0M127.4,502.2h0M118.6,504.2h0M116.8,500.8h0M121.4,498.3h0M128.1,493.4h0M126.6,496.5h0M128.2,499.6h0M125.0,503.5h0M126.4,485.7h0M128.3,495.9h0M123.6,493.0h0M127.8,494.5h0M118.4,499.3h0M113.3,492.7h0M116.6,494.8h0M108.6,496.1h0M115.4,498.1h0M125.4,492.4h0M126.3,489.1h0M125.8,490.4h0M116.7,501.1h0M124.8,480.8h0M122.9,494.0h0M126.2,493.6h0M120.6,504.6h0M107.2,502.7h0M126.3,491.0h0M106.1,504.0h0M124.1,504.2h0M111.3,483.9h0M125.8,496.9h0M128.1,496.6h0M123.4,500.2h0M126.3,496.8h0M121.0,500.6h0M122.3,499.8h0M115.0,483.3h0M122.7,484.3h0M111.3,502.7h0M117.2,502.5h0M113.3,497.6h0M124.7,501.4h0M119.1,504.5h0M128.1,502.2h0M126.1,502.4h0M107.6,502.5h0M123.3,502.3h0M105.7,503.8h0M99.9,495.1h0M122.5,499.8h0M128.2,497.0h0M109.8,499.0h0M123.5,496.9h0M120.3,503.4h0M121.1,502.7h0M127.2,472.5h0M117.0,491.6h0M110.6,498.3h0M112.6,490.9h0M120.6,490.8h0M124.8,490.7h0M127.6,479.6h0M113.0,496.3h0M123.2,495.7h0M118.0,504.1h0M117.0,487.2h0M125.3,498.3h0M109.0,500.1h0M122.7,503.8h0M116.0,504.6h0M122.0,502.7h0M123.7,502.7h0M114.0,486.1h0M120.0,496.1h0M106.6,497.5h0M125.7,489.7h0M122.5,504.1h0M120.7,496.4h0M112.9,486.3h0M123.1,496.3h0M112.9,480.3h0M116.2,491.9h0M116.4,504.5h0M127.8,492.2h0M118.7,501.2h0M117.1,504.6h0M115.1,490.1h0M123.9,499.9h0M95.2,487.4h0M127.3,498.8h0M126.8,498.7h0M124.0,503.6h0M119.2,492.3h0M121.9,501.5h0M121.4,498.9h0M127.6,502.6h0M121.1,502.0h0M106.4,499.6h0M120.0,498.8h0M127.3,501.3h0M124.2,493.5h0M108.8,495.5h0M110.3,494.4h0M116.2,504.2h0M116.1,490.7h0M115.2,470.2h0M120.8,497.2h0M116.7,497.6h0M109.4,499.2h0M107.0,502.3h0M117.8,504.1h0M127.3,494.1h0M126.7,495.0h0M119.4,496.4h0M100.7,488.0h0M109.7,485.3h0M128.2,499.2h0M108.1,504.0h0M106.8,503.6h0M112.9,495.1h0M128.1,492.2h0M128.5,481.5h0M116.6,504.4h0M128.3,495.2h0M103.8,496.0h0M124.5,503.7h0M125.5,495.4h0M111.8,498.1h0M117.1,502.2h0M121.7,502.1h0M120.8,493.4h0M122.0,501.2h0M128.4,473.4h0M128.1,497.4h0M126.8,492.4h0M125.6,478.6h0M127.8,503.2h0M120.9,499.5h0M119.4,481.7h0M123.5,501.8h0M122.3,503.8h0M116.6,504.4h0M111.3,504.3h0M114.4,495.5h0M126.8,485.2h0M111.9,502.5h0M112.6,485.9h0M104.7,485.1h0M125.2,493.8h0M127.7,501.7h0M106.7,501.3h0M122.6,504.0h0M124.0,500.3h0M122.8,497.4h0M125.9,498.4h0M124.5,500.2h0M125.5,489.5h0M120.6,500.9h0M128.4,494.2h0M127.7,487.4h0M125.9,499.1h0M121.2,502.1h0M124.1,495.7h0M127.0,500.1h0M109.9,490.3h0M110.9,488.5h0M104.2,503.2h0M108.3,494.8h0M121.6,504.6h0M125.9,502.9h0M123.6,499.7h0M114.4,503.7h0M124.9,498.7h0M123.9,496.8h0M122.1,503.5h0M109.0,501.9h0M120.7,504.4h0M118.5,489.3h0M120.3,499.6h0M110.4,486.2h0M118.1,492.2h0M110.8,502.8h0M126.5,489.8h0M109.2,493.9h0M107.0,488.4h0M120.8,497.4h0M124.6,504.1h0M116.5,499.3h0M104.3,503.4h0M124.9,499.3h0M126.9,493.9h0M127.2,496.4h0M107.1,504.2h0M125.1,499.5h0M114.7,500.0h0M123.5,504.0h0M126.5,499.3h0M121.5,489.3h0M115.2,498.5h0M123.8,490.8h0M121.1,498.0h0M119.2,504.3h0M116.2,503.0h0M109.3,482.8h0M119.7,497.9h0M128.4,495.1h0M125.2,482.7h0M128.1,497.9h0M126.7,487.8h0M114.2,502.5h0M127.2,490.0h0M128.4,495.2h0M119.7,493.8h0M127.5,488.8h0M106.4,501.4h0M114.7,502.4h0M124.5,496.7h0M126.6,499.4h0M123.6,502.5h0M113.2,503.5h0M117.4,494.0h0M127.1,477.5h0M118.2,491.0h0M113.7,483.9h0M126.8,492.5h0M123.8,498.2h0M119.0,502.5h0M114.8,495.0h0M111.5,502.7h0M118.2,500.3h0M126.8,486.0h0M113.7,498.5h0M126.9,491.5h0M121.0,503.6h0M126.0,493.1h0M119.9,498.2h0M125.6,495.4h0M120.1,504.0h0M111.1,502.7h0M74.8,476.6h0M75.3,478.2h0M75.3,480.0h0M75.6,482.3h0M76.0,483.3h0M76.5,484.4h0M76.5,484.8h0M77.8,484.8h0M76.8,489.1h0M77.9,489.9h0M78.9,491.2h0M78.9,490.9h0M79.6,494.5h0M80.5,491.9h0M81.0,495.7h0M81.6,496.9h0M81.1,497.9h0M82.3,499.3h0M81.9,502.1h0M82.6,503.1h0M82.8,504.7h0M82.8,505.6h0M69.6,457.1h0M116.3,412.6h0M123.4,450.0h0M120.8,462.1h0M118.9,463.2h0M127.3,464.2h0M127.3,471.2h0M107.2,478.3h0M103.3,481.4h0M112.4,484.4h0M123.4,472.3h0M111.8,471.2h0M112.4,474.3h0M95.6,487.4h0M94.9,496.5h0M100.7,497.6h0M109.8,479.3h0M125.4,470.2h0" stroke="#1a80f5" stroke-width="1.8" stroke-linecap="square" fill="none"/>
<path d="M139.9,499.6h0M142.8,501.0h0M138.4,500.0h0M142.1,503.7h0M139.8,499.9h0M138.7,502.5h0M139.2,502.8h0M137.7,501.9h0M152.3,503.0h0M144.6,499.9h0M149.5,504.2h0M141.2,501.9h0M140.3,500.8h0M139.2,501.0h0M145.6,501.3h0M141.3,500.9h0M142.7,503.6h0M138.6,498.7h0M142.1,494.5h0M140.0,502.5h0M145.7,502.0h0M143.3,502.8h0M140.8,504.4h0M138.8,501.9h0M141.4,502.8h0M139.9,502.5h0M140.8,501.1h0M139.3,496.8h0M138.0,492.2h0M141.0,503.5h0M137.2,497.5h0M143.4,502.0h0M137.4,495.6h0M137.9,495.5h0M141.3,502.9h0M141.9,502.0h0M142.6,502.9h0M144.1,502.3h0M148.3,497.2h0M138.5,504.5h0M138.6,501.3h0M139.8,504.1h0M145.8,504.4h0M139.7,504.3h0M138.5,504.5h0M139.1,499.8h0M143.5,503.4h0M140.7,499.8h0M142.8,501.0h0M137.3,500.3h0M139.2,504.4h0M141.7,502.2h0M138.7,499.6h0M138.3,501.2h0M138.7,503.6h0M137.2,501.7h0M143.9,504.4h0M138.0,497.8h0M143.5,500.7h0M141.1,504.5h0M142.9,477.3h0M155.8,473.3h0M159.1,473.3h0M175.9,477.3h0M153.2,490.5h0M164.2,493.5h0M157.1,488.5h0M148.0,484.4h0M146.1,489.5h0M150.6,496.5h0M141.6,487.4h0M161.0,498.6h0M151.9,500.6h0M148.7,488.5h0M154.5,495.5h0" stroke="#f5700f" stroke-width="1.8" stroke-linecap="square" fill="none"/>
<line x1="66.00" y1="503.90" x2="181.80" y2="503.90" stroke="#555" stroke-width="1.3" stroke-dasharray="4.4,2.9"/>
<line x1="131.00" y1="408.00" x2="131.00" y2="522.00" stroke="#555" stroke-width="1.3" stroke-dasharray="4.4,2.9"/>
<text x="131.70" y="516.97" font-size="8.8" text-anchor="middle" fill="#666">Common</text>
<text x="74.60" y="431.56" font-size="8.5" fill="#2b9ad0">Lower in C26</text>
<text x="74.6" y="441.50" font-size="8.5" fill="#2b9ad0"><tspan font-style="italic">n</tspan> = 1,748</text>
<text x="134.70" y="431.56" font-size="8.5" fill="#f07a20">Higher in</text>
<text x="134.7" y="441.50" font-size="8.5" fill="#f07a20">C26 <tspan font-style="italic">n</tspan> = 70</text>
<text x="204.30" y="396.50" font-size="14" font-weight="bold" fill="#000">g</text>
<defs><linearGradient id="gg" x1="0" x2="1" y1="0" y2="0"><stop offset="0" stop-color="#ffffff"/><stop offset="0.5" stop-color="#9a94c8"/><stop offset="1" stop-color="#3a0a80"/></linearGradient></defs>
<rect x="240.50" y="422.30" width="143.50" height="4.20" fill="url(#gg)" stroke="#aaa" stroke-width="0.4"/>
<line x1="240.90" y1="420.60" x2="240.90" y2="422.60" stroke="#555" stroke-width="0.6"/>
<text x="240.90" y="414.70" font-size="8.6" text-anchor="middle" fill="#222">0</text>
<line x1="269.42" y1="420.60" x2="269.42" y2="422.60" stroke="#555" stroke-width="0.6"/>
<text x="269.42" y="414.70" font-size="8.6" text-anchor="middle" fill="#222">5</text>
<line x1="297.94" y1="420.60" x2="297.94" y2="422.60" stroke="#555" stroke-width="0.6"/>
<text x="297.94" y="414.70" font-size="8.6" text-anchor="middle" fill="#222">10</text>
<line x1="326.46" y1="420.60" x2="326.46" y2="422.60" stroke="#555" stroke-width="0.6"/>
<text x="326.46" y="414.70" font-size="8.6" text-anchor="middle" fill="#222">15</text>
<line x1="354.98" y1="420.60" x2="354.98" y2="422.60" stroke="#555" stroke-width="0.6"/>
<text x="354.98" y="414.70" font-size="8.6" text-anchor="middle" fill="#222">20</text>
<line x1="383.50" y1="420.60" x2="383.50" y2="422.60" stroke="#555" stroke-width="0.6"/>
<text x="383.50" y="414.70" font-size="8.6" text-anchor="middle" fill="#222">25</text>
<rect x="240.50" y="430.00" width="143.10" height="17.80" fill="#fbfbfd"/>
<rect x="240.50" y="430.00" width="6.50" height="17.80" fill="none" stroke="#777" stroke-width="0.8"/>
<path d="M248.5,437.2v3.8" stroke="#3a1290" stroke-width="1.7" opacity="0.9"/>
<path d="M249.7,437.2v3.9" stroke="#3a1290" stroke-width="1.7" opacity="1.0"/>
<path d="M250.9,437.0v4.0M255.7,437.3v3.8M256.9,437.2v3.3M258.1,436.7v3.2M261.7,437.0v3.7M264.1,437.3v3.4" stroke="#3a1290" stroke-width="1.7" opacity="0.7"/>
<path d="M252.1,437.3v3.3M253.3,436.8v3.6M254.5,436.6v3.4M259.3,436.8v3.4M260.5,437.3v3.4" stroke="#3a1290" stroke-width="1.7" opacity="0.8"/>
<path d="M262.9,437.4v3.8M265.3,436.7v3.3M272.5,437.3v3.2" stroke="#3a1290" stroke-width="1.7" opacity="0.6"/>
<path d="M266.5,436.8v3.7M267.7,437.1v3.5M268.9,437.3v3.6M270.1,437.0v3.8M271.3,437.4v3.2M273.7,436.9v3.7M276.1,436.8v3.8M277.3,437.4v3.5M280.9,436.6v4.0M283.3,436.9v3.9" stroke="#3a1290" stroke-width="1.7" opacity="0.5"/>
<path d="M274.9,436.6v3.3M278.5,437.0v3.8M279.7,437.2v3.8M282.1,436.9v3.7M284.5,436.8v3.5M285.7,436.7v3.3M286.9,437.4v3.3M289.3,436.8v3.7M290.5,437.0v3.5M294.1,437.4v3.7M295.3,436.7v3.5M298.9,437.0v3.6" stroke="#3a1290" stroke-width="1.7" opacity="0.4"/>
<path d="M288.1,437.4v3.6M291.7,437.3v3.2M292.9,437.3v3.3M296.5,437.3v3.4M297.7,437.4v3.9M300.1,437.0v3.4M301.3,436.7v3.5M302.5,437.4v3.7M303.7,436.9v3.3M304.9,437.2v3.9M306.1,437.2v3.8M307.3,437.1v3.8M308.5,437.2v3.4M309.7,437.2v3.8M312.1,436.6v3.6M314.5,437.1v3.8M316.9,436.9v3.9M318.1,437.2v4.0M319.3,437.0v3.6" stroke="#3a1290" stroke-width="1.7" opacity="0.3"/>
<path d="M310.9,437.4v3.7M313.3,437.1v3.6M315.7,437.1v3.8M320.5,437.3v3.9M321.7,437.2v3.8M322.9,436.7v3.8M324.1,437.1v3.5M325.3,437.2v3.7M326.5,436.6v3.3M327.7,437.1v3.4M328.9,437.1v3.2M330.1,436.8v3.2M331.3,436.9v3.3M332.5,436.6v3.6M333.7,437.1v3.7M334.9,437.3v3.2M336.1,436.8v3.5M337.3,437.3v3.5M338.5,437.1v3.3M339.7,436.9v3.7M340.9,437.3v3.5M342.1,437.1v3.5M343.3,437.1v3.7M344.5,437.4v3.7M345.7,437.3v3.2M349.3,436.9v3.4M351.7,437.3v3.7M355.3,436.8v3.6M360.1,437.2v3.4M370.9,437.0v3.2" stroke="#3a1290" stroke-width="1.7" opacity="0.2"/>
<path d="M346.9,437.1v3.7M348.1,437.1v3.9M350.5,437.4v3.5M352.9,437.4v3.6M354.1,436.9v4.0M356.5,437.1v3.6M357.7,437.2v3.9M358.9,437.0v3.4M361.3,436.7v4.0M362.5,437.1v3.6M363.7,437.1v3.8M364.9,437.2v3.4M366.1,436.9v3.4M367.3,437.0v3.5M368.5,437.1v3.2M369.7,437.0v3.9M372.1,436.9v3.7M373.3,437.1v3.6M374.5,436.9v3.5M375.7,436.8v3.4M376.9,436.7v3.9M378.1,436.9v3.4M379.3,437.3v3.3M380.5,437.0v3.6M381.7,436.7v3.7M382.9,436.7v3.4" stroke="#3a1290" stroke-width="1.7" opacity="0.1"/>
<path d="M358.3,442.7v2.1M251.9,441.7v2.8M382.3,441.4v0.9M361.3,434.2v2.1M376.1,441.5v1.1M287.7,444.6v1.1M330.3,437.1v1.1M331.9,431.6v1.0M299.3,432.1v0.9M325.6,442.0v2.6M266.5,437.4v1.4M328.9,438.2v2.7M298.6,431.8v2.2M268.7,440.3v1.8M370.5,439.2v2.0M283.8,439.2v1.3M349.1,438.7v1.1M279.9,436.5v2.3M272.5,441.6v2.1M259.9,440.9v1.0M265.2,439.8v1.3M366.0,438.1v1.4M355.2,431.4v2.3M255.7,433.2v2.7M339.8,434.3v1.0M378.8,440.8v2.4M267.2,440.2v1.5M280.0,435.9v2.0M295.2,436.7v1.1M359.9,440.6v2.4M306.6,443.6v1.8M327.9,439.5v2.3M301.5,432.4v0.9M275.6,431.6v2.6M313.0,442.3v0.8" stroke="#6a5aa8" stroke-width="0.8" opacity="0.25"/>
<rect x="247.80" y="430.00" width="135.80" height="17.80" fill="none" stroke="#777" stroke-width="0.8"/>
<line x1="383.60" y1="438.90" x2="386.60" y2="438.90" stroke="#555" stroke-width="0.7"/>
<text x="236.50" y="442.39" font-size="9.7" text-anchor="end" fill="#222">ctr (1)</text>
<rect x="240.50" y="448.80" width="143.10" height="17.80" fill="#fbfbfd"/>
<rect x="240.50" y="448.80" width="6.50" height="17.80" fill="none" stroke="#777" stroke-width="0.8"/>
<path d="M248.5,456.1v3.7" stroke="#3a1290" stroke-width="1.7" opacity="0.8"/>
<path d="M249.7,455.8v3.3M250.9,455.5v3.5M252.1,456.1v3.3M256.9,456.0v3.7" stroke="#3a1290" stroke-width="1.7" opacity="0.7"/>
<path d="M253.3,455.6v3.3M254.5,455.6v3.6M258.1,456.2v3.3M259.3,455.6v3.7" stroke="#3a1290" stroke-width="1.7" opacity="0.6"/>
<path d="M255.7,456.1v3.5M260.5,455.5v3.4M262.9,456.2v3.5M265.3,456.0v3.3" stroke="#3a1290" stroke-width="1.7" opacity="0.5"/>
<path d="M261.7,455.6v3.3M264.1,455.8v3.4M266.5,455.9v4.0M267.7,455.7v4.0M270.1,455.4v3.6M271.3,455.8v3.5" stroke="#3a1290" stroke-width="1.7" opacity="0.4"/>
<path d="M268.9,455.4v3.8M272.5,455.5v3.9M273.7,456.1v3.2M274.9,455.4v3.5M276.1,455.6v3.5M277.3,455.4v3.2M278.5,455.5v3.6M279.7,455.8v3.3M280.9,455.5v3.6M282.1,455.9v3.9M285.7,456.0v3.9" stroke="#3a1290" stroke-width="1.7" opacity="0.3"/>
<path d="M283.3,455.4v3.6M284.5,455.9v3.5M286.9,455.8v3.9M288.1,455.5v3.4M289.3,456.0v3.9M290.5,455.5v3.3M291.7,455.5v3.5M292.9,455.6v3.2M294.1,455.4v3.4M295.3,455.7v3.3M296.5,455.7v3.8M297.7,456.1v3.7M298.9,455.9v3.6M300.1,455.9v4.0M301.3,456.0v3.4M302.5,455.7v3.3M304.9,455.6v3.3M306.1,455.8v3.2M308.5,456.2v3.7M312.1,456.0v3.3" stroke="#3a1290" stroke-width="1.7" opacity="0.2"/>
<path d="M303.7,455.5v3.4M307.3,455.5v3.5M309.7,455.7v3.5M310.9,455.4v3.7M313.3,455.5v3.8M314.5,456.2v3.8M315.7,455.7v3.9M316.9,455.7v3.6M318.1,456.1v3.6M319.3,455.9v3.3M320.5,455.7v3.2M321.7,455.4v3.7M322.9,456.1v3.5M324.1,455.6v3.4M325.3,455.7v3.8M326.5,455.7v3.4M327.7,456.1v3.9M328.9,455.7v3.3M330.1,455.8v3.2M331.3,455.5v3.8M332.5,455.6v3.8M333.7,455.9v3.9M334.9,456.0v3.5M336.1,455.8v3.7M337.3,455.7v3.5M338.5,455.6v3.5M339.7,456.0v3.5M340.9,456.1v3.9M342.1,455.9v3.6M343.3,455.7v3.7M344.5,455.8v3.4M345.7,455.5v3.5M346.9,456.0v3.8M348.1,456.1v3.4M349.3,455.5v3.8M350.5,456.2v3.9M351.7,456.1v3.8M352.9,455.6v3.6M354.1,455.6v4.0M355.3,455.7v3.2M356.5,455.5v3.7M357.7,456.1v3.7M358.9,455.5v3.8M360.1,456.0v3.5M361.3,455.6v3.4M362.5,455.9v3.9M363.7,455.9v3.8M364.9,455.5v3.7M366.1,456.1v3.8M367.3,455.7v3.6M368.5,455.6v3.4M369.7,456.2v3.3M370.9,455.5v3.7M372.1,455.5v3.4M373.3,455.9v3.8M374.5,455.4v3.6M375.7,456.2v3.5M376.9,455.9v3.9M378.1,456.0v3.9M379.3,455.5v3.4M380.5,455.5v3.3M381.7,455.5v3.8M382.9,456.1v3.8" stroke="#3a1290" stroke-width="1.7" opacity="0.1"/>
<path d="M344.1,463.5v2.7M332.3,464.1v1.0M262.3,450.8v1.2M298.7,456.6v2.2M348.1,451.0v1.6M321.3,455.4v1.0M328.5,455.3v2.2M314.9,464.0v2.7M258.2,461.0v2.2M288.2,451.5v1.8M296.0,460.7v2.6M299.7,454.1v1.8M341.9,461.5v2.0M288.2,454.8v2.5M318.1,450.5v1.6M280.4,459.7v0.9M284.8,451.2v1.8M380.4,457.8v1.6M373.6,451.2v1.5M357.1,449.9v2.3M296.9,450.0v1.3M309.9,455.5v1.8M255.6,453.0v2.7M307.8,456.8v1.0M285.9,463.9v2.2M316.5,450.6v1.6M352.8,456.2v2.0M369.4,459.3v2.1M253.3,450.2v2.3M303.9,462.7v2.5M371.2,455.4v2.8M349.8,463.0v1.1M353.1,456.0v2.7M381.7,453.0v1.6M284.8,456.8v1.4" stroke="#6a5aa8" stroke-width="0.8" opacity="0.25"/>
<rect x="247.80" y="448.80" width="135.80" height="17.80" fill="none" stroke="#777" stroke-width="0.8"/>
<line x1="383.60" y1="457.70" x2="386.60" y2="457.70" stroke="#555" stroke-width="0.7"/>
<text x="236.50" y="461.19" font-size="9.7" text-anchor="end" fill="#222">C26 (1)</text>
<rect x="240.50" y="467.60" width="143.10" height="18.00" fill="#fbfbfd"/>
<rect x="240.50" y="467.60" width="6.50" height="18.00" fill="none" stroke="#777" stroke-width="0.8"/>
<path d="M248.5,474.4v3.3M250.9,475.0v3.4M254.5,475.1v3.2" stroke="#3a1290" stroke-width="1.7" opacity="0.9"/>
<path d="M249.7,474.4v3.5M253.3,474.4v3.4M256.9,474.6v3.8M259.3,474.4v3.3M260.5,474.6v3.5" stroke="#3a1290" stroke-width="1.7" opacity="0.8"/>
<path d="M252.1,475.0v4.0M255.7,474.6v3.4M258.1,474.7v4.0M261.7,474.8v4.0M264.1,474.9v3.3M265.3,474.9v3.2M266.5,474.6v3.6M267.7,474.9v3.2M273.7,475.1v4.0" stroke="#3a1290" stroke-width="1.7" opacity="0.7"/>
<path d="M262.9,474.8v3.4M268.9,474.3v3.5M270.1,474.3v3.4M271.3,474.8v3.9M272.5,474.7v3.8M277.3,474.6v3.9" stroke="#3a1290" stroke-width="1.7" opacity="0.6"/>
<path d="M274.9,474.4v3.9M276.1,474.7v3.8M278.5,474.7v3.9M279.7,474.6v3.6M280.9,474.5v3.6M282.1,474.4v3.5M283.3,475.1v3.4M284.5,474.9v3.8M285.7,475.0v3.7M286.9,474.8v3.4M289.3,474.4v3.3M294.1,474.4v3.8M296.5,474.4v3.3" stroke="#3a1290" stroke-width="1.7" opacity="0.5"/>
<path d="M288.1,475.0v3.6M290.5,474.9v3.6M291.7,474.3v3.9M292.9,475.0v3.2M295.3,474.8v3.4M297.7,474.4v3.3M298.9,474.8v3.9M300.1,474.4v3.7M301.3,474.4v3.8M302.5,474.5v3.2M303.7,474.7v3.9M304.9,474.4v3.4M308.5,474.8v3.7M310.9,474.7v3.7M312.1,474.4v3.4M315.7,475.0v3.4M318.1,474.5v3.7" stroke="#3a1290" stroke-width="1.7" opacity="0.4"/>
<path d="M306.1,475.1v3.4M307.3,474.6v3.3M309.7,474.4v3.6M313.3,474.7v3.9M314.5,474.8v3.5M316.9,474.5v3.5M319.3,475.1v3.3M320.5,474.6v3.3M321.7,475.0v3.7M322.9,475.1v3.5M324.1,474.9v3.4M325.3,474.6v3.3M326.5,474.9v3.5M327.7,474.4v3.4M328.9,475.1v3.8M330.1,474.7v3.3M331.3,474.5v3.2M332.5,474.5v3.3M333.7,475.0v4.0M334.9,474.4v3.8M337.3,474.7v3.5M340.9,474.6v3.7M342.1,474.6v3.8M344.5,474.7v3.6M345.7,474.8v3.6" stroke="#3a1290" stroke-width="1.7" opacity="0.3"/>
<path d="M336.1,474.7v3.3M338.5,474.7v4.0M339.7,474.5v3.6M343.3,474.4v3.2M346.9,474.9v3.4M348.1,474.9v3.7M349.3,474.5v3.8M350.5,474.4v4.0M351.7,474.4v3.3M352.9,474.8v3.9M354.1,474.9v3.3M355.3,474.5v3.5M356.5,474.9v3.3M357.7,474.6v3.7M358.9,474.7v3.9M360.1,474.5v3.5M361.3,474.4v3.5M362.5,475.1v3.3M363.7,474.9v3.8M364.9,475.1v3.4M366.1,474.8v3.5M367.3,474.8v3.5M368.5,474.7v3.8M369.7,474.9v3.3M370.9,474.3v3.8M372.1,475.0v3.2M373.3,474.7v3.3M374.5,475.1v3.9M375.7,475.0v3.7M376.9,474.8v3.4M378.1,474.3v3.7M379.3,474.9v3.6M380.5,474.5v3.8M381.7,474.8v3.8M382.9,474.8v3.2" stroke="#3a1290" stroke-width="1.7" opacity="0.2"/>
<path d="M283.4,481.2v1.1M256.1,468.8v2.3M262.7,475.5v1.7M356.1,475.7v1.8M251.8,480.5v2.3M332.0,481.1v2.0M344.4,481.4v2.0M251.2,481.9v2.8M275.5,469.6v1.5M261.9,474.1v1.0M278.0,468.6v1.7M288.7,479.5v1.6M270.7,482.9v2.6M340.9,471.9v1.6M308.9,474.7v0.9M309.6,480.1v2.2M363.8,478.8v2.3M365.2,482.4v2.4M304.3,478.5v2.1M366.8,479.3v1.7M274.1,473.5v1.3M339.9,480.1v1.2M320.0,481.2v1.5M261.2,477.7v1.5M267.8,472.9v0.8M268.5,475.0v1.0M249.3,476.8v2.7M360.3,473.5v2.6M259.2,470.9v0.8M256.3,477.6v2.3M312.5,480.6v1.7M371.6,477.7v1.9M271.4,475.0v1.7M358.8,472.0v1.4M357.9,469.7v1.9" stroke="#6a5aa8" stroke-width="0.8" opacity="0.25"/>
<rect x="247.80" y="467.60" width="135.80" height="18.00" fill="none" stroke="#777" stroke-width="0.8"/>
<line x1="383.60" y1="476.60" x2="386.60" y2="476.60" stroke="#555" stroke-width="0.7"/>
<text x="236.50" y="480.09" font-size="9.7" text-anchor="end" fill="#222">ctr (2)</text>
<rect x="240.50" y="486.60" width="143.10" height="17.60" fill="#fbfbfd"/>
<rect x="240.50" y="486.60" width="6.50" height="17.60" fill="none" stroke="#777" stroke-width="0.8"/>
<path d="M248.5,493.6v3.7M254.5,493.6v3.2" stroke="#3a1290" stroke-width="1.7" opacity="0.8"/>
<path d="M249.7,493.7v3.5M250.9,493.8v3.8M252.1,493.6v3.3M253.3,493.2v3.7M255.7,493.5v3.6M260.5,493.3v3.3" stroke="#3a1290" stroke-width="1.7" opacity="0.7"/>
<path d="M256.9,493.3v3.6M258.1,493.6v3.4M259.3,493.2v3.4M261.7,493.9v3.3M262.9,493.3v3.7M264.1,493.2v3.9M266.5,493.1v3.4M270.1,493.6v3.6" stroke="#3a1290" stroke-width="1.7" opacity="0.6"/>
<path d="M265.3,493.6v3.6M267.7,493.3v3.9M268.9,493.4v3.6M271.3,493.6v3.5M272.5,493.2v3.6M273.7,493.3v3.5M274.9,493.6v3.3" stroke="#3a1290" stroke-width="1.7" opacity="0.5"/>
<path d="M276.1,493.7v3.2M277.3,493.7v3.9M278.5,493.2v3.7M279.7,493.6v3.2M280.9,493.2v3.5M282.1,493.5v3.9M283.3,493.6v3.9M285.7,493.2v3.9M286.9,493.7v4.0M288.1,493.4v3.9M289.3,493.2v3.8M290.5,493.5v3.4" stroke="#3a1290" stroke-width="1.7" opacity="0.4"/>
<path d="M284.5,493.5v3.5M291.7,493.4v3.9M292.9,493.3v3.7M294.1,493.6v3.6M295.3,493.1v3.9M296.5,493.3v3.6M297.7,493.5v3.9M298.9,493.3v3.5M300.1,493.2v3.9M302.5,493.1v3.4M303.7,493.7v3.4M304.9,493.1v3.3M308.5,493.7v3.9M309.7,493.7v3.4M314.5,493.7v3.8M315.7,493.5v3.5" stroke="#3a1290" stroke-width="1.7" opacity="0.3"/>
<path d="M301.3,493.5v3.4M306.1,493.9v3.4M307.3,493.2v3.3M310.9,493.3v3.3M312.1,493.7v3.6M313.3,493.3v3.9M316.9,493.3v3.2M318.1,493.5v3.3M319.3,493.3v3.5M320.5,493.5v3.9M321.7,493.6v3.5M322.9,493.4v3.7M324.1,493.7v3.4M325.3,493.1v3.7M326.5,493.1v3.4M327.7,493.3v3.7M328.9,493.3v3.8M330.1,493.8v3.3M331.3,493.7v3.8M332.5,493.8v3.7M333.7,493.2v3.3M334.9,493.5v3.3M336.1,493.4v3.6M337.3,493.8v3.4M338.5,493.6v3.7M339.7,493.3v3.6M340.9,493.6v3.3M342.1,493.5v3.4M344.5,493.3v3.2M346.9,493.2v3.5M348.1,493.6v3.2M352.9,493.5v3.6M354.1,493.9v3.7M358.9,493.7v3.8M364.9,493.5v3.7M366.1,493.4v3.8" stroke="#3a1290" stroke-width="1.7" opacity="0.2"/>
<path d="M343.3,493.8v3.2M345.7,493.2v3.5M349.3,493.3v3.9M350.5,493.3v3.6M351.7,493.2v3.7M355.3,493.5v3.7M356.5,493.6v3.5M357.7,493.6v3.7M360.1,493.3v3.7M361.3,493.1v3.8M362.5,493.5v3.6M363.7,493.7v3.6M367.3,493.2v3.8M368.5,493.5v3.8M369.7,493.2v3.6M370.9,493.7v4.0M372.1,493.8v3.3M373.3,493.8v4.0M374.5,493.4v3.8M375.7,493.6v3.7M376.9,493.7v4.0M378.1,493.5v3.7M379.3,493.1v4.0M380.5,493.5v3.2M381.7,493.8v3.4M382.9,493.7v3.4" stroke="#3a1290" stroke-width="1.7" opacity="0.1"/>
<path d="M337.9,495.9v2.6M312.4,492.4v1.3M297.3,487.6v1.0M268.4,492.2v2.3M374.7,492.8v1.3M287.8,496.8v1.8M264.2,495.2v1.3M267.8,499.1v1.0M307.4,498.8v1.9M365.6,492.2v2.7M254.3,500.7v1.6M248.9,491.4v2.8M344.5,498.4v2.4M249.4,492.1v1.7M370.3,500.9v1.1M380.8,495.7v1.4M259.6,493.8v1.8M309.3,492.1v2.7M312.2,492.1v2.4M281.2,493.8v1.0M280.4,502.2v2.0M318.7,497.4v2.1M318.4,493.0v1.1M252.4,489.4v1.6M249.9,497.4v1.5M279.8,492.2v1.8M276.6,500.0v1.8M257.7,488.8v2.6M326.0,491.9v2.2M254.7,500.6v2.7M337.5,488.3v1.7M360.6,496.3v1.2M279.9,488.5v1.8M272.8,494.1v2.6M369.2,494.8v2.4" stroke="#6a5aa8" stroke-width="0.8" opacity="0.25"/>
<rect x="247.80" y="486.60" width="135.80" height="17.60" fill="none" stroke="#777" stroke-width="0.8"/>
<line x1="383.60" y1="495.40" x2="386.60" y2="495.40" stroke="#555" stroke-width="0.7"/>
<text x="236.50" y="498.89" font-size="9.7" text-anchor="end" fill="#222">C26 (2)</text>
<line x1="240.50" y1="448.30" x2="383.60" y2="448.30" stroke="#888" stroke-width="1.4"/>
<line x1="240.50" y1="467.10" x2="383.60" y2="467.10" stroke="#888" stroke-width="1.4"/>
<line x1="240.50" y1="486.10" x2="383.60" y2="486.10" stroke="#888" stroke-width="1.4"/>
<line x1="240.50" y1="430.00" x2="383.60" y2="430.00" stroke="#888" stroke-width="1.0"/>
<line x1="240.50" y1="504.20" x2="383.60" y2="504.20" stroke="#888" stroke-width="1.0"/>
<text x="383.00" y="436.55" font-size="6.8" text-anchor="end" fill="#222">-2.0 kb</text>
<text x="383.00" y="447.55" font-size="6.8" text-anchor="end" fill="#222">2.0 kb</text>
<text x="388.30" y="441.05" font-size="6.8" fill="#222">Centre</text>
<rect x="240.50" y="508.30" width="6.20" height="2.30" fill="#e8601c"/>
<rect x="248.00" y="508.10" width="135.60" height="2.40" fill="#0e8db3"/>
<text x="222.60" y="522.75" font-size="9.85" fill="#f07a20">Higher in C26</text>
<text x="301.40" y="522.75" font-size="9.85" fill="#2596be">Lower in C26</text>
<text x="415.20" y="396.00" font-size="14" font-weight="bold" fill="#000">i</text>
<line x1="464.30" y1="404.00" x2="464.30" y2="505.10" stroke="#555" stroke-width="0.9"/>
<line x1="464.30" y1="505.10" x2="673.80" y2="505.10" stroke="#555" stroke-width="0.9"/>
<line x1="461.20" y1="505.10" x2="464.30" y2="505.10" stroke="#555" stroke-width="0.8"/>
<text x="457.40" y="508.34" font-size="9.0" text-anchor="end" fill="#222">0</text>
<line x1="461.20" y1="472.40" x2="464.30" y2="472.40" stroke="#555" stroke-width="0.8"/>
<text x="457.40" y="475.64" font-size="9.0" text-anchor="end" fill="#222">0.5</text>
<line x1="461.20" y1="439.70" x2="464.30" y2="439.70" stroke="#555" stroke-width="0.8"/>
<text x="457.40" y="442.94" font-size="9.0" text-anchor="end" fill="#222">1.0</text>
<line x1="461.20" y1="407.00" x2="464.30" y2="407.00" stroke="#555" stroke-width="0.8"/>
<text x="457.40" y="410.24" font-size="9.0" text-anchor="end" fill="#222">1.5</text>
<text transform="translate(421.90,455.80) rotate(-90)" x="0" y="3.60" font-size="10" text-anchor="middle" fill="#222">RPKM</text>
<text transform="translate(433.70,455.80) rotate(-90)" x="0" y="3.60" font-size="10" text-anchor="middle" fill="#222">(fold changes)</text>
<rect x="467.80" y="439.70" width="5.80" height="65.40" fill="#7a7a7a" stroke="#444" stroke-width="0.5"/>
<rect x="476.80" y="476.98" width="5.80" height="28.12" fill="#b8b800" stroke="#555" stroke-width="0.5"/>
<line x1="470.70" y1="437.20" x2="470.70" y2="442.20" stroke="#333" stroke-width="0.7"/>
<line x1="479.70" y1="473.98" x2="479.70" y2="479.98" stroke="#333" stroke-width="0.7"/>
<circle cx="470.64" cy="407.00" r="1.90" fill="#fff" stroke="#555" stroke-width="0.6"/>
<circle cx="470.50" cy="425.31" r="1.90" fill="#fff" stroke="#555" stroke-width="0.6"/>
<circle cx="470.12" cy="433.81" r="1.90" fill="#fff" stroke="#555" stroke-width="0.6"/>
<circle cx="471.29" cy="439.70" r="1.90" fill="#fff" stroke="#555" stroke-width="0.6"/>
<circle cx="469.91" cy="450.82" r="1.90" fill="#fff" stroke="#555" stroke-width="0.6"/>
<circle cx="470.70" cy="452.78" r="1.90" fill="#fff" stroke="#555" stroke-width="0.6"/>
<circle cx="471.34" cy="454.74" r="1.90" fill="#fff" stroke="#555" stroke-width="0.6"/>
<circle cx="479.03" cy="461.94" r="1.90" fill="#fff" stroke="#555" stroke-width="0.6"/>
<circle cx="479.79" cy="467.17" r="1.90" fill="#fff" stroke="#555" stroke-width="0.6"/>
<circle cx="479.89" cy="473.05" r="1.90" fill="#fff" stroke="#555" stroke-width="0.6"/>
<circle cx="478.97" cy="477.63" r="1.90" fill="#fff" stroke="#555" stroke-width="0.6"/>
<circle cx="479.51" cy="482.21" r="1.90" fill="#fff" stroke="#555" stroke-width="0.6"/>
<circle cx="480.03" cy="488.10" r="1.90" fill="#fff" stroke="#555" stroke-width="0.6"/>
<circle cx="479.62" cy="496.60" r="1.90" fill="#fff" stroke="#555" stroke-width="0.6"/>
<line x1="475.10" y1="505.10" x2="475.10" y2="508.00" stroke="#555" stroke-width="0.7"/>
<text transform="translate(476.00,512.20) rotate(-45)" x="0" y="3.53" font-size="9.8" text-anchor="end" fill="#222">Ppargc1b</text>
<rect x="491.32" y="439.70" width="5.80" height="65.40" fill="#7a7a7a" stroke="#444" stroke-width="0.5"/>
<rect x="500.32" y="467.50" width="5.80" height="37.61" fill="#b8b800" stroke="#555" stroke-width="0.5"/>
<line x1="494.22" y1="437.20" x2="494.22" y2="442.20" stroke="#333" stroke-width="0.7"/>
<line x1="503.22" y1="464.50" x2="503.22" y2="470.50" stroke="#333" stroke-width="0.7"/>
<circle cx="494.09" cy="440.06" r="1.90" fill="#fff" stroke="#555" stroke-width="0.6"/>
<circle cx="493.56" cy="441.97" r="1.90" fill="#fff" stroke="#555" stroke-width="0.6"/>
<circle cx="493.85" cy="439.56" r="1.90" fill="#fff" stroke="#555" stroke-width="0.6"/>
<circle cx="493.76" cy="437.80" r="1.90" fill="#fff" stroke="#555" stroke-width="0.6"/>
<circle cx="493.87" cy="448.60" r="1.90" fill="#fff" stroke="#555" stroke-width="0.6"/>
<circle cx="494.72" cy="440.05" r="1.90" fill="#fff" stroke="#555" stroke-width="0.6"/>
<circle cx="493.74" cy="445.41" r="1.90" fill="#fff" stroke="#555" stroke-width="0.6"/>
<circle cx="503.84" cy="473.57" r="1.90" fill="#fff" stroke="#555" stroke-width="0.6"/>
<circle cx="503.83" cy="475.56" r="1.90" fill="#fff" stroke="#555" stroke-width="0.6"/>
<circle cx="502.51" cy="460.27" r="1.90" fill="#fff" stroke="#555" stroke-width="0.6"/>
<circle cx="503.03" cy="463.14" r="1.90" fill="#fff" stroke="#555" stroke-width="0.6"/>
<circle cx="503.21" cy="464.26" r="1.90" fill="#fff" stroke="#555" stroke-width="0.6"/>
<circle cx="502.46" cy="472.32" r="1.90" fill="#fff" stroke="#555" stroke-width="0.6"/>
<line x1="498.62" y1="505.10" x2="498.62" y2="508.00" stroke="#555" stroke-width="0.7"/>
<text transform="translate(499.52,512.20) rotate(-45)" x="0" y="3.53" font-size="9.8" text-anchor="end" fill="#222">Rbfa</text>
<rect x="514.84" y="439.70" width="5.80" height="65.40" fill="#7a7a7a" stroke="#444" stroke-width="0.5"/>
<rect x="523.84" y="471.09" width="5.80" height="34.01" fill="#b8b800" stroke="#555" stroke-width="0.5"/>
<line x1="517.74" y1="437.20" x2="517.74" y2="442.20" stroke="#333" stroke-width="0.7"/>
<line x1="526.74" y1="468.09" x2="526.74" y2="474.09" stroke="#333" stroke-width="0.7"/>
<circle cx="517.08" cy="445.31" r="1.90" fill="#fff" stroke="#555" stroke-width="0.6"/>
<circle cx="517.73" cy="447.30" r="1.90" fill="#fff" stroke="#555" stroke-width="0.6"/>
<circle cx="518.41" cy="435.81" r="1.90" fill="#fff" stroke="#555" stroke-width="0.6"/>
<circle cx="517.61" cy="435.67" r="1.90" fill="#fff" stroke="#555" stroke-width="0.6"/>
<circle cx="517.58" cy="436.28" r="1.90" fill="#fff" stroke="#555" stroke-width="0.6"/>
<circle cx="517.96" cy="435.97" r="1.90" fill="#fff" stroke="#555" stroke-width="0.6"/>
<circle cx="517.09" cy="436.14" r="1.90" fill="#fff" stroke="#555" stroke-width="0.6"/>
<circle cx="526.87" cy="467.61" r="1.90" fill="#fff" stroke="#555" stroke-width="0.6"/>
<circle cx="526.22" cy="473.79" r="1.90" fill="#fff" stroke="#555" stroke-width="0.6"/>
<circle cx="526.91" cy="468.36" r="1.90" fill="#fff" stroke="#555" stroke-width="0.6"/>
<circle cx="527.47" cy="470.95" r="1.90" fill="#fff" stroke="#555" stroke-width="0.6"/>
<circle cx="526.03" cy="472.28" r="1.90" fill="#fff" stroke="#555" stroke-width="0.6"/>
<circle cx="526.83" cy="471.40" r="1.90" fill="#fff" stroke="#555" stroke-width="0.6"/>
<line x1="522.14" y1="505.10" x2="522.14" y2="508.00" stroke="#555" stroke-width="0.7"/>
<text transform="translate(523.04,512.20) rotate(-45)" x="0" y="3.53" font-size="9.8" text-anchor="end" fill="#222">Mrpl12</text>
<rect x="538.36" y="439.70" width="5.80" height="65.40" fill="#7a7a7a" stroke="#444" stroke-width="0.5"/>
<rect x="547.36" y="462.59" width="5.80" height="42.51" fill="#b8b800" stroke="#555" stroke-width="0.5"/>
<line x1="541.26" y1="437.20" x2="541.26" y2="442.20" stroke="#333" stroke-width="0.7"/>
<line x1="550.26" y1="459.59" x2="550.26" y2="465.59" stroke="#333" stroke-width="0.7"/>
<circle cx="541.70" cy="441.45" r="1.90" fill="#fff" stroke="#555" stroke-width="0.6"/>
<circle cx="540.60" cy="441.08" r="1.90" fill="#fff" stroke="#555" stroke-width="0.6"/>
<circle cx="541.02" cy="441.16" r="1.90" fill="#fff" stroke="#555" stroke-width="0.6"/>
<circle cx="541.84" cy="427.04" r="1.90" fill="#fff" stroke="#555" stroke-width="0.6"/>
<circle cx="541.39" cy="437.70" r="1.90" fill="#fff" stroke="#555" stroke-width="0.6"/>
<circle cx="541.18" cy="439.73" r="1.90" fill="#fff" stroke="#555" stroke-width="0.6"/>
<circle cx="541.10" cy="442.36" r="1.90" fill="#fff" stroke="#555" stroke-width="0.6"/>
<circle cx="551.04" cy="478.02" r="1.90" fill="#fff" stroke="#555" stroke-width="0.6"/>
<circle cx="550.38" cy="461.84" r="1.90" fill="#fff" stroke="#555" stroke-width="0.6"/>
<circle cx="549.49" cy="453.63" r="1.90" fill="#fff" stroke="#555" stroke-width="0.6"/>
<circle cx="550.74" cy="456.57" r="1.90" fill="#fff" stroke="#555" stroke-width="0.6"/>
<circle cx="549.99" cy="460.92" r="1.90" fill="#fff" stroke="#555" stroke-width="0.6"/>
<circle cx="550.15" cy="466.60" r="1.90" fill="#fff" stroke="#555" stroke-width="0.6"/>
<line x1="545.66" y1="505.10" x2="545.66" y2="508.00" stroke="#555" stroke-width="0.7"/>
<text transform="translate(546.56,512.20) rotate(-45)" x="0" y="3.53" font-size="9.8" text-anchor="end" fill="#222">Ndufv1</text>
<rect x="561.88" y="439.70" width="5.80" height="65.40" fill="#7a7a7a" stroke="#444" stroke-width="0.5"/>
<rect x="570.88" y="467.50" width="5.80" height="37.61" fill="#b8b800" stroke="#555" stroke-width="0.5"/>
<line x1="564.78" y1="437.20" x2="564.78" y2="442.20" stroke="#333" stroke-width="0.7"/>
<line x1="573.78" y1="464.50" x2="573.78" y2="470.50" stroke="#333" stroke-width="0.7"/>
<circle cx="564.38" cy="444.36" r="1.90" fill="#fff" stroke="#555" stroke-width="0.6"/>
<circle cx="565.16" cy="438.73" r="1.90" fill="#fff" stroke="#555" stroke-width="0.6"/>
<circle cx="564.66" cy="435.56" r="1.90" fill="#fff" stroke="#555" stroke-width="0.6"/>
<circle cx="564.35" cy="440.47" r="1.90" fill="#fff" stroke="#555" stroke-width="0.6"/>
<circle cx="565.52" cy="438.19" r="1.90" fill="#fff" stroke="#555" stroke-width="0.6"/>
<circle cx="564.62" cy="440.96" r="1.90" fill="#fff" stroke="#555" stroke-width="0.6"/>
<circle cx="564.58" cy="441.03" r="1.90" fill="#fff" stroke="#555" stroke-width="0.6"/>
<circle cx="574.36" cy="467.18" r="1.90" fill="#fff" stroke="#555" stroke-width="0.6"/>
<circle cx="573.57" cy="468.94" r="1.90" fill="#fff" stroke="#555" stroke-width="0.6"/>
<circle cx="574.05" cy="465.22" r="1.90" fill="#fff" stroke="#555" stroke-width="0.6"/>
<circle cx="573.25" cy="479.15" r="1.90" fill="#fff" stroke="#555" stroke-width="0.6"/>
<circle cx="574.33" cy="477.78" r="1.90" fill="#fff" stroke="#555" stroke-width="0.6"/>
<circle cx="573.39" cy="467.32" r="1.90" fill="#fff" stroke="#555" stroke-width="0.6"/>
<line x1="569.18" y1="505.10" x2="569.18" y2="508.00" stroke="#555" stroke-width="0.7"/>
<text transform="translate(570.08,512.20) rotate(-45)" x="0" y="3.53" font-size="9.8" text-anchor="end" fill="#222">Ndufb2</text>
<rect x="585.40" y="439.70" width="5.80" height="65.40" fill="#7a7a7a" stroke="#444" stroke-width="0.5"/>
<rect x="594.40" y="472.01" width="5.80" height="33.09" fill="#b8b800" stroke="#555" stroke-width="0.5"/>
<line x1="588.30" y1="437.20" x2="588.30" y2="442.20" stroke="#333" stroke-width="0.7"/>
<line x1="597.30" y1="469.01" x2="597.30" y2="475.01" stroke="#333" stroke-width="0.7"/>
<circle cx="588.40" cy="429.56" r="1.90" fill="#fff" stroke="#555" stroke-width="0.6"/>
<circle cx="587.72" cy="436.37" r="1.90" fill="#fff" stroke="#555" stroke-width="0.6"/>
<circle cx="587.64" cy="435.27" r="1.90" fill="#fff" stroke="#555" stroke-width="0.6"/>
<circle cx="588.39" cy="431.30" r="1.90" fill="#fff" stroke="#555" stroke-width="0.6"/>
<circle cx="588.61" cy="434.36" r="1.90" fill="#fff" stroke="#555" stroke-width="0.6"/>
<circle cx="587.60" cy="440.17" r="1.90" fill="#fff" stroke="#555" stroke-width="0.6"/>
<circle cx="588.22" cy="438.31" r="1.90" fill="#fff" stroke="#555" stroke-width="0.6"/>
<circle cx="597.63" cy="471.83" r="1.90" fill="#fff" stroke="#555" stroke-width="0.6"/>
<circle cx="597.72" cy="470.34" r="1.90" fill="#fff" stroke="#555" stroke-width="0.6"/>
<circle cx="597.11" cy="465.74" r="1.90" fill="#fff" stroke="#555" stroke-width="0.6"/>
<circle cx="597.92" cy="485.03" r="1.90" fill="#fff" stroke="#555" stroke-width="0.6"/>
<circle cx="596.77" cy="483.00" r="1.90" fill="#fff" stroke="#555" stroke-width="0.6"/>
<circle cx="597.64" cy="474.21" r="1.90" fill="#fff" stroke="#555" stroke-width="0.6"/>
<line x1="592.70" y1="505.10" x2="592.70" y2="508.00" stroke="#555" stroke-width="0.7"/>
<text transform="translate(593.60,512.20) rotate(-45)" x="0" y="3.53" font-size="9.8" text-anchor="end" fill="#222">Cox5a</text>
<rect x="608.92" y="439.70" width="5.80" height="65.40" fill="#7a7a7a" stroke="#444" stroke-width="0.5"/>
<rect x="617.92" y="468.08" width="5.80" height="37.02" fill="#b8b800" stroke="#555" stroke-width="0.5"/>
<line x1="611.82" y1="437.20" x2="611.82" y2="442.20" stroke="#333" stroke-width="0.7"/>
<line x1="620.82" y1="465.08" x2="620.82" y2="471.08" stroke="#333" stroke-width="0.7"/>
<circle cx="611.30" cy="437.99" r="1.90" fill="#fff" stroke="#555" stroke-width="0.6"/>
<circle cx="611.75" cy="438.60" r="1.90" fill="#fff" stroke="#555" stroke-width="0.6"/>
<circle cx="611.91" cy="447.71" r="1.90" fill="#fff" stroke="#555" stroke-width="0.6"/>
<circle cx="611.64" cy="441.49" r="1.90" fill="#fff" stroke="#555" stroke-width="0.6"/>
<circle cx="611.30" cy="439.64" r="1.90" fill="#fff" stroke="#555" stroke-width="0.6"/>
<circle cx="611.79" cy="435.11" r="1.90" fill="#fff" stroke="#555" stroke-width="0.6"/>
<circle cx="612.53" cy="438.26" r="1.90" fill="#fff" stroke="#555" stroke-width="0.6"/>
<circle cx="620.88" cy="463.81" r="1.90" fill="#fff" stroke="#555" stroke-width="0.6"/>
<circle cx="621.53" cy="459.91" r="1.90" fill="#fff" stroke="#555" stroke-width="0.6"/>
<circle cx="620.07" cy="458.26" r="1.90" fill="#fff" stroke="#555" stroke-width="0.6"/>
<circle cx="621.61" cy="462.33" r="1.90" fill="#fff" stroke="#555" stroke-width="0.6"/>
<circle cx="621.44" cy="467.90" r="1.90" fill="#fff" stroke="#555" stroke-width="0.6"/>
<circle cx="620.89" cy="467.04" r="1.90" fill="#fff" stroke="#555" stroke-width="0.6"/>
<line x1="616.22" y1="505.10" x2="616.22" y2="508.00" stroke="#555" stroke-width="0.7"/>
<text transform="translate(617.12,512.20) rotate(-45)" x="0" y="3.53" font-size="9.8" text-anchor="end" fill="#222">Atp5j2</text>
<rect x="632.44" y="439.70" width="5.80" height="65.40" fill="#7a7a7a" stroke="#444" stroke-width="0.5"/>
<rect x="641.44" y="459.32" width="5.80" height="45.78" fill="#b8b800" stroke="#555" stroke-width="0.5"/>
<line x1="635.34" y1="437.20" x2="635.34" y2="442.20" stroke="#333" stroke-width="0.7"/>
<line x1="644.34" y1="456.32" x2="644.34" y2="462.32" stroke="#333" stroke-width="0.7"/>
<circle cx="634.62" cy="444.52" r="1.90" fill="#fff" stroke="#555" stroke-width="0.6"/>
<circle cx="635.50" cy="440.42" r="1.90" fill="#fff" stroke="#555" stroke-width="0.6"/>
<circle cx="635.14" cy="438.48" r="1.90" fill="#fff" stroke="#555" stroke-width="0.6"/>
<circle cx="635.95" cy="440.48" r="1.90" fill="#fff" stroke="#555" stroke-width="0.6"/>
<circle cx="634.91" cy="442.76" r="1.90" fill="#fff" stroke="#555" stroke-width="0.6"/>
<circle cx="635.86" cy="443.53" r="1.90" fill="#fff" stroke="#555" stroke-width="0.6"/>
<circle cx="635.71" cy="441.66" r="1.90" fill="#fff" stroke="#555" stroke-width="0.6"/>
<circle cx="644.54" cy="449.33" r="1.90" fill="#fff" stroke="#555" stroke-width="0.6"/>
<circle cx="644.94" cy="459.88" r="1.90" fill="#fff" stroke="#555" stroke-width="0.6"/>
<circle cx="643.60" cy="462.32" r="1.90" fill="#fff" stroke="#555" stroke-width="0.6"/>
<circle cx="644.50" cy="461.56" r="1.90" fill="#fff" stroke="#555" stroke-width="0.6"/>
<circle cx="644.52" cy="466.15" r="1.90" fill="#fff" stroke="#555" stroke-width="0.6"/>
<circle cx="644.62" cy="468.61" r="1.90" fill="#fff" stroke="#555" stroke-width="0.6"/>
<line x1="639.74" y1="505.10" x2="639.74" y2="508.00" stroke="#555" stroke-width="0.7"/>
<text transform="translate(640.64,512.20) rotate(-45)" x="0" y="3.53" font-size="9.8" text-anchor="end" fill="#222">Mfn2</text>
<rect x="655.96" y="439.70" width="5.80" height="65.40" fill="#7a7a7a" stroke="#444" stroke-width="0.5"/>
<rect x="664.96" y="474.36" width="5.80" height="30.74" fill="#b8b800" stroke="#555" stroke-width="0.5"/>
<line x1="658.86" y1="437.20" x2="658.86" y2="442.20" stroke="#333" stroke-width="0.7"/>
<line x1="667.86" y1="471.36" x2="667.86" y2="477.36" stroke="#333" stroke-width="0.7"/>
<circle cx="659.31" cy="439.36" r="1.90" fill="#fff" stroke="#555" stroke-width="0.6"/>
<circle cx="658.07" cy="440.94" r="1.90" fill="#fff" stroke="#555" stroke-width="0.6"/>
<circle cx="659.59" cy="438.88" r="1.90" fill="#fff" stroke="#555" stroke-width="0.6"/>
<circle cx="659.00" cy="437.69" r="1.90" fill="#fff" stroke="#555" stroke-width="0.6"/>
<circle cx="659.62" cy="434.72" r="1.90" fill="#fff" stroke="#555" stroke-width="0.6"/>
<circle cx="659.64" cy="439.10" r="1.90" fill="#fff" stroke="#555" stroke-width="0.6"/>
<circle cx="659.39" cy="438.39" r="1.90" fill="#fff" stroke="#555" stroke-width="0.6"/>
<circle cx="667.23" cy="478.87" r="1.90" fill="#fff" stroke="#555" stroke-width="0.6"/>
<circle cx="667.62" cy="468.53" r="1.90" fill="#fff" stroke="#555" stroke-width="0.6"/>
<circle cx="667.43" cy="475.83" r="1.90" fill="#fff" stroke="#555" stroke-width="0.6"/>
<circle cx="668.31" cy="474.69" r="1.90" fill="#fff" stroke="#555" stroke-width="0.6"/>
<circle cx="667.37" cy="473.42" r="1.90" fill="#fff" stroke="#555" stroke-width="0.6"/>
<circle cx="667.41" cy="480.18" r="1.90" fill="#fff" stroke="#555" stroke-width="0.6"/>
<line x1="663.26" y1="505.10" x2="663.26" y2="508.00" stroke="#555" stroke-width="0.7"/>
<text transform="translate(664.16,512.20) rotate(-45)" x="0" y="3.53" font-size="9.8" text-anchor="end" fill="#222">Sod2</text>
<text x="458.00" y="397.00" font-size="6.4" fill="#222">1.25 × 10<tspan font-size="4.8" dy="-2.8">−5</tspan></text>
<line x1="470.20" y1="399.60" x2="479.00" y2="399.60" stroke="#444" stroke-width="0.7"/>
<text x="481.00" y="425.20" font-size="6.4" fill="#222">4.28 × 10<tspan font-size="4.8" dy="-2.8">−9</tspan></text>
<line x1="493.80" y1="427.80" x2="502.90" y2="427.80" stroke="#444" stroke-width="0.7"/>
<text x="506.00" y="407.30" font-size="6.4" fill="#222">1.13 × 10<tspan font-size="4.8" dy="-2.8">−15</tspan></text>
<line x1="517.00" y1="409.50" x2="526.00" y2="409.50" stroke="#444" stroke-width="0.7"/>
<text x="528.30" y="414.30" font-size="6.4" fill="#222">1.96 × 10<tspan font-size="4.8" dy="-2.8">−9</tspan></text>
<line x1="540.30" y1="416.80" x2="549.30" y2="416.80" stroke="#444" stroke-width="0.7"/>
<text x="551.60" y="422.30" font-size="6.4" fill="#222">3.93 × 10<tspan font-size="4.8" dy="-2.8">−10</tspan></text>
<line x1="565.40" y1="424.70" x2="573.90" y2="424.70" stroke="#444" stroke-width="0.7"/>
<text x="575.60" y="409.50" font-size="6.4" fill="#222">1.06 × 10<tspan font-size="4.8" dy="-2.8">−14</tspan></text>
<line x1="588.70" y1="411.40" x2="597.20" y2="411.40" stroke="#444" stroke-width="0.7"/>
<text x="598.80" y="416.90" font-size="6.4" fill="#222">1.24 × 10<tspan font-size="4.8" dy="-2.8">−12</tspan></text>
<line x1="612.00" y1="418.40" x2="620.40" y2="418.40" stroke="#444" stroke-width="0.7"/>
<text x="624.30" y="421.80" font-size="6.4" fill="#222">1.82 × 10<tspan font-size="4.8" dy="-2.8">−17</tspan></text>
<line x1="636.30" y1="424.30" x2="644.80" y2="424.30" stroke="#444" stroke-width="0.7"/>
<text x="650.50" y="427.70" font-size="6.4" fill="#222">1.89 × 10<tspan font-size="4.8" dy="-2.8">−27</tspan></text>
<line x1="659.60" y1="429.40" x2="668.10" y2="429.40" stroke="#444" stroke-width="0.7"/>
<rect x="622.40" y="384.40" width="8.20" height="8.00" fill="#7a7a7a" stroke="#333" stroke-width="0.8"/>
<rect x="622.40" y="396.50" width="8.20" height="8.00" fill="#b8b800" stroke="#333" stroke-width="0.8"/>
<text x="634.90" y="391.37" font-size="8.8" textLength="9.7" lengthAdjust="spacingAndGlyphs" fill="#222">ctr</text>
<text x="634.90" y="403.17" font-size="8.8" textLength="30.2" lengthAdjust="spacingAndGlyphs" fill="#222">C26 13d</text>
<text x="0.00" y="577.70" font-size="14" font-weight="bold" fill="#000">h</text>
<text x="37.00" y="582.50" font-size="9.6" textLength="60.0" lengthAdjust="spacingAndGlyphs" fill="#222">ChIP p-CREB1</text>
<text x="97.80" y="578.60" font-size="6.3" textLength="13.8" lengthAdjust="spacingAndGlyphs" fill="#222">S133</text>
<text x="33.00" y="599.21" font-size="9.2" text-anchor="end" fill="#222">ctr (1)</text>
<text x="33.00" y="614.06" font-size="9.2" text-anchor="end" fill="#222">C26 (1)</text>
<text x="33.00" y="628.91" font-size="9.2" text-anchor="end" fill="#222">ctr (2)</text>
<text x="33.00" y="643.76" font-size="9.2" text-anchor="end" fill="#222">C26 (2)</text>
<rect x="38.40" y="587.50" width="210.10" height="110.80" fill="#f9f9f9"/>
<line x1="38.40" y1="599.60" x2="248.50" y2="599.60" stroke="#a8d0da" stroke-width="1.0"/>
<path d="M38.9,599.1V597.7H40.2V597.9H41.5V598.6H42.8V599.0H44.1V599.0H45.4V598.7H46.7V598.6H48.0V598.3H49.3V598.0H50.6V598.3H51.9V597.7H53.2V597.8H54.5V598.3H55.8V597.9H57.1V597.1H58.4V597.4H59.7V597.3H61.0V597.1H62.3V597.3H63.6V597.7H64.9V597.0H66.2V596.9H67.5V596.1H68.8V596.1H70.1V596.1H71.4V596.9H72.7V596.3H74.0V596.5H75.3V597.7H76.6V598.1H77.9V598.3H79.2V598.8H80.5V598.4H81.8V598.6H83.1V598.3H84.4V598.3H85.7V598.1H87.0V598.4H88.3V598.2H89.6V598.5H90.9V598.7H92.2V598.6H93.5V598.5H94.8V598.2H96.1V597.8H97.4V597.9H98.7V597.5H100.0V597.4H101.3V597.7H102.6V597.3H103.9V597.7H105.2V597.1H106.5V597.0H107.8V597.3H109.1V596.9H110.4V597.1H111.7V595.6H113.0V595.9H114.3V596.5H115.6V596.1H116.9V596.9H118.2V595.2H119.5V594.6H120.8V594.9H122.1V593.5H123.4V593.9H124.7V593.2H126.0V592.9H127.3V594.7H128.6V592.3H129.9V592.5H131.2V592.9H132.5V591.4H133.8V593.5H135.1V592.9H136.4V592.5H137.7V592.4H139.0V594.2H140.3V595.1H141.6V596.1H142.9V595.9H144.2V596.2H145.5V596.0H146.8V596.0H148.1V596.9H149.4V596.3H150.7V595.8H152.0V595.8H153.3V596.0H154.6V594.9H155.9V590.4H157.2V588.4H158.5V587.7H159.8V592.3H161.1V593.8H162.4V595.6H163.7V595.2H165.0V596.0H166.3V594.5H167.6V596.1H168.9V597.4H170.2V597.9H171.5V598.0H172.8V598.3H174.1V598.0H175.4V597.9H176.7V597.9H178.0V598.1H179.3V598.2H180.6V598.3H181.9V598.8H183.2V599.0H184.5V599.0H185.8V599.0H187.1V598.8H188.4V598.5H189.7V598.0H191.0V597.7H192.3V597.5H193.6V597.5H194.9V598.0H196.2V598.2H197.5V598.5H198.8V598.6H200.1V599.0H201.4V599.1H202.7V599.1H204.0V598.9H205.3V599.0H206.6V598.7H207.9V598.7H209.2V598.1H210.5V598.5H211.8V598.4H213.1V598.5H214.4V598.7H215.7V598.5H217.0V598.4H218.3V598.4H219.6V598.3H220.9V598.6H222.2V598.8H223.5V598.9H224.8V599.0H226.1V599.1H227.4V598.9H228.7V599.1H230.0V599.0H231.3V598.7H232.6V598.4H233.9V597.8H235.2V597.8H236.5V597.6H237.8V597.1H239.1V597.7H240.4V597.6H241.7V598.1H243.0V598.1H244.3V597.9H245.6V597.4H246.9V597.4H248.0V599.1Z" fill="#137b95"/>
<text x="40.90" y="593.12" font-size="5.6" fill="#333">0–11</text>
<line x1="38.40" y1="614.93" x2="248.50" y2="614.93" stroke="#e6e2a0" stroke-width="1.0"/>
<path d="M38.9,614.4V614.0H40.2V613.7H41.5V613.4H42.8V613.7H44.1V613.3H45.4V613.6H46.7V613.6H48.0V613.8H49.3V613.7H50.6V613.6H51.9V613.7H53.2V613.7H54.5V613.9H55.8V613.9H57.1V613.6H58.4V613.8H59.7V613.3H61.0V613.3H62.3V613.1H63.6V613.2H64.9V613.2H66.2V612.6H67.5V612.1H68.8V611.4H70.1V611.6H71.4V610.0H72.7V610.2H74.0V609.7H75.3V610.4H76.6V610.0H77.9V610.3H79.2V611.1H80.5V611.8H81.8V611.5H83.1V612.0H84.4V612.0H85.7V612.7H87.0V613.0H88.3V613.4H89.6V613.6H90.9V613.8H92.2V613.8H93.5V613.6H94.8V614.0H96.1V613.8H97.4V613.9H98.7V614.1H100.0V614.0H101.3V614.0H102.6V614.1H103.9V613.7H105.2V613.1H106.5V612.9H107.8V612.7H109.1V612.6H110.4V612.7H111.7V613.3H113.0V613.3H114.3V613.3H115.6V612.9H116.9V612.8H118.2V611.7H119.5V611.3H120.8V612.2H122.1V611.6H123.4V612.6H124.7V612.8H126.0V612.9H127.3V612.9H128.6V612.5H129.9V612.0H131.2V612.5H132.5V611.9H133.8V611.9H135.1V611.9H136.4V613.0H137.7V612.7H139.0V612.7H140.3V612.9H141.6V613.3H142.9V613.0H144.2V613.1H145.5V613.0H146.8V613.1H148.1V613.4H149.4V612.9H150.7V613.2H152.0V613.1H153.3V612.8H154.6V612.9H155.9V612.2H157.2V612.1H158.5V612.3H159.8V611.6H161.1V612.1H162.4V612.5H163.7V613.0H165.0V612.9H166.3V612.9H167.6V613.4H168.9V613.4H170.2V613.7H171.5V614.1H172.8V614.2H174.1V614.3H175.4V614.4H176.7V614.4H178.0V614.4H179.3V614.3H180.6V614.4H181.9V614.2H183.2V614.4H184.5V614.3H185.8V614.3H187.1V614.1H188.4V613.5H189.7V613.1H191.0V613.2H192.3V612.5H193.6V612.5H194.9V613.2H196.2V612.9H197.5V613.6H198.8V613.8H200.1V613.6H201.4V613.7H202.7V613.9H204.0V613.5H205.3V613.5H206.6V613.7H207.9V613.7H209.2V613.3H210.5V613.7H211.8V613.7H213.1V613.8H214.4V613.8H215.7V613.9H217.0V614.0H218.3V614.1H219.6V614.1H220.9V614.1H222.2V613.9H223.5V614.0H224.8V614.0H226.1V613.7H227.4V613.7H228.7V613.7H230.0V613.7H231.3V614.0H232.6V613.9H233.9V614.0H235.2V613.9H236.5V613.8H237.8V613.2H239.1V612.5H240.4V612.2H241.7V612.2H243.0V613.0H244.3V613.8H245.6V614.1H246.9V614.1H248.0V614.4Z" fill="#bfbb00"/>
<text x="40.90" y="608.45" font-size="5.6" fill="#333">0–11</text>
<line x1="38.40" y1="630.26" x2="248.50" y2="630.26" stroke="#86bccb" stroke-width="1.0"/>
<path d="M38.9,629.8V629.0H40.2V628.7H41.5V628.6H42.8V628.6H44.1V628.6H45.4V628.3H46.7V628.6H48.0V628.8H49.3V628.8H50.6V629.0H51.9V628.6H53.2V628.9H54.5V628.9H55.8V628.8H57.1V628.6H58.4V628.6H59.7V628.8H61.0V628.2H62.3V628.2H63.6V628.3H64.9V628.1H66.2V628.6H67.5V628.1H68.8V628.3H70.1V628.7H71.4V629.0H72.7V629.1H74.0V629.3H75.3V629.2H76.6V629.2H77.9V629.1H79.2V629.4H80.5V629.4H81.8V629.2H83.1V629.4H84.4V629.2H85.7V629.1H87.0V629.2H88.3V629.3H89.6V629.1H90.9V629.3H92.2V629.0H93.5V629.2H94.8V629.4H96.1V629.2H97.4V629.2H98.7V629.3H100.0V629.0H101.3V628.8H102.6V628.3H103.9V627.3H105.2V627.4H106.5V626.7H107.8V627.5H109.1V626.7H110.4V627.3H111.7V627.3H113.0V627.4H114.3V628.1H115.6V628.0H116.9V628.5H118.2V628.4H119.5V627.8H120.8V626.9H122.1V626.8H123.4V627.0H124.7V626.7H126.0V626.6H127.3V625.6H128.6V626.0H129.9V625.0H131.2V623.9H132.5V623.1H133.8V620.1H135.1V621.5H136.4V623.3H137.7V624.0H139.0V623.9H140.3V624.8H141.6V626.3H142.9V626.3H144.2V624.1H145.5V624.9H146.8V622.8H148.1V625.6H149.4V627.3H150.7V627.8H152.0V628.3H153.3V627.5H154.6V626.7H155.9V625.8H157.2V626.3H158.5V624.3H159.8V622.1H161.1V620.8H162.4V620.9H163.7V622.0H165.0V624.9H166.3V625.3H167.6V627.0H168.9V628.0H170.2V629.3H171.5V629.3H172.8V629.4H174.1V629.4H175.4V629.1H176.7V629.1H178.0V629.0H179.3V629.0H180.6V629.4H181.9V629.4H183.2V629.6H184.5V629.5H185.8V629.7H187.1V629.7H188.4V629.6H189.7V629.4H191.0V629.4H192.3V629.4H193.6V629.3H194.9V629.3H196.2V629.1H197.5V629.0H198.8V629.1H200.1V629.1H201.4V629.1H202.7V629.3H204.0V629.4H205.3V629.5H206.6V629.3H207.9V629.6H209.2V629.7H210.5V629.7H211.8V629.7H213.1V629.7H214.4V629.4H215.7V629.4H217.0V629.4H218.3V629.1H219.6V628.9H220.9V629.1H222.2V629.0H223.5V629.2H224.8V629.2H226.1V629.4H227.4V629.6H228.7V629.7H230.0V629.7H231.3V629.7H232.6V629.8H233.9V629.8H235.2V629.8H236.5V629.8H237.8V629.8H239.1V629.8H240.4V629.7H241.7V629.8H243.0V629.6H244.3V629.8H245.6V629.6H246.9V629.8H248.0V629.8Z" fill="#137b95"/>
<text x="40.90" y="623.78" font-size="5.6" fill="#333">0–29</text>
<line x1="38.40" y1="645.59" x2="248.50" y2="645.59" stroke="#d8d460" stroke-width="1.0"/>
<path d="M38.9,645.1V645.1H40.2V645.1H41.5V645.1H42.8V645.1H44.1V645.1H45.4V644.9H46.7V645.1H48.0V645.1H49.3V645.1H50.6V645.1H51.9V645.1H53.2V645.0H54.5V645.0H55.8V644.8H57.1V644.3H58.4V643.6H59.7V643.3H61.0V643.9H62.3V644.2H63.6V644.6H64.9V645.0H66.2V645.0H67.5V645.1H68.8V645.1H70.1V645.1H71.4V645.1H72.7V645.1H74.0V645.0H75.3V644.9H76.6V645.0H77.9V644.7H79.2V644.3H80.5V644.0H81.8V644.3H83.1V644.5H84.4V644.7H85.7V644.8H87.0V644.9H88.3V644.6H89.6V644.3H90.9V643.7H92.2V643.9H93.5V643.8H94.8V644.3H96.1V644.3H97.4V644.2H98.7V644.1H100.0V644.1H101.3V644.1H102.6V643.8H103.9V643.7H105.2V643.8H106.5V643.8H107.8V644.0H109.1V644.0H110.4V643.8H111.7V643.6H113.0V643.9H114.3V643.9H115.6V644.0H116.9V644.2H118.2V644.2H119.5V644.5H120.8V644.5H122.1V644.5H123.4V644.5H124.7V644.7H126.0V644.7H127.3V644.8H128.6V644.7H129.9V643.4H131.2V639.2H132.5V640.6H133.8V642.9H135.1V642.0H136.4V640.5H137.7V640.6H139.0V639.0H140.3V639.7H141.6V642.9H142.9V644.6H144.2V644.8H145.5V644.6H146.8V644.4H148.1V644.2H149.4V644.3H150.7V644.3H152.0V644.5H153.3V644.7H154.6V644.6H155.9V643.8H157.2V641.6H158.5V642.1H159.8V641.8H161.1V640.2H162.4V639.9H163.7V641.4H165.0V640.6H166.3V639.8H167.6V643.3H168.9V644.6H170.2V644.6H171.5V644.2H172.8V644.5H174.1V644.8H175.4V645.0H176.7V645.0H178.0V645.1H179.3V645.1H180.6V645.0H181.9V645.1H183.2V645.1H184.5V645.1H185.8V644.9H187.1V645.1H188.4V645.1H189.7V644.9H191.0V645.1H192.3V644.9H193.6V645.1H194.9V645.1H196.2V645.1H197.5V645.0H198.8V644.4H200.1V643.5H201.4V643.2H202.7V644.5H204.0V645.0H205.3V645.1H206.6V645.1H207.9V645.0H209.2V645.1H210.5V645.1H211.8V645.1H213.1V645.1H214.4V645.1H215.7V644.9H217.0V645.1H218.3V645.1H219.6V645.0H220.9V645.1H222.2V645.1H223.5V645.1H224.8V645.1H226.1V644.9H227.4V645.1H228.7V645.1H230.0V645.1H231.3V645.1H232.6V645.1H233.9V645.1H235.2V645.1H236.5V645.0H237.8V645.1H239.1V645.1H240.4V645.1H241.7V645.1H243.0V645.1H244.3V645.1H245.6V645.1H246.9V645.0H248.0V645.1Z" fill="#bfbb00"/>
<text x="40.90" y="639.11" font-size="5.6" fill="#333">0–29</text>
<line x1="38.40" y1="647.20" x2="248.50" y2="647.20" stroke="#dadada" stroke-width="0.8"/>
<line x1="38.40" y1="649.20" x2="248.50" y2="649.20" stroke="#dadada" stroke-width="0.8"/>
<rect x="38.90" y="659.50" width="209.10" height="10.00" fill="#fdfdfd"/>
<rect x="104.70" y="677.60" width="47.00" height="11.20" fill="#fefefe"/>
<rect x="106.20" y="672.90" width="44.00" height="4.70" fill="#ff0a0a"/>
<text x="128.20" y="685.86" font-size="6.0" text-anchor="middle" fill="#555">merg_peak 1642</text>
<text x="40.60" y="693.36" font-size="9.6" font-style="italic" fill="#111">Ppargc1b</text>
<line x1="38.40" y1="587.50" x2="248.50" y2="587.50" stroke="#111" stroke-width="1.0"/>
<line x1="38.40" y1="698.30" x2="248.50" y2="698.30" stroke="#111" stroke-width="1.0"/>
<line x1="38.40" y1="587.50" x2="38.40" y2="698.30" stroke="#333" stroke-width="1.0"/>
<line x1="248.50" y1="587.50" x2="248.50" y2="698.30" stroke="#666" stroke-width="1.2"/>
<text x="248.50" y="706.06" font-size="8.5" text-anchor="end" textLength="115.6" lengthAdjust="spacingAndGlyphs" fill="#222">Chr18:61,392,500–61,406,000</text>
<rect x="252.50" y="587.50" width="211.00" height="110.80" fill="#f9f9f9"/>
<line x1="252.50" y1="599.60" x2="463.50" y2="599.60" stroke="#a8d0da" stroke-width="1.0"/>
<path d="M253.0,599.1V599.0H254.3V599.0H255.6V599.1H256.9V599.1H258.2V599.0H259.5V599.1H260.8V599.0H262.1V599.1H263.4V599.1H264.7V599.1H266.0V599.0H267.3V599.1H268.6V599.1H269.9V599.1H271.2V599.1H272.5V599.1H273.8V599.1H275.1V599.1H276.4V599.1H277.7V599.1H279.0V599.1H280.3V599.1H281.6V599.0H282.9V599.0H284.2V599.1H285.5V599.1H286.8V599.1H288.1V599.1H289.4V599.1H290.7V599.0H292.0V599.1H293.3V599.1H294.6V599.1H295.9V599.1H297.2V599.1H298.5V599.1H299.8V599.1H301.1V599.1H302.4V599.1H303.7V599.1H305.0V599.1H306.3V599.1H307.6V599.1H308.9V599.0H310.2V599.0H311.5V599.1H312.8V599.1H314.1V599.1H315.4V599.1H316.7V599.1H318.0V599.1H319.3V599.1H320.6V599.1H321.9V599.1H323.2V599.1H324.5V599.1H325.8V599.1H327.1V599.1H328.4V599.1H329.7V599.1H331.0V599.0H332.3V599.1H333.6V599.1H334.9V599.0H336.2V599.0H337.5V599.0H338.8V598.9H340.1V598.8H341.4V598.7H342.7V598.5H344.0V598.4H345.3V597.9H346.6V597.3H347.9V596.8H349.2V595.9H350.5V594.2H351.8V593.2H353.1V592.7H354.4V591.9H355.7V590.3H357.0V590.0H358.3V590.4H359.6V589.6H360.9V587.4H362.2V588.5H363.5V588.0H364.8V587.4H366.1V590.0H367.4V589.1H368.7V591.3H370.0V592.4H371.3V593.7H372.6V594.4H373.9V595.5H375.2V596.4H376.5V596.8H377.8V597.3H379.1V597.6H380.4V597.9H381.7V598.1H383.0V598.3H384.3V598.5H385.6V598.7H386.9V598.8H388.2V598.9H389.5V599.0H390.8V599.0H392.1V599.0H393.4V599.1H394.7V599.1H396.0V599.1H397.3V599.1H398.6V599.0H399.9V599.1H401.2V599.1H402.5V599.0H403.8V598.8H405.1V598.5H406.4V598.2H407.7V598.2H409.0V598.6H410.3V598.8H411.6V599.0H412.9V599.1H414.2V599.0H415.5V599.1H416.8V599.1H418.1V599.0H419.4V599.1H420.7V599.0H422.0V599.0H423.3V599.0H424.6V599.1H425.9V599.1H427.2V599.0H428.5V599.1H429.8V599.1H431.1V599.1H432.4V599.1H433.7V599.1H435.0V599.1H436.3V599.1H437.6V599.1H438.9V599.1H440.2V599.1H441.5V599.1H442.8V599.1H444.1V599.1H445.4V599.1H446.7V599.1H448.0V599.1H449.3V599.1H450.6V599.1H451.9V599.0H453.2V599.1H454.5V599.1H455.8V599.1H457.1V599.1H458.4V599.1H459.7V599.1H461.0V599.1H462.3V599.1H463.0V599.1Z" fill="#137b95"/>
<text x="255.00" y="593.12" font-size="5.6" fill="#333">0–73</text>
<line x1="252.50" y1="614.93" x2="463.50" y2="614.93" stroke="#e6e2a0" stroke-width="1.0"/>
<path d="M253.0,614.4V614.3H254.3V614.3H255.6V614.4H256.9V614.4H258.2V614.4H259.5V614.4H260.8V614.4H262.1V614.4H263.4V614.4H264.7V614.4H266.0V614.4H267.3V614.4H268.6V614.4H269.9V614.4H271.2V614.4H272.5V614.4H273.8V614.4H275.1V614.4H276.4V614.4H277.7V614.4H279.0V614.4H280.3V614.4H281.6V614.4H282.9V614.4H284.2V614.4H285.5V614.4H286.8V614.4H288.1V614.4H289.4V614.4H290.7V614.4H292.0V614.4H293.3V614.4H294.6V614.4H295.9V614.3H297.2V614.4H298.5V614.4H299.8V614.4H301.1V614.4H302.4V614.4H303.7V614.4H305.0V614.4H306.3V614.4H307.6V614.4H308.9V614.4H310.2V614.4H311.5V614.3H312.8V614.4H314.1V614.4H315.4V614.4H316.7V614.4H318.0V614.3H319.3V614.3H320.6V614.3H321.9V614.2H323.2V614.1H324.5V614.1H325.8V614.1H327.1V614.0H328.4V613.9H329.7V613.9H331.0V614.0H332.3V613.9H333.6V613.9H334.9V613.9H336.2V613.8H337.5V613.9H338.8V613.9H340.1V614.0H341.4V614.1H342.7V614.2H344.0V614.2H345.3V614.1H346.6V614.2H347.9V614.2H349.2V614.2H350.5V614.1H351.8V614.0H353.1V613.8H354.4V613.7H355.7V613.3H357.0V612.9H358.3V612.4H359.6V612.2H360.9V611.9H362.2V611.4H363.5V611.4H364.8V611.6H366.1V611.3H367.4V611.5H368.7V612.1H370.0V612.3H371.3V612.9H372.6V613.3H373.9V613.5H375.2V613.9H376.5V614.0H377.8V614.1H379.1V614.3H380.4V614.3H381.7V614.4H383.0V614.4H384.3V614.4H385.6V614.4H386.9V614.4H388.2V614.4H389.5V614.4H390.8V614.4H392.1V614.4H393.4V614.4H394.7V614.4H396.0V614.4H397.3V614.4H398.6V614.4H399.9V614.4H401.2V614.4H402.5V614.4H403.8V614.4H405.1V614.4H406.4V614.4H407.7V614.4H409.0V614.4H410.3V614.4H411.6V614.4H412.9V614.4H414.2V614.4H415.5V614.4H416.8V614.4H418.1V614.4H419.4V614.4H420.7V614.4H422.0V614.4H423.3V614.4H424.6V614.4H425.9V614.4H427.2V614.4H428.5V614.4H429.8V614.4H431.1V614.4H432.4V614.4H433.7V614.4H435.0V614.4H436.3V614.4H437.6V614.4H438.9V614.4H440.2V614.4H441.5V614.4H442.8V614.4H444.1V614.4H445.4V614.4H446.7V614.4H448.0V614.3H449.3V614.4H450.6V614.4H451.9V614.4H453.2V614.4H454.5V614.4H455.8V614.4H457.1V614.4H458.4V614.4H459.7V614.4H461.0V614.4H462.3V614.4H463.0V614.4Z" fill="#bfbb00"/>
<text x="255.00" y="608.45" font-size="5.6" fill="#333">0–73</text>
<line x1="252.50" y1="630.26" x2="463.50" y2="630.26" stroke="#86bccb" stroke-width="1.0"/>
<path d="M253.0,629.8V629.8H254.3V629.8H255.6V629.8H256.9V629.8H258.2V629.8H259.5V629.8H260.8V629.8H262.1V629.7H263.4V629.7H264.7V629.8H266.0V629.8H267.3V629.7H268.6V629.8H269.9V629.8H271.2V629.8H272.5V629.7H273.8V629.8H275.1V629.8H276.4V629.8H277.7V629.8H279.0V629.8H280.3V629.8H281.6V629.7H282.9V629.8H284.2V629.7H285.5V629.8H286.8V629.8H288.1V629.8H289.4V629.8H290.7V629.8H292.0V629.8H293.3V629.8H294.6V629.8H295.9V629.8H297.2V629.7H298.5V629.7H299.8V629.8H301.1V629.8H302.4V629.8H303.7V629.7H305.0V629.7H306.3V629.7H307.6V629.8H308.9V629.8H310.2V629.8H311.5V629.8H312.8V629.8H314.1V629.8H315.4V629.7H316.7V629.8H318.0V629.8H319.3V629.8H320.6V629.8H321.9V629.8H323.2V629.7H324.5V629.8H325.8V629.8H327.1V629.8H328.4V629.8H329.7V629.8H331.0V629.8H332.3V629.7H333.6V629.7H334.9V629.7H336.2V629.6H337.5V629.4H338.8V629.3H340.1V629.1H341.4V628.9H342.7V628.3H344.0V627.8H345.3V627.6H346.6V627.1H347.9V626.5H349.2V625.9H350.5V625.3H351.8V623.9H353.1V624.1H354.4V623.4H355.7V622.3H357.0V622.5H358.3V620.8H359.6V619.8H360.9V619.3H362.2V617.8H363.5V618.5H364.8V617.8H366.1V620.4H367.4V621.9H368.7V623.9H370.0V624.6H371.3V626.1H372.6V627.2H373.9V628.0H375.2V628.6H376.5V628.8H377.8V629.2H379.1V629.4H380.4V629.5H381.7V629.6H383.0V629.7H384.3V629.7H385.6V629.7H386.9V629.7H388.2V629.7H389.5V629.7H390.8V629.6H392.1V629.8H393.4V629.8H394.7V629.8H396.0V629.8H397.3V629.8H398.6V629.7H399.9V629.8H401.2V629.8H402.5V629.8H403.8V629.8H405.1V629.8H406.4V629.8H407.7V629.8H409.0V629.7H410.3V629.7H411.6V629.8H412.9V629.8H414.2V629.7H415.5V629.8H416.8V629.8H418.1V629.8H419.4V629.7H420.7V629.7H422.0V629.8H423.3V629.8H424.6V629.7H425.9V629.8H427.2V629.8H428.5V629.8H429.8V629.7H431.1V629.7H432.4V629.7H433.7V629.8H435.0V629.8H436.3V629.8H437.6V629.8H438.9V629.8H440.2V629.8H441.5V629.7H442.8V629.8H444.1V629.8H445.4V629.8H446.7V629.8H448.0V629.8H449.3V629.8H450.6V629.8H451.9V629.7H453.2V629.8H454.5V629.7H455.8V629.8H457.1V629.7H458.4V629.7H459.7V629.7H461.0V629.7H462.3V629.7H463.0V629.8Z" fill="#137b95"/>
<text x="255.00" y="623.78" font-size="5.6" fill="#333">0–96</text>
<line x1="252.50" y1="645.59" x2="463.50" y2="645.59" stroke="#d8d460" stroke-width="1.0"/>
<path d="M253.0,645.1V645.1H254.3V645.1H255.6V645.1H256.9V645.1H258.2V645.1H259.5V645.1H260.8V645.1H262.1V645.1H263.4V645.1H264.7V645.1H266.0V645.0H267.3V645.1H268.6V645.1H269.9V645.1H271.2V645.0H272.5V645.1H273.8V645.0H275.1V645.0H276.4V645.1H277.7V645.1H279.0V645.1H280.3V645.0H281.6V645.1H282.9V645.1H284.2V645.1H285.5V645.1H286.8V645.1H288.1V645.0H289.4V645.0H290.7V645.1H292.0V645.0H293.3V645.1H294.6V645.1H295.9V645.0H297.2V645.1H298.5V645.1H299.8V645.1H301.1V645.0H302.4V645.0H303.7V645.0H305.0V645.1H306.3V645.1H307.6V645.1H308.9V645.1H310.2V645.1H311.5V645.0H312.8V645.0H314.1V645.0H315.4V645.1H316.7V645.1H318.0V645.1H319.3V645.1H320.6V645.1H321.9V645.1H323.2V645.1H324.5V645.1H325.8V645.1H327.1V645.1H328.4V645.1H329.7V645.1H331.0V645.1H332.3V645.1H333.6V645.1H334.9V645.1H336.2V645.1H337.5V645.1H338.8V645.1H340.1V645.0H341.4V645.0H342.7V644.9H344.0V644.8H345.3V644.8H346.6V644.7H347.9V644.5H349.2V644.3H350.5V644.1H351.8V643.8H353.1V643.5H354.4V642.9H355.7V642.6H357.0V641.7H358.3V641.4H359.6V640.9H360.9V640.4H362.2V639.8H363.5V640.1H364.8V641.2H366.1V641.5H367.4V642.2H368.7V642.7H370.0V643.4H371.3V643.7H372.6V644.0H373.9V644.3H375.2V644.5H376.5V644.7H377.8V644.8H379.1V644.8H380.4V644.9H381.7V645.0H383.0V645.0H384.3V645.0H385.6V645.1H386.9V645.1H388.2V645.1H389.5V645.1H390.8V645.1H392.1V645.1H393.4V645.0H394.7V645.1H396.0V645.1H397.3V645.1H398.6V645.1H399.9V645.1H401.2V645.0H402.5V645.1H403.8V645.1H405.1V645.1H406.4V645.1H407.7V645.1H409.0V645.1H410.3V645.1H411.6V645.1H412.9V645.1H414.2V645.0H415.5V645.1H416.8V645.1H418.1V645.1H419.4V645.1H420.7V645.1H422.0V645.1H423.3V645.1H424.6V645.1H425.9V645.1H427.2V645.1H428.5V645.1H429.8V645.1H431.1V645.1H432.4V645.1H433.7V645.1H435.0V645.1H436.3V645.1H437.6V645.1H438.9V645.1H440.2V645.0H441.5V645.1H442.8V645.1H444.1V645.1H445.4V645.1H446.7V645.0H448.0V645.1H449.3V645.1H450.6V645.1H451.9V645.0H453.2V645.1H454.5V645.1H455.8V645.1H457.1V645.1H458.4V645.1H459.7V645.1H461.0V645.0H462.3V645.1H463.0V645.1Z" fill="#bfbb00"/>
<text x="255.00" y="639.11" font-size="5.6" fill="#333">0–96</text>
<line x1="252.50" y1="647.20" x2="463.50" y2="647.20" stroke="#dadada" stroke-width="0.8"/>
<line x1="252.50" y1="649.20" x2="463.50" y2="649.20" stroke="#dadada" stroke-width="0.8"/>
<rect x="253.00" y="659.50" width="210.00" height="10.00" fill="#fdfdfd"/>
<rect x="334.40" y="677.60" width="45.40" height="11.20" fill="#fefefe"/>
<rect x="335.90" y="672.90" width="42.40" height="4.70" fill="#ff0a0a"/>
<text x="357.40" y="685.86" font-size="6.0" text-anchor="middle" fill="#555">merg_peak 1367</text>
<text x="254.70" y="693.36" font-size="9.6" font-style="italic" fill="#111">Rbfa</text>
<line x1="252.50" y1="587.50" x2="463.50" y2="587.50" stroke="#111" stroke-width="1.0"/>
<line x1="252.50" y1="698.30" x2="463.50" y2="698.30" stroke="#111" stroke-width="1.0"/>
<line x1="252.50" y1="587.50" x2="252.50" y2="698.30" stroke="#333" stroke-width="1.0"/>
<line x1="463.50" y1="587.50" x2="463.50" y2="698.30" stroke="#666" stroke-width="1.2"/>
<text x="463.50" y="706.06" font-size="8.5" text-anchor="end" textLength="116.4" lengthAdjust="spacingAndGlyphs" fill="#222">Chr18:80,198,350–80,202,850</text>
<rect x="467.50" y="587.50" width="210.50" height="110.80" fill="#f9f9f9"/>
<line x1="467.50" y1="599.60" x2="678.00" y2="599.60" stroke="#a8d0da" stroke-width="1.0"/>
<path d="M468.0,599.1V598.7H469.3V598.4H470.6V598.4H471.9V598.4H473.2V598.5H474.5V598.6H475.8V598.5H477.1V598.7H478.4V598.9H479.7V598.8H481.0V599.0H482.3V599.0H483.6V599.1H484.9V599.1H486.2V599.1H487.5V599.1H488.8V599.0H490.1V599.1H491.4V599.1H492.7V599.1H494.0V599.1H495.3V599.1H496.6V599.1H497.9V599.1H499.2V599.1H500.5V599.1H501.8V598.9H503.1V599.0H504.4V599.1H505.7V599.1H507.0V599.1H508.3V599.1H509.6V599.1H510.9V599.1H512.2V599.1H513.5V599.1H514.8V599.1H516.1V599.1H517.4V599.1H518.7V599.0H520.0V599.1H521.3V599.1H522.6V599.0H523.9V599.1H525.2V599.0H526.5V599.0H527.8V598.7H529.1V598.8H530.4V598.6H531.7V598.7H533.0V598.5H534.3V598.5H535.6V598.5H536.9V598.5H538.2V598.5H539.5V598.5H540.8V598.5H542.1V598.4H543.4V598.3H544.7V598.2H546.0V597.7H547.3V597.6H548.6V597.4H549.9V596.4H551.2V596.1H552.5V596.0H553.8V595.9H555.1V595.5H556.4V595.4H557.7V593.8H559.0V594.5H560.3V594.0H561.6V593.3H562.9V594.3H564.2V593.7H565.5V590.8H566.8V590.6H568.1V588.9H569.4V589.2H570.7V588.8H572.0V587.1H573.3V588.4H574.6V590.0H575.9V587.2H577.2V590.8H578.5V590.2H579.8V590.4H581.1V592.2H582.4V593.1H583.7V594.5H585.0V595.8H586.3V595.7H587.6V596.0H588.9V596.5H590.2V597.5H591.5V597.6H592.8V597.9H594.1V597.9H595.4V598.3H596.7V598.5H598.0V598.5H599.3V598.7H600.6V598.6H601.9V598.8H603.2V599.0H604.5V598.9H605.8V598.9H607.1V599.0H608.4V599.1H609.7V599.1H611.0V599.1H612.3V599.1H613.6V599.1H614.9V599.1H616.2V599.1H617.5V599.0H618.8V599.1H620.1V599.1H621.4V599.1H622.7V599.1H624.0V599.1H625.3V599.1H626.6V599.1H627.9V599.1H629.2V599.0H630.5V599.1H631.8V599.0H633.1V599.1H634.4V599.1H635.7V599.1H637.0V599.1H638.3V599.0H639.6V599.1H640.9V598.9H642.2V599.1H643.5V599.0H644.8V599.1H646.1V599.0H647.4V599.0H648.7V599.0H650.0V599.0H651.3V599.1H652.6V599.0H653.9V599.1H655.2V599.1H656.5V599.1H657.8V599.0H659.1V599.1H660.4V599.1H661.7V599.1H663.0V599.1H664.3V599.1H665.6V599.1H666.9V599.1H668.2V599.1H669.5V599.0H670.8V599.1H672.1V599.1H673.4V599.1H674.7V599.1H676.0V599.0H677.3V599.1H677.5V599.1Z" fill="#137b95"/>
<text x="470.00" y="593.12" font-size="5.6" fill="#333">0–59</text>
<line x1="467.50" y1="614.93" x2="678.00" y2="614.93" stroke="#e6e2a0" stroke-width="1.0"/>
<path d="M468.0,614.4V614.4H469.3V614.4H470.6V614.4H471.9V614.4H473.2V614.4H474.5V614.4H475.8V614.4H477.1V614.4H478.4V614.4H479.7V614.4H481.0V614.4H482.3V614.4H483.6V614.4H484.9V614.4H486.2V614.4H487.5V614.4H488.8V614.4H490.1V614.4H491.4V614.4H492.7V614.4H494.0V614.4H495.3V614.4H496.6V614.4H497.9V614.4H499.2V614.3H500.5V614.4H501.8V614.4H503.1V614.4H504.4V614.4H505.7V614.4H507.0V614.4H508.3V614.4H509.6V614.4H510.9V614.4H512.2V614.4H513.5V614.4H514.8V614.4H516.1V614.4H517.4V614.4H518.7V614.4H520.0V614.4H521.3V614.4H522.6V614.4H523.9V614.4H525.2V614.4H526.5V614.4H527.8V614.4H529.1V614.3H530.4V614.4H531.7V614.3H533.0V614.4H534.3V614.4H535.6V614.4H536.9V614.4H538.2V614.4H539.5V614.4H540.8V614.4H542.1V614.4H543.4V614.4H544.7V614.3H546.0V614.4H547.3V614.3H548.6V614.2H549.9V614.2H551.2V614.0H552.5V614.0H553.8V613.8H555.1V613.7H556.4V613.5H557.7V613.5H559.0V613.1H560.3V612.8H561.6V612.7H562.9V612.7H564.2V612.6H565.5V612.0H566.8V612.0H568.1V611.9H569.4V612.0H570.7V611.8H572.0V611.7H573.3V612.1H574.6V612.0H575.9V612.3H577.2V612.6H578.5V612.6H579.8V612.8H581.1V613.1H582.4V613.3H583.7V613.6H585.0V613.7H586.3V614.0H587.6V613.9H588.9V614.1H590.2V614.2H591.5V614.3H592.8V614.3H594.1V614.4H595.4V614.4H596.7V614.4H598.0V614.4H599.3V614.4H600.6V614.4H601.9V614.4H603.2V614.4H604.5V614.4H605.8V614.4H607.1V614.4H608.4V614.4H609.7V614.3H611.0V614.4H612.3V614.4H613.6V614.4H614.9V614.4H616.2V614.4H617.5V614.4H618.8V614.4H620.1V614.4H621.4V614.3H622.7V614.4H624.0V614.4H625.3V614.4H626.6V614.4H627.9V614.4H629.2V614.4H630.5V614.4H631.8V614.4H633.1V614.4H634.4V614.4H635.7V614.4H637.0V614.4H638.3V614.4H639.6V614.4H640.9V614.4H642.2V614.4H643.5V614.4H644.8V614.4H646.1V614.4H647.4V614.3H648.7V614.4H650.0V614.4H651.3V614.4H652.6V614.4H653.9V614.4H655.2V614.4H656.5V614.4H657.8V614.4H659.1V614.4H660.4V614.4H661.7V614.4H663.0V614.4H664.3V614.4H665.6V614.4H666.9V614.4H668.2V614.4H669.5V614.3H670.8V614.4H672.1V614.4H673.4V614.4H674.7V614.4H676.0V614.4H677.3V614.4H677.5V614.4Z" fill="#bfbb00"/>
<text x="470.00" y="608.45" font-size="5.6" fill="#333">0–59</text>
<line x1="467.50" y1="630.26" x2="678.00" y2="630.26" stroke="#86bccb" stroke-width="1.0"/>
<path d="M468.0,629.8V629.8H469.3V629.8H470.6V629.8H471.9V629.8H473.2V629.8H474.5V629.7H475.8V629.6H477.1V629.6H478.4V629.8H479.7V629.7H481.0V629.7H482.3V629.8H483.6V629.7H484.9V629.8H486.2V629.8H487.5V629.8H488.8V629.8H490.1V629.8H491.4V629.8H492.7V629.7H494.0V629.7H495.3V629.7H496.6V629.8H497.9V629.8H499.2V629.8H500.5V629.8H501.8V629.8H503.1V629.8H504.4V629.8H505.7V629.8H507.0V629.8H508.3V629.8H509.6V629.6H510.9V629.8H512.2V629.7H513.5V629.7H514.8V629.7H516.1V629.5H517.4V629.7H518.7V629.6H520.0V629.4H521.3V629.3H522.6V629.4H523.9V629.2H525.2V628.9H526.5V628.8H527.8V628.9H529.1V628.6H530.4V628.4H531.7V628.4H533.0V628.6H534.3V628.4H535.6V628.3H536.9V628.4H538.2V628.3H539.5V628.1H540.8V628.0H542.1V627.3H543.4V627.3H544.7V627.2H546.0V627.4H547.3V627.3H548.6V626.9H549.9V626.7H551.2V626.2H552.5V626.2H553.8V626.4H555.1V626.0H556.4V624.9H557.7V625.8H559.0V625.1H560.3V624.3H561.6V623.2H562.9V622.7H564.2V623.6H565.5V623.1H566.8V620.4H568.1V621.6H569.4V619.0H570.7V619.3H572.0V619.0H573.3V620.6H574.6V618.6H575.9V619.1H577.2V622.3H578.5V619.7H579.8V621.0H581.1V620.8H582.4V621.9H583.7V622.4H585.0V623.8H586.3V623.4H587.6V625.2H588.9V625.6H590.2V626.2H591.5V625.8H592.8V627.2H594.1V627.8H595.4V628.3H596.7V628.2H598.0V628.7H599.3V629.2H600.6V629.1H601.9V629.3H603.2V629.4H604.5V629.6H605.8V629.6H607.1V629.7H608.4V629.7H609.7V629.7H611.0V629.7H612.3V629.7H613.6V629.8H614.9V629.7H616.2V629.8H617.5V629.7H618.8V629.7H620.1V629.7H621.4V629.8H622.7V629.7H624.0V629.8H625.3V629.8H626.6V629.6H627.9V629.8H629.2V629.6H630.5V629.8H631.8V629.8H633.1V629.6H634.4V629.8H635.7V629.8H637.0V629.8H638.3V629.7H639.6V629.8H640.9V629.7H642.2V629.8H643.5V629.8H644.8V629.8H646.1V629.8H647.4V629.8H648.7V629.8H650.0V629.8H651.3V629.8H652.6V629.7H653.9V629.8H655.2V629.8H656.5V629.8H657.8V629.7H659.1V629.8H660.4V629.8H661.7V629.7H663.0V629.8H664.3V629.7H665.6V629.6H666.9V629.6H668.2V629.8H669.5V629.8H670.8V629.7H672.1V629.8H673.4V629.7H674.7V629.7H676.0V629.8H677.3V629.8H677.5V629.8Z" fill="#137b95"/>
<text x="470.00" y="623.78" font-size="5.6" fill="#333">0–85</text>
<line x1="467.50" y1="645.59" x2="678.00" y2="645.59" stroke="#d8d460" stroke-width="1.0"/>
<path d="M468.0,645.1V645.1H469.3V645.1H470.6V645.0H471.9V645.1H473.2V645.0H474.5V644.9H475.8V645.1H477.1V645.1H478.4V645.0H479.7V645.1H481.0V645.1H482.3V645.1H483.6V645.1H484.9V645.1H486.2V645.1H487.5V645.1H488.8V645.0H490.1V645.1H491.4V645.1H492.7V645.1H494.0V645.1H495.3V645.1H496.6V645.1H497.9V645.0H499.2V645.1H500.5V645.1H501.8V645.0H503.1V645.1H504.4V645.0H505.7V645.1H507.0V645.1H508.3V645.1H509.6V645.1H510.9V645.1H512.2V645.1H513.5V645.1H514.8V645.1H516.1V644.9H517.4V645.1H518.7V645.1H520.0V645.1H521.3V645.1H522.6V645.1H523.9V645.1H525.2V645.1H526.5V645.0H527.8V645.0H529.1V645.1H530.4V645.1H531.7V645.1H533.0V645.0H534.3V645.1H535.6V645.0H536.9V645.0H538.2V645.0H539.5V645.0H540.8V645.0H542.1V644.9H543.4V644.9H544.7V644.8H546.0V644.6H547.3V644.8H548.6V644.6H549.9V644.6H551.2V644.4H552.5V644.3H553.8V644.3H555.1V644.3H556.4V643.7H557.7V644.0H559.0V643.9H560.3V643.3H561.6V642.7H562.9V643.0H564.2V642.4H565.5V642.7H566.8V642.2H568.1V641.7H569.4V641.1H570.7V640.6H572.0V639.9H573.3V641.0H574.6V640.4H575.9V639.2H577.2V639.9H578.5V639.8H579.8V640.5H581.1V640.4H582.4V640.9H583.7V641.5H585.0V641.7H586.3V641.0H587.6V642.2H588.9V642.0H590.2V642.7H591.5V642.0H592.8V642.9H594.1V642.7H595.4V642.6H596.7V643.0H598.0V642.9H599.3V642.6H600.6V643.0H601.9V643.1H603.2V642.9H604.5V643.0H605.8V643.2H607.1V643.6H608.4V643.6H609.7V643.3H611.0V643.8H612.3V643.8H613.6V643.8H614.9V643.9H616.2V644.2H617.5V644.3H618.8V644.4H620.1V644.5H621.4V644.6H622.7V644.6H624.0V644.7H625.3V644.8H626.6V644.8H627.9V644.9H629.2V645.0H630.5V645.0H631.8V645.0H633.1V645.0H634.4V645.1H635.7V645.1H637.0V645.0H638.3V645.0H639.6V645.1H640.9V645.1H642.2V645.1H643.5V645.0H644.8V645.1H646.1V645.1H647.4V645.0H648.7V645.0H650.0V645.0H651.3V645.1H652.6V645.1H653.9V645.1H655.2V645.1H656.5V645.1H657.8V645.1H659.1V645.1H660.4V645.1H661.7V645.1H663.0V645.1H664.3V645.1H665.6V645.1H666.9V645.1H668.2V645.1H669.5V645.1H670.8V645.1H672.1V645.1H673.4V644.9H674.7V644.9H676.0V645.1H677.3V645.0H677.5V645.1Z" fill="#bfbb00"/>
<text x="470.00" y="639.11" font-size="5.6" fill="#333">0–85</text>
<line x1="467.50" y1="647.20" x2="678.00" y2="647.20" stroke="#dadada" stroke-width="0.8"/>
<line x1="467.50" y1="649.20" x2="678.00" y2="649.20" stroke="#dadada" stroke-width="0.8"/>
<rect x="468.00" y="659.50" width="209.50" height="10.00" fill="#fdfdfd"/>
<rect x="520.90" y="677.60" width="77.90" height="11.20" fill="#fefefe"/>
<rect x="522.40" y="672.90" width="74.90" height="4.70" fill="#ff0a0a"/>
<text x="563.50" y="685.86" font-size="6.0" text-anchor="middle" fill="#555">merg_peak 262</text>
<text x="469.70" y="693.36" font-size="9.6" font-style="italic" fill="#111">Mrpl12</text>
<line x1="467.50" y1="587.50" x2="678.00" y2="587.50" stroke="#111" stroke-width="1.0"/>
<line x1="467.50" y1="698.30" x2="678.00" y2="698.30" stroke="#111" stroke-width="1.0"/>
<line x1="467.50" y1="587.50" x2="467.50" y2="698.30" stroke="#333" stroke-width="1.0"/>
<line x1="678.00" y1="587.50" x2="678.00" y2="698.30" stroke="#666" stroke-width="1.2"/>
<text x="678.00" y="706.06" font-size="8.5" text-anchor="end" textLength="123.7" lengthAdjust="spacingAndGlyphs" fill="#222">Chr11:120,483,050–120,486,080</text>
<text x="33.00" y="722.21" font-size="9.2" text-anchor="end" fill="#222">ctr (1)</text>
<text x="33.00" y="737.06" font-size="9.2" text-anchor="end" fill="#222">C26 (1)</text>
<text x="33.00" y="751.91" font-size="9.2" text-anchor="end" fill="#222">ctr (2)</text>
<text x="33.00" y="766.76" font-size="9.2" text-anchor="end" fill="#222">C26 (2)</text>
<rect x="38.40" y="710.50" width="210.10" height="110.80" fill="#f9f9f9"/>
<line x1="38.40" y1="722.60" x2="248.50" y2="722.60" stroke="#a8d0da" stroke-width="1.0"/>
<path d="M38.9,722.1V722.1H40.2V722.1H41.5V722.1H42.8V722.1H44.1V722.1H45.4V722.1H46.7V722.0H48.0V722.1H49.3V722.0H50.6V722.0H51.9V722.1H53.2V722.0H54.5V722.1H55.8V722.1H57.1V722.1H58.4V722.1H59.7V722.1H61.0V722.1H62.3V722.1H63.6V722.1H64.9V722.1H66.2V722.1H67.5V722.1H68.8V722.1H70.1V722.1H71.4V722.1H72.7V722.1H74.0V722.1H75.3V722.1H76.6V722.1H77.9V722.1H79.2V722.1H80.5V722.1H81.8V722.1H83.1V722.1H84.4V722.1H85.7V722.1H87.0V722.1H88.3V722.1H89.6V722.1H90.9V722.1H92.2V722.1H93.5V722.1H94.8V722.1H96.1V722.1H97.4V722.1H98.7V722.1H100.0V722.1H101.3V722.1H102.6V722.1H103.9V722.1H105.2V722.1H106.5V722.1H107.8V722.1H109.1V722.0H110.4V722.1H111.7V722.1H113.0V722.1H114.3V722.1H115.6V722.1H116.9V722.0H118.2V722.1H119.5V722.1H120.8V722.0H122.1V722.0H123.4V722.0H124.7V721.8H126.0V721.7H127.3V721.6H128.6V721.4H129.9V721.1H131.2V720.7H132.5V720.2H133.8V719.8H135.1V719.0H136.4V718.4H137.7V716.9H139.0V716.0H140.3V715.1H141.6V712.7H142.9V711.7H144.2V710.1H145.5V710.6H146.8V712.8H148.1V714.1H149.4V714.4H150.7V716.4H152.0V717.6H153.3V718.1H154.6V719.1H155.9V720.0H157.2V720.4H158.5V720.9H159.8V721.1H161.1V721.4H162.4V721.6H163.7V721.7H165.0V721.9H166.3V722.0H167.6V722.0H168.9V722.0H170.2V722.0H171.5V722.1H172.8V722.1H174.1V722.1H175.4V722.1H176.7V722.1H178.0V722.0H179.3V722.1H180.6V722.1H181.9V722.1H183.2V722.1H184.5V722.1H185.8V722.1H187.1V722.0H188.4V722.1H189.7V722.1H191.0V722.1H192.3V722.1H193.6V722.1H194.9V722.1H196.2V722.1H197.5V722.1H198.8V722.0H200.1V722.1H201.4V722.1H202.7V722.1H204.0V722.1H205.3V722.1H206.6V722.1H207.9V722.1H209.2V722.1H210.5V722.1H211.8V722.1H213.1V722.1H214.4V722.1H215.7V722.0H217.0V722.1H218.3V722.1H219.6V722.1H220.9V722.1H222.2V722.1H223.5V722.1H224.8V722.1H226.1V722.1H227.4V722.1H228.7V722.1H230.0V722.0H231.3V722.1H232.6V722.1H233.9V722.1H235.2V722.1H236.5V722.1H237.8V722.1H239.1V722.1H240.4V722.1H241.7V722.0H243.0V722.1H244.3V722.1H245.6V722.1H246.9V722.1H248.0V722.1Z" fill="#137b95"/>
<text x="40.90" y="716.12" font-size="5.6" fill="#333">0–99</text>
<line x1="38.40" y1="737.93" x2="248.50" y2="737.93" stroke="#e6e2a0" stroke-width="1.0"/>
<path d="M38.9,737.4V737.4H40.2V737.4H41.5V737.4H42.8V737.4H44.1V737.4H45.4V737.4H46.7V737.4H48.0V737.4H49.3V737.4H50.6V737.4H51.9V737.4H53.2V737.4H54.5V737.4H55.8V737.4H57.1V737.4H58.4V737.4H59.7V737.4H61.0V737.4H62.3V737.4H63.6V737.4H64.9V737.4H66.2V737.4H67.5V737.4H68.8V737.4H70.1V737.4H71.4V737.4H72.7V737.4H74.0V737.4H75.3V737.4H76.6V737.4H77.9V737.4H79.2V737.4H80.5V737.4H81.8V737.4H83.1V737.4H84.4V737.4H85.7V737.4H87.0V737.4H88.3V737.4H89.6V737.4H90.9V737.4H92.2V737.4H93.5V737.4H94.8V737.4H96.1V737.4H97.4V737.4H98.7V737.4H100.0V737.4H101.3V737.4H102.6V737.4H103.9V737.4H105.2V737.4H106.5V737.4H107.8V737.4H109.1V737.4H110.4V737.4H111.7V737.4H113.0V737.4H114.3V737.4H115.6V737.4H116.9V737.4H118.2V737.4H119.5V737.4H120.8V737.4H122.1V737.4H123.4V737.4H124.7V737.4H126.0V737.4H127.3V737.4H128.6V737.4H129.9V737.4H131.2V737.3H132.5V737.2H133.8V737.1H135.1V736.9H136.4V736.6H137.7V736.3H139.0V736.0H140.3V735.6H141.6V735.2H142.9V735.1H144.2V734.8H145.5V735.0H146.8V735.1H148.1V735.3H149.4V735.7H150.7V736.0H152.0V736.3H153.3V736.7H154.6V736.9H155.9V737.1H157.2V737.2H158.5V737.3H159.8V737.4H161.1V737.4H162.4V737.4H163.7V737.4H165.0V737.4H166.3V737.4H167.6V737.4H168.9V737.4H170.2V737.4H171.5V737.4H172.8V737.4H174.1V737.4H175.4V737.4H176.7V737.4H178.0V737.4H179.3V737.4H180.6V737.4H181.9V737.4H183.2V737.4H184.5V737.4H185.8V737.4H187.1V737.4H188.4V737.4H189.7V737.4H191.0V737.4H192.3V737.4H193.6V737.4H194.9V737.4H196.2V737.4H197.5V737.4H198.8V737.4H200.1V737.4H201.4V737.4H202.7V737.4H204.0V737.4H205.3V737.4H206.6V737.4H207.9V737.4H209.2V737.4H210.5V737.4H211.8V737.4H213.1V737.4H214.4V737.4H215.7V737.4H217.0V737.4H218.3V737.4H219.6V737.4H220.9V737.4H222.2V737.4H223.5V737.4H224.8V737.4H226.1V737.4H227.4V737.4H228.7V737.4H230.0V737.4H231.3V737.4H232.6V737.4H233.9V737.4H235.2V737.4H236.5V737.4H237.8V737.4H239.1V737.4H240.4V737.4H241.7V737.4H243.0V737.4H244.3V737.4H245.6V737.4H246.9V737.4H248.0V737.4Z" fill="#bfbb00"/>
<text x="40.90" y="731.45" font-size="5.6" fill="#333">0–99</text>
<line x1="38.40" y1="753.26" x2="248.50" y2="753.26" stroke="#86bccb" stroke-width="1.0"/>
<path d="M38.9,752.8V752.7H40.2V752.7H41.5V752.8H42.8V752.7H44.1V752.8H45.4V752.8H46.7V752.8H48.0V752.8H49.3V752.7H50.6V752.8H51.9V752.7H53.2V752.7H54.5V752.8H55.8V752.7H57.1V752.7H58.4V752.7H59.7V752.8H61.0V752.8H62.3V752.8H63.6V752.8H64.9V752.8H66.2V752.7H67.5V752.7H68.8V752.8H70.1V752.8H71.4V752.7H72.7V752.7H74.0V752.8H75.3V752.8H76.6V752.8H77.9V752.8H79.2V752.8H80.5V752.8H81.8V752.8H83.1V752.7H84.4V752.8H85.7V752.8H87.0V752.8H88.3V752.7H89.6V752.8H90.9V752.8H92.2V752.8H93.5V752.8H94.8V752.8H96.1V752.7H97.4V752.8H98.7V752.7H100.0V752.8H101.3V752.8H102.6V752.8H103.9V752.8H105.2V752.7H106.5V752.8H107.8V752.8H109.1V752.8H110.4V752.8H111.7V752.8H113.0V752.7H114.3V752.7H115.6V752.7H116.9V752.7H118.2V752.7H119.5V752.7H120.8V752.6H122.1V752.5H123.4V752.4H124.7V752.4H126.0V752.2H127.3V752.1H128.6V751.8H129.9V751.5H131.2V751.1H132.5V750.7H133.8V750.1H135.1V749.5H136.4V748.3H137.7V746.9H139.0V746.6H140.3V745.6H141.6V744.2H142.9V743.3H144.2V741.3H145.5V741.8H146.8V743.6H148.1V743.8H149.4V744.7H150.7V746.0H152.0V747.8H153.3V748.9H154.6V749.6H155.9V750.2H157.2V750.9H158.5V751.3H159.8V751.6H161.1V751.9H162.4V752.1H163.7V752.3H165.0V752.4H166.3V752.5H167.6V752.6H168.9V752.6H170.2V752.7H171.5V752.7H172.8V752.7H174.1V752.7H175.4V752.7H176.7V752.7H178.0V752.8H179.3V752.8H180.6V752.8H181.9V752.7H183.2V752.8H184.5V752.8H185.8V752.8H187.1V752.8H188.4V752.8H189.7V752.7H191.0V752.8H192.3V752.8H193.6V752.7H194.9V752.7H196.2V752.8H197.5V752.7H198.8V752.8H200.1V752.8H201.4V752.8H202.7V752.8H204.0V752.8H205.3V752.8H206.6V752.8H207.9V752.8H209.2V752.7H210.5V752.8H211.8V752.8H213.1V752.8H214.4V752.8H215.7V752.8H217.0V752.8H218.3V752.8H219.6V752.7H220.9V752.8H222.2V752.8H223.5V752.8H224.8V752.7H226.1V752.8H227.4V752.7H228.7V752.7H230.0V752.7H231.3V752.8H232.6V752.8H233.9V752.7H235.2V752.8H236.5V752.7H237.8V752.8H239.1V752.8H240.4V752.8H241.7V752.8H243.0V752.8H244.3V752.8H245.6V752.8H246.9V752.8H248.0V752.8Z" fill="#137b95"/>
<text x="40.90" y="746.78" font-size="5.6" fill="#333">0–105</text>
<line x1="38.40" y1="768.59" x2="248.50" y2="768.59" stroke="#d8d460" stroke-width="1.0"/>
<path d="M38.9,768.1V768.1H40.2V768.1H41.5V768.1H42.8V768.1H44.1V768.1H45.4V768.1H46.7V768.1H48.0V768.1H49.3V768.1H50.6V768.1H51.9V768.1H53.2V768.1H54.5V768.1H55.8V768.1H57.1V768.1H58.4V768.1H59.7V768.1H61.0V768.1H62.3V768.1H63.6V768.1H64.9V768.1H66.2V768.1H67.5V768.1H68.8V768.1H70.1V768.1H71.4V768.1H72.7V768.1H74.0V768.0H75.3V768.1H76.6V768.1H77.9V768.1H79.2V768.1H80.5V768.1H81.8V768.1H83.1V768.1H84.4V768.1H85.7V768.1H87.0V768.1H88.3V768.1H89.6V768.1H90.9V768.1H92.2V768.1H93.5V768.1H94.8V768.1H96.1V768.1H97.4V768.1H98.7V768.1H100.0V768.1H101.3V768.1H102.6V768.1H103.9V768.0H105.2V768.1H106.5V768.0H107.8V768.1H109.1V768.1H110.4V768.1H111.7V768.1H113.0V768.1H114.3V768.1H115.6V768.1H116.9V768.1H118.2V768.1H119.5V768.1H120.8V768.1H122.1V768.1H123.4V768.1H124.7V768.1H126.0V768.0H127.3V768.0H128.6V768.0H129.9V767.9H131.2V767.8H132.5V767.6H133.8V767.4H135.1V766.9H136.4V766.6H137.7V766.3H139.0V765.7H140.3V765.0H141.6V764.6H142.9V764.3H144.2V764.2H145.5V764.1H146.8V764.2H148.1V764.8H149.4V765.4H150.7V765.7H152.0V766.1H153.3V766.7H154.6V767.1H155.9V767.4H157.2V767.6H158.5V767.8H159.8V767.9H161.1V768.0H162.4V768.0H163.7V768.1H165.0V768.1H166.3V768.1H167.6V768.1H168.9V768.1H170.2V768.0H171.5V768.1H172.8V768.1H174.1V768.1H175.4V768.1H176.7V768.1H178.0V768.1H179.3V768.1H180.6V768.1H181.9V768.1H183.2V768.1H184.5V768.1H185.8V768.1H187.1V768.1H188.4V768.1H189.7V768.1H191.0V768.1H192.3V768.1H193.6V768.1H194.9V768.1H196.2V768.1H197.5V768.1H198.8V768.1H200.1V768.1H201.4V768.1H202.7V768.1H204.0V768.1H205.3V768.1H206.6V768.1H207.9V768.1H209.2V768.1H210.5V768.1H211.8V768.1H213.1V768.1H214.4V768.1H215.7V768.0H217.0V768.1H218.3V768.1H219.6V768.1H220.9V768.1H222.2V768.1H223.5V768.1H224.8V768.1H226.1V768.1H227.4V768.1H228.7V768.1H230.0V768.0H231.3V768.1H232.6V768.1H233.9V768.1H235.2V768.1H236.5V768.1H237.8V768.1H239.1V768.1H240.4V768.1H241.7V768.1H243.0V768.1H244.3V768.1H245.6V768.1H246.9V768.1H248.0V768.1Z" fill="#bfbb00"/>
<text x="40.90" y="762.11" font-size="5.6" fill="#333">0–105</text>
<line x1="38.40" y1="770.20" x2="248.50" y2="770.20" stroke="#dadada" stroke-width="0.8"/>
<line x1="38.40" y1="772.20" x2="248.50" y2="772.20" stroke="#dadada" stroke-width="0.8"/>
<rect x="38.90" y="782.50" width="209.10" height="10.00" fill="#fdfdfd"/>
<rect x="123.30" y="800.60" width="45.40" height="11.20" fill="#fefefe"/>
<rect x="124.80" y="795.90" width="42.40" height="4.70" fill="#ff0a0a"/>
<text x="146.00" y="808.86" font-size="6.0" text-anchor="middle" fill="#555">merg_peak 246</text>
<text x="40.60" y="816.36" font-size="9.6" font-style="italic" fill="#111">Ndufv1</text>
<line x1="38.40" y1="710.50" x2="248.50" y2="710.50" stroke="#111" stroke-width="1.0"/>
<line x1="38.40" y1="821.30" x2="248.50" y2="821.30" stroke="#111" stroke-width="1.0"/>
<line x1="38.40" y1="710.50" x2="38.40" y2="821.30" stroke="#333" stroke-width="1.0"/>
<line x1="248.50" y1="710.50" x2="248.50" y2="821.30" stroke="#666" stroke-width="1.2"/>
<text x="248.50" y="829.06" font-size="8.5" text-anchor="end" textLength="106.2" lengthAdjust="spacingAndGlyphs" fill="#222">Chr19:4,010,350–4,014,900</text>
<rect x="252.50" y="710.50" width="211.00" height="110.80" fill="#f9f9f9"/>
<line x1="252.50" y1="722.60" x2="463.50" y2="722.60" stroke="#a8d0da" stroke-width="1.0"/>
<path d="M253.0,722.1V722.0H254.3V722.1H255.6V722.1H256.9V722.1H258.2V722.0H259.5V722.1H260.8V722.1H262.1V722.1H263.4V722.1H264.7V722.1H266.0V722.1H267.3V722.1H268.6V722.0H269.9V722.1H271.2V722.1H272.5V722.1H273.8V722.1H275.1V722.1H276.4V722.1H277.7V722.1H279.0V722.1H280.3V722.1H281.6V722.1H282.9V722.1H284.2V722.1H285.5V722.1H286.8V722.1H288.1V722.1H289.4V722.1H290.7V722.1H292.0V722.0H293.3V722.1H294.6V722.1H295.9V722.0H297.2V722.1H298.5V722.0H299.8V722.1H301.1V722.0H302.4V722.1H303.7V722.1H305.0V722.1H306.3V722.1H307.6V722.1H308.9V722.1H310.2V722.1H311.5V722.1H312.8V722.1H314.1V722.1H315.4V722.1H316.7V722.0H318.0V722.1H319.3V722.1H320.6V722.0H321.9V722.0H323.2V722.1H324.5V722.0H325.8V722.1H327.1V722.1H328.4V722.1H329.7V722.1H331.0V722.1H332.3V722.1H333.6V722.1H334.9V722.1H336.2V722.1H337.5V722.0H338.8V722.0H340.1V721.9H341.4V721.8H342.7V721.7H344.0V721.7H345.3V721.3H346.6V721.0H347.9V720.6H349.2V720.3H350.5V719.6H351.8V719.0H353.1V717.5H354.4V716.4H355.7V714.8H357.0V713.7H358.3V711.9H359.6V710.1H360.9V710.1H362.2V710.1H363.5V710.7H364.8V711.2H366.1V711.4H367.4V714.0H368.7V714.7H370.0V715.2H371.3V716.8H372.6V718.1H373.9V718.9H375.2V719.6H376.5V720.1H377.8V720.8H379.1V721.2H380.4V721.4H381.7V721.6H383.0V721.7H384.3V721.8H385.6V722.0H386.9V722.0H388.2V722.0H389.5V722.0H390.8V722.1H392.1V722.1H393.4V722.1H394.7V722.1H396.0V722.1H397.3V722.1H398.6V722.1H399.9V722.1H401.2V722.1H402.5V722.1H403.8V722.1H405.1V722.1H406.4V722.1H407.7V722.1H409.0V722.1H410.3V722.1H411.6V722.1H412.9V722.1H414.2V722.1H415.5V722.0H416.8V722.0H418.1V722.1H419.4V722.1H420.7V722.1H422.0V722.0H423.3V722.1H424.6V722.1H425.9V722.1H427.2V722.1H428.5V722.1H429.8V722.1H431.1V722.0H432.4V722.1H433.7V722.1H435.0V722.1H436.3V722.1H437.6V722.1H438.9V722.1H440.2V722.1H441.5V722.1H442.8V722.1H444.1V722.1H445.4V722.1H446.7V722.1H448.0V722.0H449.3V722.1H450.6V722.1H451.9V722.1H453.2V722.0H454.5V722.1H455.8V722.1H457.1V722.1H458.4V722.1H459.7V722.1H461.0V722.0H462.3V722.1H463.0V722.1Z" fill="#137b95"/>
<text x="255.00" y="716.12" font-size="5.6" fill="#333">0–96</text>
<line x1="252.50" y1="737.93" x2="463.50" y2="737.93" stroke="#e6e2a0" stroke-width="1.0"/>
<path d="M253.0,737.4V737.4H254.3V737.4H255.6V737.4H256.9V737.4H258.2V737.4H259.5V737.4H260.8V737.4H262.1V737.4H263.4V737.4H264.7V737.4H266.0V737.4H267.3V737.4H268.6V737.4H269.9V737.4H271.2V737.4H272.5V737.4H273.8V737.4H275.1V737.4H276.4V737.4H277.7V737.4H279.0V737.4H280.3V737.4H281.6V737.4H282.9V737.4H284.2V737.4H285.5V737.4H286.8V737.4H288.1V737.4H289.4V737.4H290.7V737.4H292.0V737.4H293.3V737.4H294.6V737.4H295.9V737.4H297.2V737.4H298.5V737.4H299.8V737.4H301.1V737.4H302.4V737.4H303.7V737.4H305.0V737.4H306.3V737.4H307.6V737.4H308.9V737.4H310.2V737.4H311.5V737.4H312.8V737.4H314.1V737.4H315.4V737.4H316.7V737.4H318.0V737.4H319.3V737.4H320.6V737.4H321.9V737.4H323.2V737.4H324.5V737.4H325.8V737.4H327.1V737.4H328.4V737.4H329.7V737.4H331.0V737.4H332.3V737.4H333.6V737.4H334.9V737.4H336.2V737.4H337.5V737.4H338.8V737.4H340.1V737.4H341.4V737.4H342.7V737.4H344.0V737.4H345.3V737.3H346.6V737.3H347.9V737.2H349.2V737.1H350.5V736.9H351.8V736.5H353.1V736.2H354.4V735.7H355.7V735.3H357.0V734.5H358.3V734.0H359.6V733.6H360.9V733.3H362.2V733.1H363.5V732.6H364.8V733.3H366.1V733.3H367.4V733.9H368.7V734.7H370.0V735.2H371.3V735.7H372.6V736.2H373.9V736.6H375.2V736.9H376.5V737.1H377.8V737.2H379.1V737.3H380.4V737.3H381.7V737.4H383.0V737.4H384.3V737.4H385.6V737.4H386.9V737.4H388.2V737.4H389.5V737.4H390.8V737.4H392.1V737.4H393.4V737.4H394.7V737.4H396.0V737.4H397.3V737.4H398.6V737.4H399.9V737.4H401.2V737.4H402.5V737.4H403.8V737.4H405.1V737.4H406.4V737.4H407.7V737.4H409.0V737.4H410.3V737.4H411.6V737.4H412.9V737.4H414.2V737.4H415.5V737.4H416.8V737.4H418.1V737.4H419.4V737.4H420.7V737.4H422.0V737.4H423.3V737.4H424.6V737.4H425.9V737.4H427.2V737.4H428.5V737.4H429.8V737.4H431.1V737.4H432.4V737.4H433.7V737.4H435.0V737.4H436.3V737.4H437.6V737.4H438.9V737.4H440.2V737.4H441.5V737.4H442.8V737.4H444.1V737.4H445.4V737.4H446.7V737.4H448.0V737.4H449.3V737.4H450.6V737.4H451.9V737.4H453.2V737.4H454.5V737.4H455.8V737.4H457.1V737.4H458.4V737.4H459.7V737.4H461.0V737.4H462.3V737.4H463.0V737.4Z" fill="#bfbb00"/>
<text x="255.00" y="731.45" font-size="5.6" fill="#333">0–96</text>
<line x1="252.50" y1="753.26" x2="463.50" y2="753.26" stroke="#86bccb" stroke-width="1.0"/>
<path d="M253.0,752.8V752.8H254.3V752.8H255.6V752.8H256.9V752.7H258.2V752.8H259.5V752.8H260.8V752.8H262.1V752.8H263.4V752.7H264.7V752.8H266.0V752.7H267.3V752.8H268.6V752.8H269.9V752.7H271.2V752.8H272.5V752.8H273.8V752.8H275.1V752.7H276.4V752.8H277.7V752.8H279.0V752.8H280.3V752.8H281.6V752.8H282.9V752.8H284.2V752.8H285.5V752.7H286.8V752.8H288.1V752.8H289.4V752.7H290.7V752.8H292.0V752.7H293.3V752.8H294.6V752.8H295.9V752.7H297.2V752.8H298.5V752.8H299.8V752.8H301.1V752.8H302.4V752.8H303.7V752.7H305.0V752.8H306.3V752.8H307.6V752.8H308.9V752.8H310.2V752.7H311.5V752.8H312.8V752.8H314.1V752.8H315.4V752.8H316.7V752.8H318.0V752.8H319.3V752.7H320.6V752.7H321.9V752.8H323.2V752.8H324.5V752.8H325.8V752.7H327.1V752.8H328.4V752.8H329.7V752.7H331.0V752.8H332.3V752.7H333.6V752.8H334.9V752.7H336.2V752.7H337.5V752.7H338.8V752.7H340.1V752.7H341.4V752.6H342.7V752.6H344.0V752.5H345.3V752.3H346.6V752.1H347.9V751.9H349.2V751.3H350.5V750.8H351.8V749.9H353.1V749.0H354.4V747.7H355.7V746.5H357.0V744.1H358.3V742.3H359.6V742.3H360.9V742.4H362.2V742.3H363.5V742.4H364.8V743.7H366.1V743.0H367.4V742.8H368.7V743.5H370.0V744.4H371.3V746.4H372.6V747.7H373.9V749.5H375.2V750.6H376.5V751.3H377.8V752.0H379.1V752.4H380.4V752.6H381.7V752.7H383.0V752.7H384.3V752.8H385.6V752.7H386.9V752.7H388.2V752.7H389.5V752.7H390.8V752.8H392.1V752.8H393.4V752.7H394.7V752.8H396.0V752.7H397.3V752.8H398.6V752.8H399.9V752.7H401.2V752.8H402.5V752.8H403.8V752.8H405.1V752.8H406.4V752.8H407.7V752.8H409.0V752.7H410.3V752.8H411.6V752.8H412.9V752.8H414.2V752.8H415.5V752.8H416.8V752.8H418.1V752.8H419.4V752.8H420.7V752.7H422.0V752.7H423.3V752.8H424.6V752.8H425.9V752.8H427.2V752.7H428.5V752.7H429.8V752.8H431.1V752.8H432.4V752.7H433.7V752.8H435.0V752.8H436.3V752.8H437.6V752.8H438.9V752.7H440.2V752.8H441.5V752.7H442.8V752.7H444.1V752.7H445.4V752.8H446.7V752.8H448.0V752.8H449.3V752.8H450.6V752.7H451.9V752.7H453.2V752.8H454.5V752.8H455.8V752.8H457.1V752.7H458.4V752.7H459.7V752.8H461.0V752.8H462.3V752.8H463.0V752.8Z" fill="#137b95"/>
<text x="255.00" y="746.78" font-size="5.6" fill="#333">0–143</text>
<line x1="252.50" y1="768.59" x2="463.50" y2="768.59" stroke="#d8d460" stroke-width="1.0"/>
<path d="M253.0,768.1V768.1H254.3V768.1H255.6V768.1H256.9V768.1H258.2V768.1H259.5V768.1H260.8V768.1H262.1V768.1H263.4V768.1H264.7V768.1H266.0V768.1H267.3V768.1H268.6V768.1H269.9V768.1H271.2V768.1H272.5V768.1H273.8V768.1H275.1V768.0H276.4V768.1H277.7V768.1H279.0V768.1H280.3V768.1H281.6V768.1H282.9V768.1H284.2V768.1H285.5V768.1H286.8V768.1H288.1V768.1H289.4V768.1H290.7V768.1H292.0V768.1H293.3V768.1H294.6V768.1H295.9V768.1H297.2V768.1H298.5V768.1H299.8V768.1H301.1V768.1H302.4V768.1H303.7V768.0H305.0V768.1H306.3V768.1H307.6V768.1H308.9V768.1H310.2V768.1H311.5V768.0H312.8V768.1H314.1V768.1H315.4V768.1H316.7V768.1H318.0V768.1H319.3V768.1H320.6V768.1H321.9V768.1H323.2V768.1H324.5V768.1H325.8V768.1H327.1V768.1H328.4V768.1H329.7V768.0H331.0V768.0H332.3V768.0H333.6V768.0H334.9V768.0H336.2V768.0H337.5V768.0H338.8V768.0H340.1V767.9H341.4V767.9H342.7V767.8H344.0V767.8H345.3V767.7H346.6V767.6H347.9V767.5H349.2V767.4H350.5V767.3H351.8V767.2H353.1V766.9H354.4V766.6H355.7V766.4H357.0V766.1H358.3V765.7H359.6V765.5H360.9V764.9H362.2V764.6H363.5V764.3H364.8V764.6H366.1V765.2H367.4V765.3H368.7V765.7H370.0V765.9H371.3V766.0H372.6V766.0H373.9V766.2H375.2V766.2H376.5V766.3H377.8V766.6H379.1V766.7H380.4V766.7H381.7V767.0H383.0V767.1H384.3V767.2H385.6V767.3H386.9V767.4H388.2V767.6H389.5V767.7H390.8V767.8H392.1V767.9H393.4V767.9H394.7V768.0H396.0V768.0H397.3V768.0H398.6V768.0H399.9V768.1H401.2V768.0H402.5V768.1H403.8V768.1H405.1V768.1H406.4V768.1H407.7V768.1H409.0V768.1H410.3V768.1H411.6V768.1H412.9V768.0H414.2V768.1H415.5V768.1H416.8V768.1H418.1V768.1H419.4V768.1H420.7V768.1H422.0V768.0H423.3V768.1H424.6V768.1H425.9V768.1H427.2V768.1H428.5V768.1H429.8V768.1H431.1V768.1H432.4V768.1H433.7V768.1H435.0V768.0H436.3V768.1H437.6V768.1H438.9V768.1H440.2V768.1H441.5V768.1H442.8V768.1H444.1V768.1H445.4V768.1H446.7V768.1H448.0V768.1H449.3V768.1H450.6V768.0H451.9V768.1H453.2V768.1H454.5V768.1H455.8V768.1H457.1V768.1H458.4V768.1H459.7V768.1H461.0V768.1H462.3V768.0H463.0V768.1Z" fill="#bfbb00"/>
<text x="255.00" y="762.11" font-size="5.6" fill="#333">0–143</text>
<line x1="252.50" y1="770.20" x2="463.50" y2="770.20" stroke="#dadada" stroke-width="0.8"/>
<line x1="252.50" y1="772.20" x2="463.50" y2="772.20" stroke="#dadada" stroke-width="0.8"/>
<rect x="253.00" y="782.50" width="210.00" height="10.00" fill="#fdfdfd"/>
<rect x="333.80" y="800.60" width="49.70" height="11.20" fill="#fefefe"/>
<rect x="335.30" y="795.90" width="46.70" height="4.70" fill="#ff0a0a"/>
<text x="358.30" y="808.86" font-size="6.0" text-anchor="middle" fill="#555">merg_peak 381</text>
<text x="254.70" y="816.36" font-size="9.6" font-style="italic" fill="#111">Ndufb2</text>
<line x1="252.50" y1="710.50" x2="463.50" y2="710.50" stroke="#111" stroke-width="1.0"/>
<line x1="252.50" y1="821.30" x2="463.50" y2="821.30" stroke="#111" stroke-width="1.0"/>
<line x1="252.50" y1="710.50" x2="252.50" y2="821.30" stroke="#333" stroke-width="1.0"/>
<line x1="463.50" y1="710.50" x2="463.50" y2="821.30" stroke="#666" stroke-width="1.2"/>
<text x="463.50" y="829.06" font-size="8.5" text-anchor="end" textLength="111.7" lengthAdjust="spacingAndGlyphs" fill="#222">Chr6:39,589,650–39,595,150</text>
<rect x="467.50" y="710.50" width="210.50" height="110.80" fill="#f9f9f9"/>
<line x1="467.50" y1="722.60" x2="678.00" y2="722.60" stroke="#a8d0da" stroke-width="1.0"/>
<path d="M468.0,722.1V722.1H469.3V722.1H470.6V721.9H471.9V722.1H473.2V722.1H474.5V722.0H475.8V722.1H477.1V722.1H478.4V722.1H479.7V722.0H481.0V722.1H482.3V722.1H483.6V722.1H484.9V722.0H486.2V722.1H487.5V722.1H488.8V721.9H490.1V722.1H491.4V722.0H492.7V722.1H494.0V722.1H495.3V722.0H496.6V722.0H497.9V722.0H499.2V722.0H500.5V722.0H501.8V721.8H503.1V721.8H504.4V721.7H505.7V721.8H507.0V721.6H508.3V721.7H509.6V721.5H510.9V721.5H512.2V721.5H513.5V721.4H514.8V721.4H516.1V721.5H517.4V721.6H518.7V721.5H520.0V721.4H521.3V721.5H522.6V721.5H523.9V721.5H525.2V721.6H526.5V721.8H527.8V721.7H529.1V721.8H530.4V721.7H531.7V721.8H533.0V722.0H534.3V722.0H535.6V721.9H536.9V721.9H538.2V722.0H539.5V722.0H540.8V722.1H542.1V722.1H543.4V721.9H544.7V722.1H546.0V722.1H547.3V722.1H548.6V722.1H549.9V722.1H551.2V722.0H552.5V722.0H553.8V722.0H555.1V721.7H556.4V721.6H557.7V721.4H559.0V721.0H560.3V720.6H561.6V720.3H562.9V719.5H564.2V718.8H565.5V718.1H566.8V716.6H568.1V713.9H569.4V712.5H570.7V712.7H572.0V712.8H573.3V713.0H574.6V712.0H575.9V715.1H577.2V714.8H578.5V715.1H579.8V716.4H581.1V717.4H582.4V718.5H583.7V719.4H585.0V719.7H586.3V720.7H587.6V720.5H588.9V720.5H590.2V720.2H591.5V720.1H592.8V720.5H594.1V719.8H595.4V720.5H596.7V719.9H598.0V719.9H599.3V719.9H600.6V720.3H601.9V720.2H603.2V720.2H604.5V719.9H605.8V720.2H607.1V720.3H608.4V720.1H609.7V720.2H611.0V720.5H612.3V720.8H613.6V720.9H614.9V720.9H616.2V721.2H617.5V721.5H618.8V721.8H620.1V722.0H621.4V722.0H622.7V722.0H624.0V722.1H625.3V722.1H626.6V722.1H627.9V722.1H629.2V722.0H630.5V722.1H631.8V722.0H633.1V722.1H634.4V722.1H635.7V722.1H637.0V722.1H638.3V722.0H639.6V722.0H640.9V722.1H642.2V722.1H643.5V722.1H644.8V722.1H646.1V722.1H647.4V722.1H648.7V722.0H650.0V722.1H651.3V722.1H652.6V722.0H653.9V722.1H655.2V722.1H656.5V722.1H657.8V722.1H659.1V722.0H660.4V722.1H661.7V722.1H663.0V722.1H664.3V722.0H665.6V722.0H666.9V722.1H668.2V722.1H669.5V722.0H670.8V722.1H672.1V722.1H673.4V722.1H674.7V722.1H676.0V722.1H677.3V722.1H677.5V722.1Z" fill="#137b95"/>
<text x="470.00" y="716.12" font-size="5.6" fill="#333">0–29</text>
<line x1="467.50" y1="737.93" x2="678.00" y2="737.93" stroke="#e6e2a0" stroke-width="1.0"/>
<path d="M468.0,737.4V737.4H469.3V737.4H470.6V737.4H471.9V737.3H473.2V737.3H474.5V737.3H475.8V737.4H477.1V737.3H478.4V737.4H479.7V737.3H481.0V737.4H482.3V737.4H483.6V737.4H484.9V737.3H486.2V737.4H487.5V737.4H488.8V737.4H490.1V737.4H491.4V737.4H492.7V737.4H494.0V737.4H495.3V737.4H496.6V737.4H497.9V737.4H499.2V737.4H500.5V737.4H501.8V737.4H503.1V737.4H504.4V737.4H505.7V737.4H507.0V737.4H508.3V737.4H509.6V737.4H510.9V737.4H512.2V737.3H513.5V737.4H514.8V737.4H516.1V737.1H517.4V736.9H518.7V736.5H520.0V736.3H521.3V736.6H522.6V736.9H523.9V737.3H525.2V737.4H526.5V737.4H527.8V737.4H529.1V737.4H530.4V737.4H531.7V737.3H533.0V737.4H534.3V737.3H535.6V737.2H536.9V737.1H538.2V736.9H539.5V736.8H540.8V736.5H542.1V736.4H543.4V736.3H544.7V736.1H546.0V736.3H547.3V736.4H548.6V736.5H549.9V736.6H551.2V736.6H552.5V736.7H553.8V736.7H555.1V736.6H556.4V736.6H557.7V736.4H559.0V736.3H560.3V735.8H561.6V735.8H562.9V735.6H564.2V735.4H565.5V734.8H566.8V734.9H568.1V734.9H569.4V734.3H570.7V734.3H572.0V734.7H573.3V734.6H574.6V734.3H575.9V734.0H577.2V734.2H578.5V734.7H579.8V734.5H581.1V734.5H582.4V735.0H583.7V735.1H585.0V735.2H586.3V735.4H587.6V735.5H588.9V735.4H590.2V735.3H591.5V735.7H592.8V735.7H594.1V735.7H595.4V736.1H596.7V736.3H598.0V736.4H599.3V736.4H600.6V736.7H601.9V736.8H603.2V736.9H604.5V737.0H605.8V737.2H607.1V737.2H608.4V737.2H609.7V737.3H611.0V737.4H612.3V737.4H613.6V737.4H614.9V737.4H616.2V737.4H617.5V737.4H618.8V737.4H620.1V737.4H621.4V737.4H622.7V737.4H624.0V737.4H625.3V737.4H626.6V737.4H627.9V737.4H629.2V737.4H630.5V737.3H631.8V737.3H633.1V737.2H634.4V737.1H635.7V737.0H637.0V737.1H638.3V736.8H639.6V736.8H640.9V736.7H642.2V736.6H643.5V736.4H644.8V736.4H646.1V736.4H647.4V736.4H648.7V736.3H650.0V736.3H651.3V736.5H652.6V736.5H653.9V736.7H655.2V736.7H656.5V736.9H657.8V736.9H659.1V736.9H660.4V737.1H661.7V737.2H663.0V737.2H664.3V737.3H665.6V737.3H666.9V737.4H668.2V737.4H669.5V737.3H670.8V737.4H672.1V737.4H673.4V737.4H674.7V737.4H676.0V737.4H677.3V737.4H677.5V737.4Z" fill="#bfbb00"/>
<text x="470.00" y="731.45" font-size="5.6" fill="#333">0–29</text>
<line x1="467.50" y1="753.26" x2="678.00" y2="753.26" stroke="#86bccb" stroke-width="1.0"/>
<path d="M468.0,752.8V752.8H469.3V752.8H470.6V752.8H471.9V752.8H473.2V752.8H474.5V752.8H475.8V752.8H477.1V752.7H478.4V752.8H479.7V752.8H481.0V752.6H482.3V752.8H483.6V752.8H484.9V752.8H486.2V752.8H487.5V752.8H488.8V752.7H490.1V752.8H491.4V752.8H492.7V752.8H494.0V752.8H495.3V752.8H496.6V752.6H497.9V752.7H499.2V752.8H500.5V752.8H501.8V752.6H503.1V752.6H504.4V752.7H505.7V752.7H507.0V752.8H508.3V752.6H509.6V752.8H510.9V752.7H512.2V752.8H513.5V752.8H514.8V752.7H516.1V752.8H517.4V752.8H518.7V752.6H520.0V752.8H521.3V752.6H522.6V752.8H523.9V752.8H525.2V752.8H526.5V752.8H527.8V752.6H529.1V752.8H530.4V752.8H531.7V752.8H533.0V752.8H534.3V752.8H535.6V752.6H536.9V752.8H538.2V752.8H539.5V752.8H540.8V752.8H542.1V752.8H543.4V752.6H544.7V752.8H546.0V752.6H547.3V752.6H548.6V752.7H549.9V752.7H551.2V752.6H552.5V752.6H553.8V752.6H555.1V752.5H556.4V752.3H557.7V752.2H559.0V752.0H560.3V751.7H561.6V751.5H562.9V750.8H564.2V750.2H565.5V749.8H566.8V748.8H568.1V748.6H569.4V747.6H570.7V745.8H572.0V743.1H573.3V741.7H574.6V744.0H575.9V742.5H577.2V742.7H578.5V745.5H579.8V746.0H581.1V747.5H582.4V747.1H583.7V748.1H585.0V748.1H586.3V747.5H587.6V748.8H588.9V749.2H590.2V749.1H591.5V749.5H592.8V749.6H594.1V748.9H595.4V749.1H596.7V749.5H598.0V749.6H599.3V750.4H600.6V750.2H601.9V750.6H603.2V751.0H604.5V751.6H605.8V751.8H607.1V752.3H608.4V752.3H609.7V752.5H611.0V752.7H612.3V752.7H613.6V752.7H614.9V752.7H616.2V752.5H617.5V752.4H618.8V752.3H620.1V751.9H621.4V751.8H622.7V751.4H624.0V751.5H625.3V751.2H626.6V751.0H627.9V751.3H629.2V751.4H630.5V751.6H631.8V751.9H633.1V752.0H634.4V752.2H635.7V752.4H637.0V752.6H638.3V752.6H639.6V752.7H640.9V752.7H642.2V752.6H643.5V752.8H644.8V752.7H646.1V752.7H647.4V752.8H648.7V752.8H650.0V752.8H651.3V752.8H652.6V752.8H653.9V752.8H655.2V752.6H656.5V752.8H657.8V752.8H659.1V752.8H660.4V752.8H661.7V752.8H663.0V752.6H664.3V752.8H665.6V752.7H666.9V752.7H668.2V752.8H669.5V752.8H670.8V752.8H672.1V752.7H673.4V752.8H674.7V752.6H676.0V752.8H677.3V752.8H677.5V752.8Z" fill="#137b95"/>
<text x="470.00" y="746.78" font-size="5.6" fill="#333">0–37</text>
<line x1="467.50" y1="768.59" x2="678.00" y2="768.59" stroke="#d8d460" stroke-width="1.0"/>
<path d="M468.0,768.1V768.1H469.3V768.0H470.6V768.0H471.9V767.7H473.2V767.6H474.5V767.4H475.8V767.3H477.1V766.9H478.4V766.7H479.7V766.6H481.0V766.8H482.3V766.9H483.6V767.2H484.9V767.4H486.2V767.6H487.5V767.8H488.8V767.8H490.1V768.0H491.4V768.1H492.7V768.1H494.0V768.1H495.3V768.1H496.6V768.1H497.9V768.1H499.2V768.0H500.5V768.1H501.8V767.9H503.1V768.0H504.4V768.0H505.7V767.7H507.0V767.7H508.3V767.5H509.6V767.5H510.9V766.9H512.2V766.8H513.5V766.9H514.8V766.5H516.1V766.3H517.4V765.7H518.7V766.4H520.0V766.2H521.3V766.0H522.6V766.4H523.9V766.4H525.2V766.7H526.5V767.0H527.8V767.2H529.1V767.5H530.4V767.7H531.7V767.7H533.0V767.9H534.3V768.0H535.6V768.0H536.9V768.1H538.2V768.1H539.5V768.1H540.8V768.1H542.1V768.0H543.4V768.1H544.7V768.1H546.0V767.9H547.3V767.9H548.6V768.1H549.9V768.0H551.2V767.9H552.5V768.0H553.8V767.7H555.1V767.8H556.4V767.5H557.7V767.5H559.0V767.1H560.3V767.0H561.6V766.9H562.9V766.6H564.2V766.5H565.5V765.9H566.8V765.6H568.1V765.9H569.4V765.6H570.7V765.4H572.0V765.3H573.3V764.8H574.6V765.3H575.9V764.9H577.2V765.3H578.5V765.2H579.8V764.9H581.1V765.2H582.4V764.7H583.7V765.0H585.0V765.2H586.3V765.4H587.6V764.8H588.9V765.6H590.2V766.0H591.5V765.6H592.8V765.9H594.1V766.5H595.4V766.7H596.7V767.1H598.0V767.2H599.3V767.4H600.6V767.5H601.9V767.6H603.2V767.7H604.5V768.0H605.8V768.0H607.1V768.0H608.4V767.9H609.7V768.1H611.0V768.1H612.3V768.1H613.6V768.1H614.9V768.1H616.2V768.0H617.5V767.9H618.8V767.6H620.1V767.2H621.4V766.9H622.7V766.7H624.0V766.8H625.3V766.5H626.6V766.9H627.9V767.3H629.2V767.8H630.5V767.8H631.8V768.0H633.1V768.0H634.4V768.1H635.7V768.1H637.0V768.1H638.3V768.0H639.6V768.1H640.9V768.1H642.2V768.1H643.5V768.1H644.8V768.0H646.1V768.1H647.4V768.1H648.7V768.1H650.0V768.1H651.3V768.1H652.6V768.1H653.9V768.1H655.2V768.1H656.5V768.1H657.8V768.1H659.1V768.1H660.4V768.1H661.7V768.1H663.0V768.1H664.3V768.0H665.6V768.1H666.9V768.1H668.2V768.1H669.5V768.1H670.8V768.0H672.1V768.1H673.4V768.1H674.7V768.1H676.0V768.1H677.3V768.0H677.5V768.1Z" fill="#bfbb00"/>
<text x="470.00" y="762.11" font-size="5.6" fill="#333">0–37</text>
<line x1="467.50" y1="770.20" x2="678.00" y2="770.20" stroke="#dadada" stroke-width="0.8"/>
<line x1="467.50" y1="772.20" x2="678.00" y2="772.20" stroke="#dadada" stroke-width="0.8"/>
<rect x="468.00" y="782.50" width="209.50" height="10.00" fill="#fdfdfd"/>
<rect x="559.40" y="800.60" width="57.50" height="11.20" fill="#fefefe"/>
<rect x="560.90" y="795.90" width="54.50" height="4.70" fill="#ff0a0a"/>
<text x="590.70" y="808.86" font-size="6.0" text-anchor="middle" fill="#555">merg_peak 1478</text>
<text x="469.70" y="816.36" font-size="9.6" font-style="italic" fill="#111">Cox5a</text>
<line x1="467.50" y1="710.50" x2="678.00" y2="710.50" stroke="#111" stroke-width="1.0"/>
<line x1="467.50" y1="821.30" x2="678.00" y2="821.30" stroke="#111" stroke-width="1.0"/>
<line x1="467.50" y1="710.50" x2="467.50" y2="821.30" stroke="#333" stroke-width="1.0"/>
<line x1="678.00" y1="710.50" x2="678.00" y2="821.30" stroke="#666" stroke-width="1.2"/>
<text x="678.00" y="829.06" font-size="8.5" text-anchor="end" textLength="109.6" lengthAdjust="spacingAndGlyphs" fill="#222">Chr9:57,518,850–57,523,350</text>
<text x="33.00" y="845.21" font-size="9.2" text-anchor="end" fill="#222">ctr (1)</text>
<text x="33.00" y="860.06" font-size="9.2" text-anchor="end" fill="#222">C26 (1)</text>
<text x="33.00" y="874.91" font-size="9.2" text-anchor="end" fill="#222">ctr (2)</text>
<text x="33.00" y="889.76" font-size="9.2" text-anchor="end" fill="#222">C26 (2)</text>
<rect x="38.40" y="833.50" width="210.10" height="110.80" fill="#f9f9f9"/>
<line x1="38.40" y1="845.60" x2="248.50" y2="845.60" stroke="#a8d0da" stroke-width="1.0"/>
<path d="M38.9,845.1V844.5H40.2V844.4H41.5V844.6H42.8V844.6H44.1V844.5H45.4V844.6H46.7V844.6H48.0V844.6H49.3V844.5H50.6V844.3H51.9V844.5H53.2V844.4H54.5V844.5H55.8V844.5H57.1V844.5H58.4V844.5H59.7V844.6H61.0V844.5H62.3V844.4H63.6V844.3H64.9V844.4H66.2V844.6H67.5V844.3H68.8V844.3H70.1V844.3H71.4V844.5H72.7V844.6H74.0V844.5H75.3V844.3H76.6V844.3H77.9V844.5H79.2V844.4H80.5V844.2H81.8V844.1H83.1V843.8H84.4V843.6H85.7V843.7H87.0V843.1H88.3V843.2H89.6V842.9H90.9V843.1H92.2V843.3H93.5V843.4H94.8V842.9H96.1V843.2H97.4V843.0H98.7V843.4H100.0V843.1H101.3V842.9H102.6V842.9H103.9V843.4H105.2V842.8H106.5V843.4H107.8V843.3H109.1V843.2H110.4V842.7H111.7V843.4H113.0V843.3H114.3V843.1H115.6V843.2H116.9V843.1H118.2V842.8H119.5V841.6H120.8V840.5H122.1V840.4H123.4V839.6H124.7V841.0H126.0V839.0H127.3V839.8H128.6V839.6H129.9V839.1H131.2V838.4H132.5V838.8H133.8V836.2H135.1V837.5H136.4V836.5H137.7V835.2H139.0V836.1H140.3V836.9H141.6V836.5H142.9V837.2H144.2V833.4H145.5V837.0H146.8V835.0H148.1V838.2H149.4V838.6H150.7V842.2H152.0V842.6H153.3V843.1H154.6V842.9H155.9V842.9H157.2V843.5H158.5V842.9H159.8V843.2H161.1V842.6H162.4V842.7H163.7V843.1H165.0V843.1H166.3V843.0H167.6V843.6H168.9V843.3H170.2V843.3H171.5V844.0H172.8V843.9H174.1V844.2H175.4V844.2H176.7V844.5H178.0V844.6H179.3V844.7H180.6V844.6H181.9V844.8H183.2V845.0H184.5V845.0H185.8V845.0H187.1V845.1H188.4V845.1H189.7V845.1H191.0V845.1H192.3V845.1H193.6V844.9H194.9V845.0H196.2V845.1H197.5V845.0H198.8V845.0H200.1V844.7H201.4V844.5H202.7V844.2H204.0V844.0H205.3V843.9H206.6V843.1H207.9V843.2H209.2V843.5H210.5V842.5H211.8V843.3H213.1V843.0H214.4V843.2H215.7V843.2H217.0V842.7H218.3V842.7H219.6V842.6H220.9V843.2H222.2V843.0H223.5V843.2H224.8V843.6H226.1V844.3H227.4V844.4H228.7V844.8H230.0V845.0H231.3V844.9H232.6V845.1H233.9V845.0H235.2V845.0H236.5V844.8H237.8V844.6H239.1V844.1H240.4V843.9H241.7V843.3H243.0V843.0H244.3V843.1H245.6V842.5H246.9V843.4H248.0V845.1Z" fill="#137b95"/>
<text x="40.90" y="839.12" font-size="5.6" fill="#333">0–8.72</text>
<line x1="38.40" y1="860.93" x2="248.50" y2="860.93" stroke="#e6e2a0" stroke-width="1.0"/>
<path d="M38.9,860.4V859.6H40.2V859.7H41.5V859.4H42.8V859.6H44.1V859.4H45.4V859.5H46.7V859.4H48.0V859.3H49.3V859.4H50.6V859.3H51.9V859.4H53.2V859.5H54.5V859.4H55.8V859.5H57.1V859.5H58.4V859.6H59.7V859.6H61.0V859.4H62.3V859.7H63.6V859.5H64.9V859.5H66.2V859.3H67.5V859.5H68.8V859.3H70.1V859.7H71.4V859.3H72.7V859.2H74.0V859.4H75.3V859.8H76.6V859.3H77.9V859.7H79.2V859.3H80.5V859.5H81.8V859.4H83.1V859.5H84.4V859.5H85.7V859.5H87.0V859.5H88.3V859.6H89.6V859.6H90.9V859.3H92.2V859.3H93.5V859.4H94.8V859.2H96.1V859.5H97.4V859.5H98.7V859.5H100.0V859.6H101.3V859.2H102.6V858.9H103.9V859.0H105.2V858.8H106.5V858.8H107.8V858.4H109.1V858.1H110.4V858.1H111.7V857.9H113.0V858.5H114.3V858.2H115.6V857.3H116.9V858.0H118.2V858.2H119.5V857.9H120.8V857.0H122.1V856.9H123.4V857.1H124.7V857.5H126.0V857.3H127.3V857.7H128.6V857.0H129.9V857.0H131.2V856.9H132.5V856.6H133.8V856.4H135.1V857.1H136.4V856.9H137.7V855.9H139.0V854.3H140.3V856.0H141.6V855.9H142.9V856.5H144.2V856.2H145.5V857.3H146.8V856.8H148.1V857.4H149.4V857.6H150.7V857.9H152.0V858.4H153.3V858.2H154.6V858.5H155.9V858.9H157.2V859.3H158.5V859.3H159.8V859.7H161.1V859.6H162.4V859.6H163.7V859.9H165.0V860.0H166.3V860.1H167.6V860.1H168.9V860.2H170.2V860.1H171.5V859.9H172.8V859.6H174.1V859.7H175.4V859.4H176.7V859.3H178.0V859.3H179.3V858.7H180.6V859.0H181.9V858.9H183.2V859.1H184.5V859.0H185.8V859.2H187.1V858.8H188.4V859.2H189.7V859.1H191.0V858.8H192.3V859.0H193.6V858.7H194.9V858.9H196.2V858.7H197.5V859.2H198.8V859.2H200.1V859.3H201.4V859.7H202.7V860.0H204.0V860.1H205.3V860.1H206.6V860.4H207.9V860.3H209.2V860.2H210.5V860.4H211.8V860.4H213.1V860.4H214.4V860.3H215.7V860.3H217.0V860.1H218.3V860.0H219.6V859.9H220.9V859.9H222.2V859.6H223.5V859.4H224.8V859.4H226.1V859.5H227.4V859.1H228.7V859.5H230.0V859.4H231.3V859.4H232.6V859.3H233.9V859.2H235.2V859.4H236.5V859.2H237.8V859.6H239.1V859.3H240.4V859.3H241.7V859.4H243.0V859.3H244.3V859.3H245.6V859.2H246.9V859.1H248.0V860.4Z" fill="#bfbb00"/>
<text x="40.90" y="854.45" font-size="5.6" fill="#333">0–8.72</text>
<line x1="38.40" y1="876.26" x2="248.50" y2="876.26" stroke="#86bccb" stroke-width="1.0"/>
<path d="M38.9,875.8V875.8H40.2V875.7H41.5V875.8H42.8V875.6H44.1V875.8H45.4V875.8H46.7V875.7H48.0V875.8H49.3V875.6H50.6V875.8H51.9V875.8H53.2V875.8H54.5V875.8H55.8V875.8H57.1V875.8H58.4V875.6H59.7V875.8H61.0V875.8H62.3V875.8H63.6V875.8H64.9V875.8H66.2V875.6H67.5V875.8H68.8V875.8H70.1V875.8H71.4V875.8H72.7V875.8H74.0V875.6H75.3V875.8H76.6V875.8H77.9V875.7H79.2V875.7H80.5V875.6H81.8V875.7H83.1V875.7H84.4V875.7H85.7V875.7H87.0V875.6H88.3V875.6H89.6V875.5H90.9V875.3H92.2V875.2H93.5V875.2H94.8V875.2H96.1V875.1H97.4V874.9H98.7V874.8H100.0V874.8H101.3V874.6H102.6V874.8H103.9V874.5H105.2V874.6H106.5V874.3H107.8V874.3H109.1V874.2H110.4V874.4H111.7V874.1H113.0V874.2H114.3V874.3H115.6V874.2H116.9V874.1H118.2V874.4H119.5V873.8H120.8V873.7H122.1V873.9H123.4V873.5H124.7V873.1H126.0V873.0H127.3V873.3H128.6V873.0H129.9V872.1H131.2V872.2H132.5V871.3H133.8V870.8H135.1V870.2H136.4V869.5H137.7V867.0H139.0V866.5H140.3V864.8H141.6V866.9H142.9V867.6H144.2V869.7H145.5V870.6H146.8V871.9H148.1V873.4H149.4V874.3H150.7V874.5H152.0V874.9H153.3V874.9H154.6V875.2H155.9V875.2H157.2V875.1H158.5V874.8H159.8V874.7H161.1V874.7H162.4V874.7H163.7V874.6H165.0V874.9H166.3V874.7H167.6V875.0H168.9V875.0H170.2V875.0H171.5V875.2H172.8V875.3H174.1V875.5H175.4V875.7H176.7V875.6H178.0V875.6H179.3V875.7H180.6V875.7H181.9V875.8H183.2V875.8H184.5V875.8H185.8V875.8H187.1V875.8H188.4V875.8H189.7V875.8H191.0V875.8H192.3V875.8H193.6V875.8H194.9V875.8H196.2V875.8H197.5V875.7H198.8V875.8H200.1V875.7H201.4V875.8H202.7V875.8H204.0V875.8H205.3V875.8H206.6V875.7H207.9V875.7H209.2V875.6H210.5V875.6H211.8V875.7H213.1V875.7H214.4V875.7H215.7V875.6H217.0V875.7H218.3V875.6H219.6V875.4H220.9V875.5H222.2V875.3H223.5V875.5H224.8V875.3H226.1V875.3H227.4V875.2H228.7V875.1H230.0V875.0H231.3V875.0H232.6V874.9H233.9V875.0H235.2V874.8H236.5V875.0H237.8V875.0H239.1V874.7H240.4V875.0H241.7V874.8H243.0V875.0H244.3V874.9H245.6V875.0H246.9V875.0H248.0V875.8Z" fill="#137b95"/>
<text x="40.90" y="869.78" font-size="5.6" fill="#333">0–23</text>
<line x1="38.40" y1="891.59" x2="248.50" y2="891.59" stroke="#d8d460" stroke-width="1.0"/>
<path d="M38.9,891.1V889.0H40.2V888.4H41.5V888.5H42.8V888.8H44.1V888.4H45.4V889.4H46.7V890.2H48.0V891.0H49.3V891.0H50.6V891.1H51.9V891.1H53.2V891.0H54.5V891.1H55.8V891.0H57.1V891.1H58.4V891.1H59.7V891.0H61.0V891.1H62.3V891.1H63.6V891.1H64.9V891.1H66.2V891.1H67.5V891.1H68.8V891.1H70.1V891.0H71.4V891.1H72.7V891.1H74.0V891.1H75.3V891.1H76.6V891.1H77.9V891.1H79.2V891.0H80.5V891.0H81.8V891.1H83.1V891.0H84.4V891.1H85.7V891.1H87.0V891.1H88.3V891.0H89.6V891.0H90.9V890.6H92.2V890.3H93.5V889.8H94.8V889.6H96.1V889.5H97.4V889.4H98.7V889.5H100.0V889.4H101.3V889.7H102.6V889.7H103.9V889.8H105.2V890.2H106.5V890.7H107.8V891.0H109.1V891.0H110.4V891.1H111.7V891.1H113.0V891.1H114.3V891.0H115.6V890.9H116.9V890.8H118.2V890.7H119.5V890.4H120.8V890.1H122.1V890.0H123.4V890.1H124.7V890.3H126.0V890.5H127.3V890.7H128.6V890.9H129.9V891.0H131.2V891.0H132.5V891.1H133.8V891.1H135.1V891.1H136.4V891.1H137.7V891.0H139.0V891.1H140.3V891.1H141.6V891.1H142.9V891.1H144.2V891.1H145.5V891.0H146.8V891.1H148.1V891.1H149.4V891.1H150.7V891.1H152.0V891.0H153.3V891.1H154.6V891.1H155.9V891.1H157.2V891.1H158.5V891.1H159.8V891.1H161.1V891.1H162.4V891.1H163.7V891.1H165.0V891.1H166.3V891.1H167.6V891.1H168.9V891.1H170.2V891.1H171.5V891.0H172.8V891.1H174.1V891.1H175.4V891.1H176.7V891.1H178.0V891.1H179.3V891.0H180.6V891.1H181.9V891.1H183.2V891.1H184.5V891.1H185.8V891.0H187.1V890.9H188.4V890.7H189.7V890.4H191.0V890.3H192.3V889.8H193.6V890.0H194.9V889.7H196.2V889.7H197.5V889.5H198.8V889.4H200.1V889.6H201.4V889.4H202.7V889.4H204.0V889.4H205.3V889.4H206.6V889.7H207.9V889.5H209.2V889.6H210.5V890.0H211.8V890.1H213.1V890.4H214.4V890.7H215.7V890.8H217.0V891.0H218.3V891.0H219.6V891.0H220.9V890.8H222.2V890.8H223.5V890.7H224.8V890.6H226.1V890.5H227.4V890.5H228.7V890.6H230.0V890.6H231.3V890.8H232.6V890.9H233.9V891.0H235.2V891.0H236.5V891.0H237.8V891.0H239.1V891.1H240.4V891.1H241.7V891.1H243.0V891.1H244.3V891.1H245.6V891.1H246.9V891.1H248.0V891.1Z" fill="#bfbb00"/>
<text x="40.90" y="885.11" font-size="5.6" fill="#333">0–23</text>
<line x1="38.40" y1="893.20" x2="248.50" y2="893.20" stroke="#dadada" stroke-width="0.8"/>
<line x1="38.40" y1="895.20" x2="248.50" y2="895.20" stroke="#dadada" stroke-width="0.8"/>
<rect x="38.90" y="905.50" width="209.10" height="10.00" fill="#fdfdfd"/>
<rect x="120.80" y="923.60" width="34.00" height="11.20" fill="#fefefe"/>
<rect x="122.30" y="918.90" width="31.00" height="4.70" fill="#ff0a0a"/>
<text x="138.00" y="931.86" font-size="6.0" text-anchor="middle" fill="#555">merg_peak 338</text>
<text x="40.60" y="939.36" font-size="9.6" font-style="italic" fill="#111">Atp5j2</text>
<line x1="38.40" y1="833.50" x2="248.50" y2="833.50" stroke="#111" stroke-width="1.0"/>
<line x1="38.40" y1="944.30" x2="248.50" y2="944.30" stroke="#111" stroke-width="1.0"/>
<line x1="38.40" y1="833.50" x2="38.40" y2="944.30" stroke="#333" stroke-width="1.0"/>
<line x1="248.50" y1="833.50" x2="248.50" y2="944.30" stroke="#666" stroke-width="1.2"/>
<text x="248.50" y="952.06" font-size="8.5" text-anchor="end" textLength="118.9" lengthAdjust="spacingAndGlyphs" fill="#222">Chr5:145,1898,550–145,193,750</text>
<rect x="252.50" y="833.50" width="211.00" height="110.80" fill="#f9f9f9"/>
<line x1="252.50" y1="845.60" x2="463.50" y2="845.60" stroke="#a8d0da" stroke-width="1.0"/>
<path d="M253.0,845.1V845.1H254.3V845.1H255.6V845.1H256.9V845.1H258.2V845.1H259.5V845.1H260.8V845.1H262.1V845.1H263.4V845.1H264.7V845.1H266.0V845.1H267.3V845.1H268.6V845.1H269.9V845.1H271.2V845.1H272.5V845.1H273.8V845.1H275.1V845.1H276.4V845.1H277.7V845.1H279.0V845.1H280.3V845.1H281.6V845.1H282.9V845.1H284.2V845.1H285.5V845.1H286.8V845.1H288.1V845.1H289.4V845.1H290.7V845.1H292.0V845.1H293.3V845.1H294.6V845.1H295.9V845.1H297.2V845.1H298.5V845.1H299.8V845.1H301.1V845.1H302.4V845.1H303.7V845.1H305.0V845.1H306.3V845.1H307.6V845.1H308.9V845.1H310.2V845.1H311.5V845.1H312.8V845.1H314.1V845.1H315.4V845.1H316.7V845.1H318.0V845.1H319.3V845.1H320.6V845.1H321.9V845.1H323.2V845.1H324.5V845.1H325.8V845.1H327.1V845.1H328.4V845.1H329.7V845.1H331.0V845.1H332.3V845.1H333.6V845.1H334.9V845.1H336.2V845.1H337.5V845.1H338.8V845.0H340.1V845.0H341.4V844.8H342.7V844.6H344.0V844.3H345.3V843.9H346.6V843.2H347.9V842.3H349.2V841.1H350.5V839.6H351.8V838.2H353.1V836.9H354.4V835.0H355.7V834.0H357.0V833.2H358.3V833.1H359.6V833.5H360.9V834.5H362.2V835.6H363.5V837.0H364.8V838.5H366.1V839.8H367.4V841.1H368.7V842.0H370.0V842.7H371.3V843.2H372.6V843.6H373.9V844.1H375.2V844.4H376.5V844.7H377.8V844.9H379.1V845.0H380.4V845.1H381.7V845.1H383.0V845.1H384.3V845.1H385.6V845.1H386.9V845.1H388.2V845.1H389.5V845.1H390.8V845.1H392.1V845.1H393.4V845.1H394.7V845.1H396.0V845.1H397.3V845.1H398.6V845.1H399.9V845.1H401.2V845.1H402.5V845.1H403.8V845.1H405.1V845.1H406.4V845.1H407.7V845.1H409.0V845.1H410.3V845.1H411.6V845.1H412.9V845.1H414.2V845.1H415.5V845.1H416.8V845.1H418.1V845.1H419.4V845.1H420.7V845.1H422.0V845.1H423.3V845.1H424.6V845.1H425.9V845.1H427.2V845.1H428.5V845.1H429.8V845.1H431.1V845.1H432.4V845.1H433.7V845.1H435.0V845.1H436.3V845.1H437.6V845.1H438.9V845.1H440.2V845.1H441.5V845.1H442.8V845.1H444.1V845.1H445.4V845.1H446.7V845.1H448.0V845.1H449.3V845.1H450.6V845.1H451.9V845.1H453.2V845.1H454.5V845.1H455.8V845.1H457.1V845.1H458.4V845.1H459.7V845.1H461.0V845.1H462.3V845.1H463.0V845.1Z" fill="#137b95"/>
<text x="255.00" y="839.12" font-size="5.6" fill="#333">0–153</text>
<line x1="252.50" y1="860.93" x2="463.50" y2="860.93" stroke="#e6e2a0" stroke-width="1.0"/>
<path d="M253.0,860.4V860.4H254.3V860.4H255.6V860.4H256.9V860.4H258.2V860.4H259.5V860.4H260.8V860.4H262.1V860.4H263.4V860.4H264.7V860.4H266.0V860.4H267.3V860.4H268.6V860.4H269.9V860.4H271.2V860.4H272.5V860.4H273.8V860.4H275.1V860.4H276.4V860.4H277.7V860.4H279.0V860.4H280.3V860.4H281.6V860.4H282.9V860.4H284.2V860.4H285.5V860.4H286.8V860.4H288.1V860.4H289.4V860.4H290.7V860.4H292.0V860.4H293.3V860.4H294.6V860.4H295.9V860.4H297.2V860.4H298.5V860.4H299.8V860.4H301.1V860.4H302.4V860.4H303.7V860.4H305.0V860.4H306.3V860.4H307.6V860.4H308.9V860.4H310.2V860.4H311.5V860.4H312.8V860.4H314.1V860.4H315.4V860.4H316.7V860.4H318.0V860.4H319.3V860.4H320.6V860.4H321.9V860.4H323.2V860.4H324.5V860.4H325.8V860.4H327.1V860.4H328.4V860.4H329.7V860.4H331.0V860.4H332.3V860.4H333.6V860.4H334.9V860.4H336.2V860.4H337.5V860.4H338.8V860.4H340.1V860.4H341.4V860.3H342.7V860.2H344.0V860.0H345.3V859.8H346.6V859.5H347.9V859.0H349.2V858.5H350.5V857.8H351.8V857.2H353.1V856.6H354.4V856.0H355.7V855.6H357.0V855.6H358.3V855.4H359.6V855.8H360.9V856.1H362.2V856.7H363.5V857.3H364.8V858.0H366.1V858.6H367.4V859.2H368.7V859.5H370.0V859.8H371.3V860.1H372.6V860.2H373.9V860.3H375.2V860.4H376.5V860.4H377.8V860.4H379.1V860.4H380.4V860.4H381.7V860.4H383.0V860.4H384.3V860.4H385.6V860.4H386.9V860.4H388.2V860.4H389.5V860.4H390.8V860.4H392.1V860.4H393.4V860.4H394.7V860.4H396.0V860.4H397.3V860.4H398.6V860.4H399.9V860.4H401.2V860.4H402.5V860.4H403.8V860.4H405.1V860.4H406.4V860.4H407.7V860.4H409.0V860.4H410.3V860.4H411.6V860.4H412.9V860.4H414.2V860.4H415.5V860.4H416.8V860.4H418.1V860.4H419.4V860.4H420.7V860.4H422.0V860.4H423.3V860.4H424.6V860.4H425.9V860.4H427.2V860.4H428.5V860.4H429.8V860.4H431.1V860.4H432.4V860.4H433.7V860.4H435.0V860.4H436.3V860.4H437.6V860.4H438.9V860.4H440.2V860.4H441.5V860.4H442.8V860.4H444.1V860.4H445.4V860.4H446.7V860.4H448.0V860.4H449.3V860.4H450.6V860.4H451.9V860.4H453.2V860.4H454.5V860.4H455.8V860.4H457.1V860.4H458.4V860.4H459.7V860.4H461.0V860.4H462.3V860.4H463.0V860.4Z" fill="#bfbb00"/>
<text x="255.00" y="854.45" font-size="5.6" fill="#333">0–153</text>
<line x1="252.50" y1="876.26" x2="463.50" y2="876.26" stroke="#86bccb" stroke-width="1.0"/>
<path d="M253.0,875.8V875.7H254.3V875.8H255.6V875.8H256.9V875.7H258.2V875.8H259.5V875.8H260.8V875.8H262.1V875.8H263.4V875.8H264.7V875.8H266.0V875.8H267.3V875.8H268.6V875.7H269.9V875.8H271.2V875.8H272.5V875.8H273.8V875.8H275.1V875.8H276.4V875.7H277.7V875.8H279.0V875.8H280.3V875.8H281.6V875.8H282.9V875.8H284.2V875.7H285.5V875.8H286.8V875.7H288.1V875.8H289.4V875.8H290.7V875.8H292.0V875.7H293.3V875.8H294.6V875.8H295.9V875.8H297.2V875.7H298.5V875.8H299.8V875.8H301.1V875.8H302.4V875.8H303.7V875.8H305.0V875.8H306.3V875.8H307.6V875.7H308.9V875.8H310.2V875.8H311.5V875.8H312.8V875.8H314.1V875.8H315.4V875.8H316.7V875.8H318.0V875.8H319.3V875.7H320.6V875.8H321.9V875.8H323.2V875.8H324.5V875.8H325.8V875.8H327.1V875.8H328.4V875.7H329.7V875.7H331.0V875.8H332.3V875.8H333.6V875.8H334.9V875.8H336.2V875.8H337.5V875.7H338.8V875.7H340.1V875.6H341.4V875.4H342.7V875.0H344.0V874.4H345.3V873.4H346.6V872.3H347.9V870.9H349.2V869.3H350.5V867.6H351.8V866.4H353.1V865.1H354.4V864.6H355.7V864.0H357.0V864.1H358.3V864.3H359.6V864.7H360.9V865.7H362.2V866.9H363.5V868.7H364.8V870.4H366.1V871.8H367.4V873.2H368.7V874.1H370.0V874.9H371.3V875.3H372.6V875.5H373.9V875.7H375.2V875.7H376.5V875.7H377.8V875.8H379.1V875.8H380.4V875.8H381.7V875.8H383.0V875.8H384.3V875.8H385.6V875.8H386.9V875.8H388.2V875.8H389.5V875.8H390.8V875.8H392.1V875.7H393.4V875.7H394.7V875.8H396.0V875.7H397.3V875.8H398.6V875.7H399.9V875.8H401.2V875.8H402.5V875.8H403.8V875.8H405.1V875.7H406.4V875.8H407.7V875.8H409.0V875.7H410.3V875.7H411.6V875.8H412.9V875.8H414.2V875.8H415.5V875.7H416.8V875.8H418.1V875.7H419.4V875.8H420.7V875.8H422.0V875.8H423.3V875.8H424.6V875.8H425.9V875.8H427.2V875.7H428.5V875.7H429.8V875.8H431.1V875.8H432.4V875.7H433.7V875.8H435.0V875.7H436.3V875.7H437.6V875.8H438.9V875.7H440.2V875.7H441.5V875.8H442.8V875.8H444.1V875.8H445.4V875.7H446.7V875.8H448.0V875.7H449.3V875.8H450.6V875.8H451.9V875.8H453.2V875.8H454.5V875.8H455.8V875.8H457.1V875.8H458.4V875.8H459.7V875.8H461.0V875.8H462.3V875.8H463.0V875.8Z" fill="#137b95"/>
<text x="255.00" y="869.78" font-size="5.6" fill="#333">0–396</text>
<line x1="252.50" y1="891.59" x2="463.50" y2="891.59" stroke="#d8d460" stroke-width="1.0"/>
<path d="M253.0,891.1V891.1H254.3V891.1H255.6V891.1H256.9V891.1H258.2V891.1H259.5V891.1H260.8V891.1H262.1V891.1H263.4V891.1H264.7V891.1H266.0V891.1H267.3V891.1H268.6V891.1H269.9V891.1H271.2V891.1H272.5V891.1H273.8V891.1H275.1V891.1H276.4V891.1H277.7V891.1H279.0V891.1H280.3V891.1H281.6V891.1H282.9V891.1H284.2V891.1H285.5V891.1H286.8V891.1H288.1V891.1H289.4V891.1H290.7V891.1H292.0V891.1H293.3V891.1H294.6V891.1H295.9V891.1H297.2V891.1H298.5V891.1H299.8V891.1H301.1V891.1H302.4V891.1H303.7V891.1H305.0V891.1H306.3V891.1H307.6V891.1H308.9V891.1H310.2V891.1H311.5V891.1H312.8V891.1H314.1V891.1H315.4V891.1H316.7V891.1H318.0V891.1H319.3V891.1H320.6V891.1H321.9V891.1H323.2V891.1H324.5V891.1H325.8V891.1H327.1V891.1H328.4V891.1H329.7V891.1H331.0V891.1H332.3V891.1H333.6V891.1H334.9V891.1H336.2V891.1H337.5V891.1H338.8V891.0H340.1V891.0H341.4V891.0H342.7V890.9H344.0V890.8H345.3V890.6H346.6V890.3H347.9V890.0H349.2V889.5H350.5V889.1H351.8V888.6H353.1V887.9H354.4V887.6H355.7V887.2H357.0V887.2H358.3V887.0H359.6V887.2H360.9V887.7H362.2V888.1H363.5V888.6H364.8V889.2H366.1V889.6H367.4V890.0H368.7V890.4H370.0V890.6H371.3V890.8H372.6V890.9H373.9V891.0H375.2V891.0H376.5V891.1H377.8V891.1H379.1V891.1H380.4V891.1H381.7V891.1H383.0V891.1H384.3V891.1H385.6V891.1H386.9V891.1H388.2V891.1H389.5V891.1H390.8V891.1H392.1V891.1H393.4V891.1H394.7V891.1H396.0V891.1H397.3V891.1H398.6V891.1H399.9V891.1H401.2V891.1H402.5V891.1H403.8V891.1H405.1V891.1H406.4V891.1H407.7V891.1H409.0V891.1H410.3V891.1H411.6V891.1H412.9V891.1H414.2V891.1H415.5V891.1H416.8V891.1H418.1V891.1H419.4V891.1H420.7V891.1H422.0V891.1H423.3V891.1H424.6V891.1H425.9V891.1H427.2V891.1H428.5V891.1H429.8V891.1H431.1V891.1H432.4V891.1H433.7V891.1H435.0V891.1H436.3V891.1H437.6V891.1H438.9V891.1H440.2V891.1H441.5V891.1H442.8V891.1H444.1V891.1H445.4V891.1H446.7V891.1H448.0V891.1H449.3V891.1H450.6V891.1H451.9V891.1H453.2V891.1H454.5V891.1H455.8V891.1H457.1V891.1H458.4V891.1H459.7V891.1H461.0V891.1H462.3V891.1H463.0V891.1Z" fill="#bfbb00"/>
<text x="255.00" y="885.11" font-size="5.6" fill="#333">0–396</text>
<line x1="252.50" y1="893.20" x2="463.50" y2="893.20" stroke="#dadada" stroke-width="0.8"/>
<line x1="252.50" y1="895.20" x2="463.50" y2="895.20" stroke="#dadada" stroke-width="0.8"/>
<rect x="253.00" y="905.50" width="210.00" height="10.00" fill="#fdfdfd"/>
<rect x="338.80" y="923.60" width="40.10" height="11.20" fill="#fefefe"/>
<rect x="340.30" y="918.90" width="37.10" height="4.70" fill="#ff0a0a"/>
<text x="360.00" y="931.86" font-size="6.0" text-anchor="middle" fill="#555">merg_peak 259</text>
<text x="254.70" y="939.36" font-size="9.6" font-style="italic" fill="#111">Mfn2</text>
<line x1="252.50" y1="833.50" x2="463.50" y2="833.50" stroke="#111" stroke-width="1.0"/>
<line x1="252.50" y1="944.30" x2="463.50" y2="944.30" stroke="#111" stroke-width="1.0"/>
<line x1="252.50" y1="833.50" x2="252.50" y2="944.30" stroke="#333" stroke-width="1.0"/>
<line x1="463.50" y1="833.50" x2="463.50" y2="944.30" stroke="#666" stroke-width="1.2"/>
<text x="463.50" y="952.06" font-size="8.5" text-anchor="end" textLength="119.9" lengthAdjust="spacingAndGlyphs" fill="#222">Chr4:147,902,000–147,907,700</text>
<rect x="467.50" y="833.50" width="210.50" height="110.80" fill="#f9f9f9"/>
<line x1="467.50" y1="845.60" x2="678.00" y2="845.60" stroke="#a8d0da" stroke-width="1.0"/>
<path d="M468.0,845.1V845.1H469.3V845.1H470.6V845.1H471.9V845.1H473.2V845.1H474.5V845.1H475.8V845.1H477.1V845.1H478.4V845.1H479.7V845.1H481.0V845.1H482.3V845.1H483.6V845.1H484.9V845.1H486.2V845.1H487.5V845.1H488.8V845.1H490.1V845.0H491.4V845.1H492.7V845.1H494.0V845.1H495.3V845.1H496.6V845.1H497.9V845.1H499.2V845.1H500.5V845.1H501.8V845.0H503.1V845.1H504.4V845.1H505.7V845.0H507.0V845.0H508.3V845.1H509.6V845.1H510.9V845.1H512.2V845.1H513.5V845.1H514.8V845.1H516.1V845.1H517.4V845.0H518.7V845.1H520.0V845.0H521.3V845.1H522.6V845.0H523.9V845.0H525.2V844.8H526.5V844.6H527.8V844.6H529.1V844.4H530.4V844.3H531.7V844.1H533.0V844.0H534.3V844.0H535.6V843.9H536.9V843.9H538.2V843.8H539.5V843.9H540.8V844.2H542.1V843.9H543.4V844.0H544.7V843.9H546.0V844.2H547.3V844.0H548.6V844.0H549.9V843.9H551.2V843.8H552.5V843.7H553.8V843.8H555.1V843.6H556.4V843.3H557.7V843.0H559.0V842.3H560.3V841.5H561.6V839.7H562.9V839.6H564.2V838.3H565.5V837.0H566.8V835.7H568.1V833.5H569.4V833.1H570.7V833.1H572.0V834.8H573.3V836.1H574.6V837.3H575.9V840.0H577.2V841.0H578.5V841.3H579.8V842.2H581.1V842.3H582.4V842.4H583.7V842.9H585.0V843.2H586.3V843.3H587.6V843.4H588.9V843.3H590.2V843.4H591.5V843.6H592.8V843.3H594.1V843.6H595.4V843.5H596.7V843.8H598.0V843.6H599.3V843.4H600.6V843.6H601.9V843.5H603.2V843.4H604.5V843.7H605.8V843.8H607.1V843.6H608.4V843.9H609.7V843.8H611.0V844.1H612.3V844.1H613.6V844.5H614.9V844.6H616.2V844.8H617.5V845.0H618.8V845.0H620.1V844.9H621.4V845.1H622.7V845.0H624.0V845.0H625.3V845.1H626.6V845.1H627.9V844.9H629.2V844.7H630.5V844.6H631.8V844.6H633.1V844.5H634.4V844.3H635.7V844.0H637.0V844.1H638.3V844.1H639.6V843.9H640.9V843.9H642.2V843.9H643.5V844.0H644.8V844.0H646.1V844.1H647.4V844.0H648.7V844.0H650.0V844.1H651.3V843.9H652.6V843.8H653.9V844.1H655.2V844.3H656.5V844.4H657.8V844.4H659.1V844.6H660.4V844.5H661.7V844.6H663.0V844.6H664.3V844.5H665.6V844.4H666.9V844.5H668.2V844.4H669.5V844.6H670.8V844.6H672.1V844.7H673.4V844.7H674.7V844.6H676.0V844.7H677.3V844.7H677.5V845.1Z" fill="#137b95"/>
<text x="470.00" y="839.12" font-size="5.6" fill="#333">0–30</text>
<line x1="467.50" y1="860.93" x2="678.00" y2="860.93" stroke="#e6e2a0" stroke-width="1.0"/>
<path d="M468.0,860.4V860.4H469.3V860.4H470.6V860.4H471.9V860.4H473.2V860.4H474.5V860.4H475.8V860.4H477.1V860.4H478.4V860.3H479.7V860.4H481.0V860.4H482.3V860.4H483.6V860.4H484.9V860.4H486.2V860.4H487.5V860.4H488.8V860.4H490.1V860.4H491.4V860.4H492.7V860.4H494.0V860.4H495.3V860.2H496.6V860.0H497.9V859.9H499.2V859.6H500.5V859.7H501.8V859.6H503.1V859.7H504.4V859.4H505.7V859.5H507.0V859.6H508.3V859.6H509.6V859.9H510.9V860.0H512.2V860.2H513.5V860.4H514.8V860.4H516.1V860.4H517.4V860.4H518.7V860.4H520.0V860.4H521.3V860.4H522.6V860.4H523.9V860.4H525.2V860.4H526.5V860.4H527.8V860.4H529.1V860.4H530.4V860.4H531.7V860.4H533.0V860.4H534.3V860.4H535.6V860.4H536.9V860.3H538.2V860.4H539.5V860.4H540.8V860.3H542.1V860.3H543.4V860.3H544.7V860.1H546.0V860.1H547.3V860.1H548.6V860.0H549.9V859.9H551.2V859.8H552.5V859.6H553.8V859.6H555.1V859.4H556.4V859.3H557.7V858.9H559.0V858.9H560.3V858.4H561.6V858.5H562.9V858.1H564.2V858.2H565.5V857.7H566.8V857.9H568.1V857.5H569.4V857.6H570.7V857.6H572.0V857.6H573.3V857.1H574.6V857.3H575.9V857.3H577.2V857.7H578.5V857.9H579.8V857.5H581.1V857.9H582.4V858.1H583.7V858.5H585.0V858.4H586.3V858.9H587.6V858.8H588.9V859.2H590.2V859.4H591.5V859.5H592.8V859.6H594.1V859.7H595.4V859.8H596.7V859.9H598.0V860.1H599.3V860.0H600.6V860.1H601.9V860.3H603.2V860.3H604.5V860.3H605.8V860.4H607.1V860.3H608.4V860.3H609.7V860.4H611.0V860.4H612.3V860.4H613.6V860.4H614.9V860.4H616.2V860.4H617.5V860.3H618.8V860.4H620.1V860.2H621.4V860.1H622.7V859.8H624.0V859.4H625.3V859.0H626.6V859.1H627.9V858.9H629.2V858.8H630.5V858.7H631.8V859.0H633.1V858.7H634.4V859.0H635.7V859.1H637.0V859.3H638.3V859.6H639.6V859.9H640.9V860.1H642.2V860.4H643.5V860.4H644.8V860.4H646.1V860.4H647.4V860.4H648.7V860.4H650.0V860.4H651.3V860.4H652.6V860.4H653.9V860.4H655.2V860.4H656.5V860.4H657.8V860.4H659.1V860.4H660.4V860.4H661.7V860.4H663.0V860.3H664.3V860.4H665.6V860.3H666.9V860.4H668.2V860.4H669.5V860.4H670.8V860.4H672.1V860.4H673.4V860.4H674.7V860.4H676.0V860.4H677.3V860.4H677.5V860.4Z" fill="#bfbb00"/>
<text x="470.00" y="854.45" font-size="5.6" fill="#333">0–30</text>
<line x1="467.50" y1="876.26" x2="678.00" y2="876.26" stroke="#86bccb" stroke-width="1.0"/>
<path d="M468.0,875.8V875.7H469.3V875.8H470.6V875.7H471.9V875.8H473.2V875.7H474.5V875.7H475.8V875.8H477.1V875.6H478.4V875.7H479.7V875.7H481.0V875.8H482.3V875.8H483.6V875.8H484.9V875.8H486.2V875.8H487.5V875.7H488.8V875.8H490.1V875.7H491.4V875.8H492.7V875.7H494.0V875.7H495.3V875.8H496.6V875.8H497.9V875.7H499.2V875.8H500.5V875.7H501.8V875.8H503.1V875.8H504.4V875.8H505.7V875.8H507.0V875.8H508.3V875.8H509.6V875.8H510.9V875.7H512.2V875.8H513.5V875.7H514.8V875.8H516.1V875.8H517.4V875.8H518.7V875.8H520.0V875.8H521.3V875.8H522.6V875.8H523.9V875.7H525.2V875.8H526.5V875.8H527.8V875.8H529.1V875.7H530.4V875.8H531.7V875.7H533.0V875.8H534.3V875.6H535.6V875.8H536.9V875.7H538.2V875.7H539.5V875.7H540.8V875.7H542.1V875.6H543.4V875.7H544.7V875.5H546.0V875.6H547.3V875.4H548.6V875.4H549.9V875.4H551.2V875.2H552.5V875.1H553.8V874.9H555.1V874.7H556.4V874.2H557.7V873.7H559.0V873.5H560.3V872.7H561.6V872.0H562.9V870.9H564.2V870.3H565.5V868.1H566.8V867.7H568.1V866.5H569.4V866.4H570.7V865.7H572.0V864.0H573.3V864.0H574.6V864.6H575.9V864.9H577.2V866.1H578.5V868.2H579.8V868.4H581.1V869.2H582.4V869.2H583.7V870.7H585.0V870.9H586.3V871.6H587.6V871.7H588.9V871.8H590.2V872.6H591.5V873.2H592.8V873.6H594.1V873.7H595.4V874.2H596.7V874.5H598.0V874.7H599.3V875.1H600.6V875.2H601.9V875.3H603.2V875.5H604.5V875.5H605.8V875.7H607.1V875.7H608.4V875.7H609.7V875.7H611.0V875.7H612.3V875.8H613.6V875.8H614.9V875.8H616.2V875.7H617.5V875.7H618.8V875.8H620.1V875.7H621.4V875.8H622.7V875.8H624.0V875.8H625.3V875.7H626.6V875.8H627.9V875.8H629.2V875.7H630.5V875.8H631.8V875.8H633.1V875.8H634.4V875.8H635.7V875.8H637.0V875.8H638.3V875.7H639.6V875.8H640.9V875.8H642.2V875.8H643.5V875.8H644.8V875.8H646.1V875.8H647.4V875.8H648.7V875.8H650.0V875.8H651.3V875.8H652.6V875.7H653.9V875.8H655.2V875.7H656.5V875.8H657.8V875.7H659.1V875.7H660.4V875.8H661.7V875.8H663.0V875.8H664.3V875.8H665.6V875.8H666.9V875.7H668.2V875.7H669.5V875.8H670.8V875.8H672.1V875.8H673.4V875.8H674.7V875.8H676.0V875.8H677.3V875.8H677.5V875.8Z" fill="#137b95"/>
<text x="470.00" y="869.78" font-size="5.6" fill="#333">0–92</text>
<line x1="467.50" y1="891.59" x2="678.00" y2="891.59" stroke="#d8d460" stroke-width="1.0"/>
<path d="M468.0,891.1V891.1H469.3V891.1H470.6V891.1H471.9V891.1H473.2V891.1H474.5V891.1H475.8V891.1H477.1V891.1H478.4V891.0H479.7V891.0H481.0V891.1H482.3V891.1H483.6V891.1H484.9V891.1H486.2V891.1H487.5V891.1H488.8V891.1H490.1V891.1H491.4V891.1H492.7V891.1H494.0V891.0H495.3V891.1H496.6V891.1H497.9V891.0H499.2V891.1H500.5V891.1H501.8V891.0H503.1V891.0H504.4V891.1H505.7V891.0H507.0V891.1H508.3V891.1H509.6V891.1H510.9V891.1H512.2V891.1H513.5V891.1H514.8V891.1H516.1V891.1H517.4V891.0H518.7V891.1H520.0V891.1H521.3V891.1H522.6V891.1H523.9V891.1H525.2V891.0H526.5V891.0H527.8V891.1H529.1V891.1H530.4V891.0H531.7V891.1H533.0V891.1H534.3V891.1H535.6V891.1H536.9V891.1H538.2V891.1H539.5V891.1H540.8V891.1H542.1V891.1H543.4V891.1H544.7V891.1H546.0V891.1H547.3V891.1H548.6V891.1H549.9V891.0H551.2V890.9H552.5V890.9H553.8V890.8H555.1V890.7H556.4V890.6H557.7V890.4H559.0V890.2H560.3V889.8H561.6V889.6H562.9V889.0H564.2V888.9H565.5V888.8H566.8V888.6H568.1V888.4H569.4V887.8H570.7V887.7H572.0V888.4H573.3V888.5H574.6V888.6H575.9V889.1H577.2V889.2H578.5V889.8H579.8V890.0H581.1V890.1H582.4V890.5H583.7V890.6H585.0V890.7H586.3V890.8H587.6V891.0H588.9V891.0H590.2V891.0H591.5V891.1H592.8V891.0H594.1V891.0H595.4V891.1H596.7V891.1H598.0V891.1H599.3V891.0H600.6V891.1H601.9V891.1H603.2V891.1H604.5V891.1H605.8V891.1H607.1V891.1H608.4V891.1H609.7V891.1H611.0V890.8H612.3V890.2H613.6V889.4H614.9V889.0H616.2V889.0H617.5V889.0H618.8V888.9H620.1V889.7H621.4V890.0H622.7V890.8H624.0V891.1H625.3V891.1H626.6V891.1H627.9V891.1H629.2V891.1H630.5V891.1H631.8V891.1H633.1V891.1H634.4V891.1H635.7V891.1H637.0V891.1H638.3V891.1H639.6V891.0H640.9V891.1H642.2V891.1H643.5V891.1H644.8V891.1H646.1V891.1H647.4V891.1H648.7V891.1H650.0V891.1H651.3V891.0H652.6V891.1H653.9V891.1H655.2V891.1H656.5V891.1H657.8V891.1H659.1V891.0H660.4V891.1H661.7V891.1H663.0V891.1H664.3V891.0H665.6V891.1H666.9V891.0H668.2V891.1H669.5V891.1H670.8V891.1H672.1V891.1H673.4V891.1H674.7V891.1H676.0V891.1H677.3V891.1H677.5V891.1Z" fill="#bfbb00"/>
<text x="470.00" y="885.11" font-size="5.6" fill="#333">0–92</text>
<line x1="467.50" y1="893.20" x2="678.00" y2="893.20" stroke="#dadada" stroke-width="0.8"/>
<line x1="467.50" y1="895.20" x2="678.00" y2="895.20" stroke="#dadada" stroke-width="0.8"/>
<rect x="468.00" y="905.50" width="209.50" height="10.00" fill="#fdfdfd"/>
<rect x="554.40" y="923.60" width="44.10" height="11.20" fill="#fefefe"/>
<rect x="555.90" y="918.90" width="41.10" height="4.70" fill="#ff0a0a"/>
<text x="579.90" y="931.86" font-size="6.0" text-anchor="middle" fill="#555">merg_peak 720</text>
<text x="469.70" y="939.36" font-size="9.6" font-style="italic" fill="#111">Sod2</text>
<line x1="467.50" y1="833.50" x2="678.00" y2="833.50" stroke="#111" stroke-width="1.0"/>
<line x1="467.50" y1="944.30" x2="678.00" y2="944.30" stroke="#111" stroke-width="1.0"/>
<line x1="467.50" y1="833.50" x2="467.50" y2="944.30" stroke="#333" stroke-width="1.0"/>
<line x1="678.00" y1="833.50" x2="678.00" y2="944.30" stroke="#666" stroke-width="1.2"/>
<text x="678.00" y="952.06" font-size="8.5" text-anchor="end" textLength="111.2" lengthAdjust="spacingAndGlyphs" fill="#222">Chr17:13,005,200–13,010,400</text>
<line x1="40.60" y1="654.90" x2="176.20" y2="654.90" stroke="#333" stroke-width="0.8"/>
<line x1="43.60" y1="653.60" x2="43.60" y2="656.20" stroke="#333" stroke-width="0.6"/>
<line x1="54.00" y1="653.60" x2="54.00" y2="656.20" stroke="#333" stroke-width="0.6"/>
<line x1="64.40" y1="653.60" x2="64.40" y2="656.20" stroke="#333" stroke-width="0.6"/>
<line x1="74.80" y1="653.60" x2="74.80" y2="656.20" stroke="#333" stroke-width="0.6"/>
<line x1="85.20" y1="653.60" x2="85.20" y2="656.20" stroke="#333" stroke-width="0.6"/>
<line x1="95.60" y1="653.60" x2="95.60" y2="656.20" stroke="#333" stroke-width="0.6"/>
<line x1="106.00" y1="653.60" x2="106.00" y2="656.20" stroke="#333" stroke-width="0.6"/>
<line x1="116.40" y1="653.60" x2="116.40" y2="656.20" stroke="#333" stroke-width="0.6"/>
<line x1="126.80" y1="653.60" x2="126.80" y2="656.20" stroke="#333" stroke-width="0.6"/>
<line x1="137.20" y1="653.60" x2="137.20" y2="656.20" stroke="#333" stroke-width="0.6"/>
<line x1="147.60" y1="653.60" x2="147.60" y2="656.20" stroke="#333" stroke-width="0.6"/>
<line x1="158.00" y1="653.60" x2="158.00" y2="656.20" stroke="#333" stroke-width="0.6"/>
<line x1="168.40" y1="653.60" x2="168.40" y2="656.20" stroke="#333" stroke-width="0.6"/>
<rect x="144.90" y="653.10" width="30.70" height="3.60" fill="#333"/>
<line x1="119.10" y1="651.40" x2="119.10" y2="658.40" stroke="#333" stroke-width="0.8"/>
<line x1="136.00" y1="652.90" x2="136.00" y2="656.90" stroke="#333" stroke-width="0.8"/>
<text x="74.20" y="668.39" font-size="8.3" text-anchor="middle" font-style="italic" fill="#666">Ppargc1b</text>
<text x="118.80" y="668.39" font-size="8.3" text-anchor="middle" font-style="italic" fill="#666">Mir378a</text>
<text x="158.40" y="668.39" font-size="8.3" text-anchor="middle" font-style="italic" fill="#666">Gm52354</text>
<line x1="253.00" y1="654.90" x2="347.80" y2="654.90" stroke="#333" stroke-width="0.8"/>
<line x1="256.00" y1="653.60" x2="256.00" y2="656.20" stroke="#333" stroke-width="0.6"/>
<line x1="271.50" y1="653.60" x2="271.50" y2="656.20" stroke="#333" stroke-width="0.6"/>
<line x1="287.00" y1="653.60" x2="287.00" y2="656.20" stroke="#333" stroke-width="0.6"/>
<line x1="302.50" y1="653.60" x2="302.50" y2="656.20" stroke="#333" stroke-width="0.6"/>
<line x1="318.00" y1="653.60" x2="318.00" y2="656.20" stroke="#333" stroke-width="0.6"/>
<line x1="333.50" y1="653.60" x2="333.50" y2="656.20" stroke="#333" stroke-width="0.6"/>
<rect x="347.80" y="651.90" width="7.70" height="6.00" fill="#333"/>
<rect x="355.50" y="652.90" width="3.50" height="4.00" fill="#333"/>
<text x="315.60" y="668.99" font-size="8.3" text-anchor="middle" font-style="italic" fill="#666">Rbfa</text>
<line x1="467.50" y1="654.90" x2="678.00" y2="654.90" stroke="#333" stroke-width="0.8"/>
<line x1="470.50" y1="653.60" x2="470.50" y2="656.20" stroke="#333" stroke-width="0.6"/>
<line x1="482.00" y1="653.60" x2="482.00" y2="656.20" stroke="#333" stroke-width="0.6"/>
<line x1="493.50" y1="653.60" x2="493.50" y2="656.20" stroke="#333" stroke-width="0.6"/>
<line x1="505.00" y1="653.60" x2="505.00" y2="656.20" stroke="#333" stroke-width="0.6"/>
<line x1="516.50" y1="653.60" x2="516.50" y2="656.20" stroke="#333" stroke-width="0.6"/>
<line x1="528.00" y1="653.60" x2="528.00" y2="656.20" stroke="#333" stroke-width="0.6"/>
<line x1="539.50" y1="653.60" x2="539.50" y2="656.20" stroke="#333" stroke-width="0.6"/>
<line x1="551.00" y1="653.60" x2="551.00" y2="656.20" stroke="#333" stroke-width="0.6"/>
<line x1="562.50" y1="653.60" x2="562.50" y2="656.20" stroke="#333" stroke-width="0.6"/>
<line x1="574.00" y1="653.60" x2="574.00" y2="656.20" stroke="#333" stroke-width="0.6"/>
<line x1="585.50" y1="653.60" x2="585.50" y2="656.20" stroke="#333" stroke-width="0.6"/>
<line x1="597.00" y1="653.60" x2="597.00" y2="656.20" stroke="#333" stroke-width="0.6"/>
<line x1="608.50" y1="653.60" x2="608.50" y2="656.20" stroke="#333" stroke-width="0.6"/>
<line x1="620.00" y1="653.60" x2="620.00" y2="656.20" stroke="#333" stroke-width="0.6"/>
<line x1="631.50" y1="653.60" x2="631.50" y2="656.20" stroke="#333" stroke-width="0.6"/>
<line x1="643.00" y1="653.60" x2="643.00" y2="656.20" stroke="#333" stroke-width="0.6"/>
<line x1="654.50" y1="653.60" x2="654.50" y2="656.20" stroke="#333" stroke-width="0.6"/>
<line x1="666.00" y1="653.60" x2="666.00" y2="656.20" stroke="#333" stroke-width="0.6"/>
<rect x="488.90" y="651.65" width="7.20" height="6.50" fill="#333"/>
<rect x="496.10" y="652.90" width="33.90" height="4.00" fill="#333"/>
<rect x="577.30" y="651.65" width="7.50" height="6.50" fill="#333"/>
<rect x="580.00" y="651.65" width="4.80" height="6.50" fill="#333"/>
<rect x="619.30" y="651.65" width="12.50" height="6.50" fill="#333"/>
<rect x="648.20" y="651.65" width="5.60" height="6.50" fill="#333"/>
<rect x="574.00" y="653.40" width="3.30" height="3.00" fill="#333"/>
<text x="469.90" y="667.79" font-size="8.3" font-style="italic" fill="#666">Hgs</text>
<text x="614.40" y="667.79" font-size="8.3" font-style="italic" fill="#666">Mrpl12</text>
<line x1="38.60" y1="777.80" x2="147.80" y2="777.80" stroke="#333" stroke-width="0.8"/>
<line x1="41.60" y1="776.50" x2="41.60" y2="779.10" stroke="#333" stroke-width="0.6"/>
<line x1="54.60" y1="776.50" x2="54.60" y2="779.10" stroke="#333" stroke-width="0.6"/>
<line x1="67.60" y1="776.50" x2="67.60" y2="779.10" stroke="#333" stroke-width="0.6"/>
<line x1="80.60" y1="776.50" x2="80.60" y2="779.10" stroke="#333" stroke-width="0.6"/>
<line x1="93.60" y1="776.50" x2="93.60" y2="779.10" stroke="#333" stroke-width="0.6"/>
<line x1="106.60" y1="776.50" x2="106.60" y2="779.10" stroke="#333" stroke-width="0.6"/>
<line x1="119.60" y1="776.50" x2="119.60" y2="779.10" stroke="#333" stroke-width="0.6"/>
<line x1="132.60" y1="776.50" x2="132.60" y2="779.10" stroke="#333" stroke-width="0.6"/>
<line x1="145.60" y1="776.50" x2="145.60" y2="779.10" stroke="#333" stroke-width="0.6"/>
<rect x="70.40" y="774.80" width="7.30" height="6.00" fill="#333"/>
<rect x="81.40" y="774.80" width="3.60" height="6.00" fill="#333"/>
<rect x="138.00" y="774.80" width="4.30" height="6.00" fill="#333"/>
<rect x="142.30" y="775.80" width="5.50" height="4.00" fill="#333"/>
<text x="98.50" y="791.29" font-size="8.3" text-anchor="middle" font-style="italic" fill="#666">Ndufv1</text>
<line x1="362.60" y1="777.80" x2="463.50" y2="777.80" stroke="#333" stroke-width="0.8"/>
<line x1="365.60" y1="776.50" x2="365.60" y2="779.10" stroke="#333" stroke-width="0.6"/>
<line x1="380.60" y1="776.50" x2="380.60" y2="779.10" stroke="#333" stroke-width="0.6"/>
<line x1="395.60" y1="776.50" x2="395.60" y2="779.10" stroke="#333" stroke-width="0.6"/>
<line x1="410.60" y1="776.50" x2="410.60" y2="779.10" stroke="#333" stroke-width="0.6"/>
<line x1="425.60" y1="776.50" x2="425.60" y2="779.10" stroke="#333" stroke-width="0.6"/>
<line x1="440.60" y1="776.50" x2="440.60" y2="779.10" stroke="#333" stroke-width="0.6"/>
<line x1="455.60" y1="776.50" x2="455.60" y2="779.10" stroke="#333" stroke-width="0.6"/>
<rect x="362.30" y="774.80" width="9.20" height="6.00" fill="#333"/>
<rect x="359.50" y="775.80" width="2.80" height="4.00" fill="#333"/>
<text x="416.50" y="790.99" font-size="8.3" text-anchor="middle" font-style="italic" fill="#666">Ndufb2</text>
<line x1="467.50" y1="777.80" x2="678.00" y2="777.80" stroke="#333" stroke-width="0.8"/>
<line x1="470.50" y1="776.50" x2="470.50" y2="779.10" stroke="#333" stroke-width="0.6"/>
<line x1="485.50" y1="776.50" x2="485.50" y2="779.10" stroke="#333" stroke-width="0.6"/>
<line x1="500.50" y1="776.50" x2="500.50" y2="779.10" stroke="#333" stroke-width="0.6"/>
<line x1="515.50" y1="776.50" x2="515.50" y2="779.10" stroke="#333" stroke-width="0.6"/>
<line x1="530.50" y1="776.50" x2="530.50" y2="779.10" stroke="#333" stroke-width="0.6"/>
<line x1="545.50" y1="776.50" x2="545.50" y2="779.10" stroke="#333" stroke-width="0.6"/>
<line x1="560.50" y1="776.50" x2="560.50" y2="779.10" stroke="#333" stroke-width="0.6"/>
<line x1="575.50" y1="776.50" x2="575.50" y2="779.10" stroke="#333" stroke-width="0.6"/>
<line x1="590.50" y1="776.50" x2="590.50" y2="779.10" stroke="#333" stroke-width="0.6"/>
<line x1="605.50" y1="776.50" x2="605.50" y2="779.10" stroke="#333" stroke-width="0.6"/>
<line x1="620.50" y1="776.50" x2="620.50" y2="779.10" stroke="#333" stroke-width="0.6"/>
<line x1="635.50" y1="776.50" x2="635.50" y2="779.10" stroke="#333" stroke-width="0.6"/>
<line x1="650.50" y1="776.50" x2="650.50" y2="779.10" stroke="#333" stroke-width="0.6"/>
<line x1="665.50" y1="776.50" x2="665.50" y2="779.10" stroke="#333" stroke-width="0.6"/>
<rect x="570.00" y="776.05" width="11.50" height="3.50" fill="#333"/>
<rect x="581.50" y="774.55" width="4.00" height="6.50" fill="#333"/>
<text x="636.70" y="790.99" font-size="8.3" text-anchor="middle" font-style="italic" fill="#666">Cox5a</text>
<line x1="38.60" y1="901.50" x2="136.90" y2="901.50" stroke="#333" stroke-width="0.8"/>
<line x1="41.60" y1="900.20" x2="41.60" y2="902.80" stroke="#333" stroke-width="0.6"/>
<line x1="55.10" y1="900.20" x2="55.10" y2="902.80" stroke="#333" stroke-width="0.6"/>
<line x1="68.60" y1="900.20" x2="68.60" y2="902.80" stroke="#333" stroke-width="0.6"/>
<line x1="82.10" y1="900.20" x2="82.10" y2="902.80" stroke="#333" stroke-width="0.6"/>
<line x1="95.60" y1="900.20" x2="95.60" y2="902.80" stroke="#333" stroke-width="0.6"/>
<line x1="109.10" y1="900.20" x2="109.10" y2="902.80" stroke="#333" stroke-width="0.6"/>
<line x1="122.60" y1="900.20" x2="122.60" y2="902.80" stroke="#333" stroke-width="0.6"/>
<line x1="136.90" y1="898.50" x2="136.90" y2="904.50" stroke="#333" stroke-width="0.9"/>
<text x="40.00" y="912.39" font-size="8.3" font-style="italic" fill="#666">Atp5j2</text>
<line x1="253.00" y1="901.50" x2="360.60" y2="901.50" stroke="#333" stroke-width="0.8"/>
<line x1="256.00" y1="900.20" x2="256.00" y2="902.80" stroke="#333" stroke-width="0.6"/>
<line x1="268.00" y1="900.20" x2="268.00" y2="902.80" stroke="#333" stroke-width="0.6"/>
<line x1="280.00" y1="900.20" x2="280.00" y2="902.80" stroke="#333" stroke-width="0.6"/>
<line x1="292.00" y1="900.20" x2="292.00" y2="902.80" stroke="#333" stroke-width="0.6"/>
<line x1="304.00" y1="900.20" x2="304.00" y2="902.80" stroke="#333" stroke-width="0.6"/>
<line x1="316.00" y1="900.20" x2="316.00" y2="902.80" stroke="#333" stroke-width="0.6"/>
<line x1="328.00" y1="900.20" x2="328.00" y2="902.80" stroke="#333" stroke-width="0.6"/>
<line x1="340.00" y1="900.20" x2="340.00" y2="902.80" stroke="#333" stroke-width="0.6"/>
<line x1="352.00" y1="900.20" x2="352.00" y2="902.80" stroke="#333" stroke-width="0.6"/>
<rect x="287.70" y="899.00" width="3.30" height="5.00" fill="#333"/>
<rect x="303.10" y="898.75" width="6.00" height="5.50" fill="#333"/>
<rect x="313.00" y="899.50" width="47.60" height="4.00" fill="#333"/>
<text x="291.00" y="913.99" font-size="8.3" text-anchor="middle" font-style="italic" fill="#666">Mfn2</text>
<line x1="570.00" y1="901.50" x2="678.00" y2="901.50" stroke="#333" stroke-width="0.8"/>
<line x1="573.00" y1="900.20" x2="573.00" y2="902.80" stroke="#333" stroke-width="0.6"/>
<line x1="584.00" y1="900.20" x2="584.00" y2="902.80" stroke="#333" stroke-width="0.6"/>
<line x1="595.00" y1="900.20" x2="595.00" y2="902.80" stroke="#333" stroke-width="0.6"/>
<line x1="606.00" y1="900.20" x2="606.00" y2="902.80" stroke="#333" stroke-width="0.6"/>
<line x1="617.00" y1="900.20" x2="617.00" y2="902.80" stroke="#333" stroke-width="0.6"/>
<line x1="628.00" y1="900.20" x2="628.00" y2="902.80" stroke="#333" stroke-width="0.6"/>
<line x1="639.00" y1="900.20" x2="639.00" y2="902.80" stroke="#333" stroke-width="0.6"/>
<line x1="650.00" y1="900.20" x2="650.00" y2="902.80" stroke="#333" stroke-width="0.6"/>
<line x1="661.00" y1="900.20" x2="661.00" y2="902.80" stroke="#333" stroke-width="0.6"/>
<line x1="672.00" y1="900.20" x2="672.00" y2="902.80" stroke="#333" stroke-width="0.6"/>
<rect x="570.00" y="899.60" width="8.90" height="3.80" fill="#333"/>
<rect x="584.20" y="898.25" width="7.80" height="6.50" fill="#333"/>
<text x="635.10" y="913.99" font-size="8.3" text-anchor="middle" font-style="italic" fill="#666">Sod2</text>
</svg></body></html>
